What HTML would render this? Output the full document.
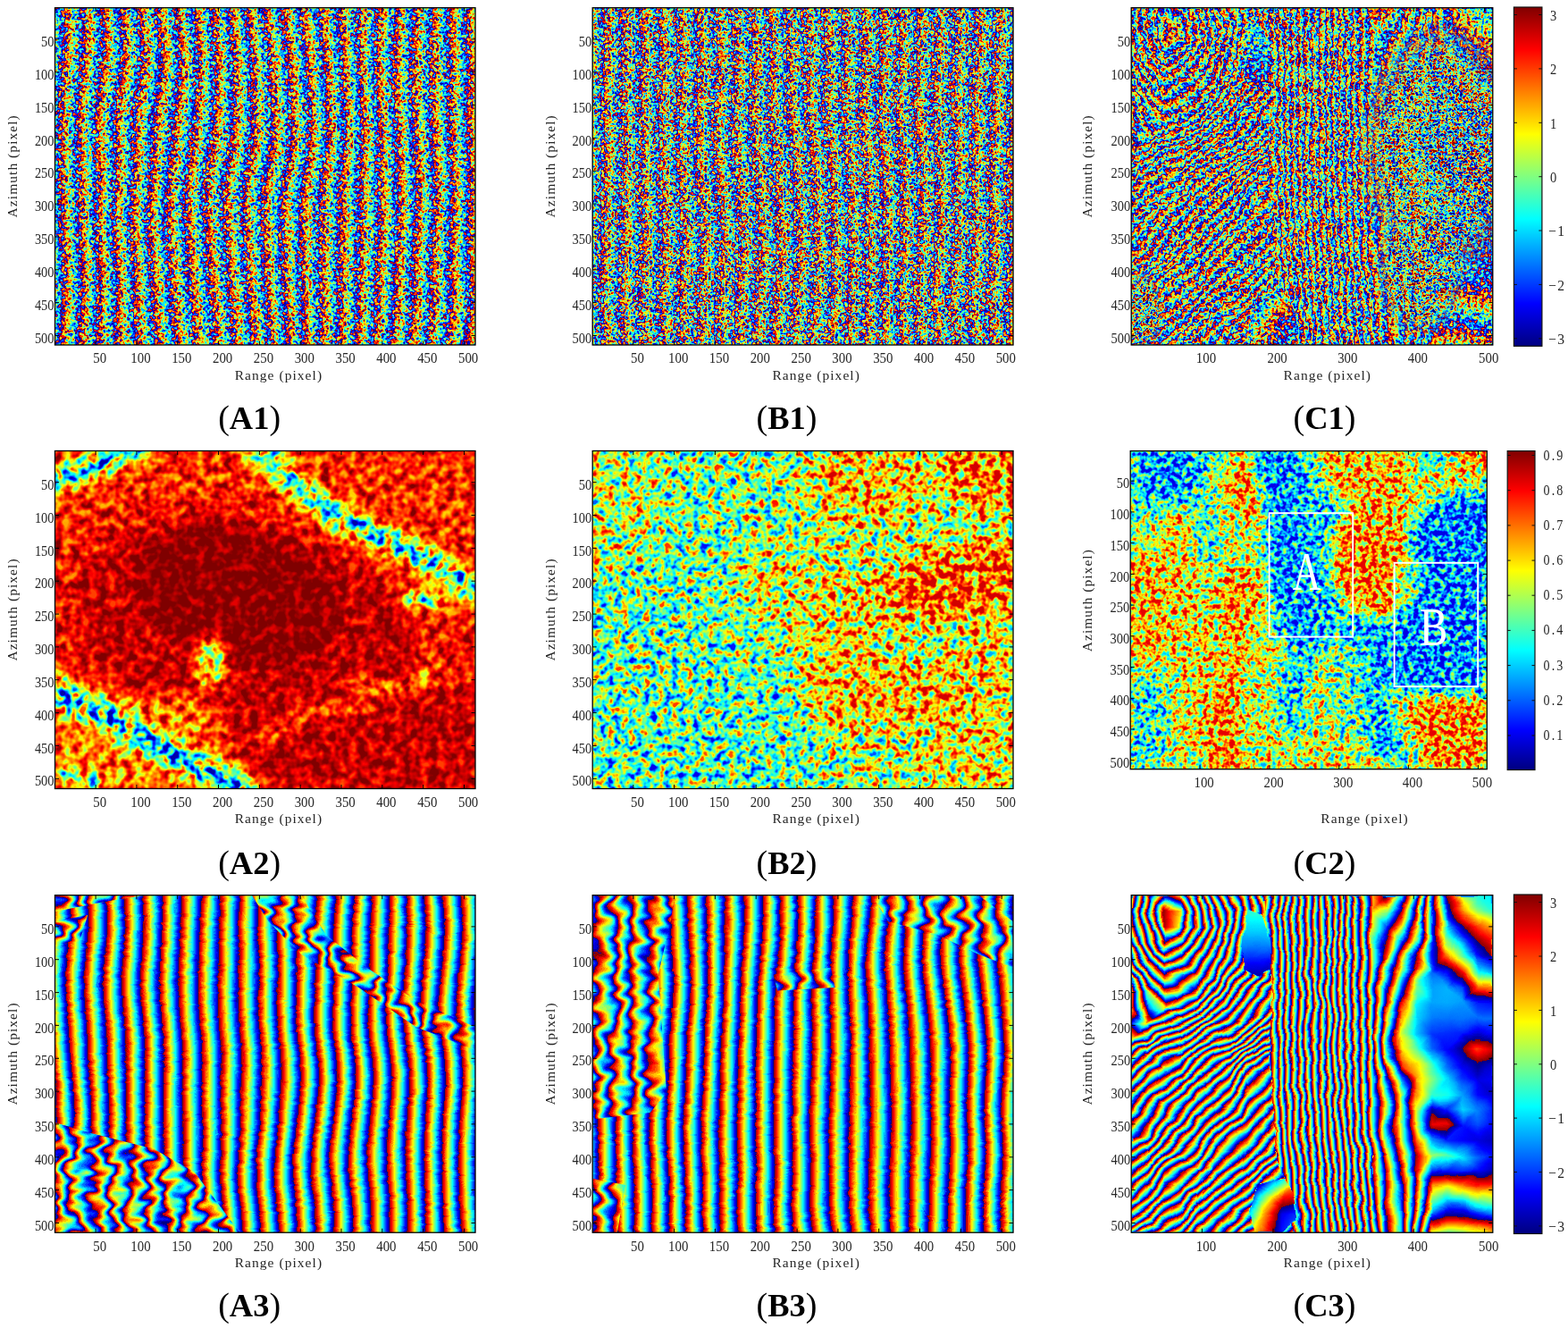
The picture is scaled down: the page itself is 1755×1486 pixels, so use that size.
<!DOCTYPE html>
<html lang="en"><head><meta charset="utf-8"><title>Interferograms, coherence maps and filtered phase</title>
<style>
html,body{margin:0;padding:0;background:#fff;}
body{width:1755px;height:1486px;overflow:hidden;}
svg{display:block;}
text{font-family:"Liberation Serif","Noto Serif CJK SC",serif;}
.pl{font-size:36.5px;}
.pb{font-weight:bold;}
.pp{font-weight:normal;font-size:38px;}
</style></head>
<body>
<svg width="1755" height="1486" viewBox="0 0 1755 1486">
<defs>
<linearGradient id="sw" gradientUnits="userSpaceOnUse" spreadMethod="repeat"><stop offset="0" stop-color="#fff"/><stop offset="1" stop-color="#000"/></linearGradient>
<clipPath id="kcr"><path d="M267.3,0.7L404.8,0.7L404.8,378.2L267.3,378.2Z"/></clipPath>
<linearGradient id="k0" href="#sw" x1="241.82" y1="-1.79" x2="200.32" y2="-5.60"/>
<linearGradient id="k1" href="#sw" x1="286.37" y1="2.55" x2="294.96" y2="34.36"/>
<linearGradient id="k2" href="#sw" x1="286.96" y1="1.30" x2="305.76" y2="11.64"/>
<linearGradient id="k3" href="#sw" x1="286.85" y1="1.55" x2="303.73" y2="16.11"/>
<linearGradient id="k4" href="#sw" x1="307.99" y1="2.53" x2="322.09" y2="7.57"/>
<linearGradient id="k5" href="#sw" x1="324.25" y1="2.16" x2="339.16" y2="7.10"/>
<linearGradient id="k6" href="#sw" x1="322.35" y1="0.88" x2="330.83" y2="1.51"/>
<linearGradient id="k7" href="#sw" x1="322.54" y1="1.21" x2="331.67" y2="2.94"/>
<linearGradient id="k8" href="#sw" x1="340.70" y1="1.13" x2="353.49" y2="2.56"/>
<linearGradient id="k9" href="#sw" x1="369.12" y1="-0.24" x2="384.57" y2="-1.19"/>
<linearGradient id="k10" href="#sw" x1="385.01" y1="-12.53" x2="416.52" y2="-25.89"/>
<linearGradient id="k11" href="#sw" x1="402.88" y1="-9.32" x2="452.43" y2="-19.43"/>
<linearGradient id="k12" href="#sw" x1="392.92" y1="-30.16" x2="434.42" y2="-88.07"/>
<linearGradient id="k13" href="#sw" x1="411.79" y1="-11.96" x2="472.65" y2="-44.10"/>
<linearGradient id="k14" href="#sw" x1="469.96" y1="-107.14" x2="678.53" y2="-380.92"/>
<linearGradient id="k15" href="#sw" x1="416.76" y1="-30.58" x2="490.24" y2="-109.99"/>
<linearGradient id="k16" href="#sw" x1="278.99" y1="45.78" x2="293.65" y2="86.25"/>
<linearGradient id="k17" href="#sw" x1="294.13" y1="20.61" x2="330.73" y2="24.60"/>
<linearGradient id="k18" href="#sw" x1="297.44" y1="25.30" x2="318.27" y2="38.70"/>
<linearGradient id="k19" href="#sw" x1="325.53" y1="31.79" x2="348.71" y2="46.02"/>
<linearGradient id="k20" href="#sw" x1="318.40" y1="21.03" x2="334.28" y2="24.28"/>
<linearGradient id="k21" href="#sw" x1="319.06" y1="23.69" x2="335.61" y2="29.65"/>
<linearGradient id="k22" href="#sw" x1="328.72" y1="18.89" x2="338.04" y2="19.98"/>
<linearGradient id="k23" href="#sw" x1="338.50" y1="17.84" x2="349.31" y2="17.74"/>
<linearGradient id="k24" href="#sw" x1="339.12" y1="17.38" x2="353.96" y2="14.24"/>
<linearGradient id="k25" href="#sw" x1="339.81" y1="17.81" x2="359.19" y2="17.49"/>
<linearGradient id="k26" href="#sw" x1="355.82" y1="16.46" x2="390.38" y2="-7.82"/>
<linearGradient id="k27" href="#sw" x1="391.49" y1="-5.53" x2="419.85" y2="-37.64"/>
<linearGradient id="k28" href="#sw" x1="390.90" y1="-9.26" x2="418.45" y2="-46.49"/>
<linearGradient id="k29" href="#sw" x1="390.75" y1="-8.99" x2="418.12" y2="-45.84"/>
<linearGradient id="k30" href="#sw" x1="397.22" y1="-8.14" x2="415.65" y2="-59.10"/>
<linearGradient id="k31" href="#sw" x1="416.02" y1="-2.44" x2="443.83" y2="-52.72"/>
<linearGradient id="k32" href="#sw" x1="291.90" y1="38.92" x2="327.90" y2="45.03"/>
<linearGradient id="k33" href="#sw" x1="290.56" y1="36.64" x2="316.54" y2="45.62"/>
<linearGradient id="k34" href="#sw" x1="289.28" y1="37.85" x2="308.16" y2="53.54"/>
<linearGradient id="k35" href="#sw" x1="289.58" y1="35.98" x2="310.10" y2="41.33"/>
<linearGradient id="k36" href="#sw" x1="312.66" y1="39.79" x2="327.77" y2="47.15"/>
<linearGradient id="k37" href="#sw" x1="332.68" y1="40.60" x2="350.02" y2="48.15"/>
<linearGradient id="k38" href="#sw" x1="327.84" y1="35.09" x2="338.65" y2="35.19"/>
<linearGradient id="k39" href="#sw" x1="329.30" y1="37.79" x2="342.08" y2="41.53"/>
<linearGradient id="k40" href="#sw" x1="340.09" y1="35.07" x2="359.47" y2="35.39"/>
<linearGradient id="k41" href="#sw" x1="360.76" y1="32.50" x2="384.57" y2="23.86"/>
<linearGradient id="k42" href="#sw" x1="365.78" y1="25.94" x2="406.81" y2="-5.23"/>
<linearGradient id="k43" href="#sw" x1="364.32" y1="26.80" x2="400.35" y2="-1.41"/>
<linearGradient id="k44" href="#sw" x1="372.04" y1="33.92" x2="414.41" y2="-4.39"/>
<linearGradient id="k45" href="#sw" x1="423.73" y1="6.44" x2="468.18" y2="-28.93"/>
<linearGradient id="k46" href="#sw" x1="418.96" y1="-9.91" x2="457.50" y2="-65.50"/>
<linearGradient id="k47" href="#sw" x1="421.68" y1="-16.38" x2="463.60" y2="-79.99"/>
<linearGradient id="k48" href="#sw" x1="283.49" y1="57.16" x2="309.54" y2="66.04"/>
<linearGradient id="k49" href="#sw" x1="281.03" y1="52.20" x2="302.69" y2="52.23"/>
<linearGradient id="k50" href="#sw" x1="305.95" y1="57.34" x2="326.51" y2="62.62"/>
<linearGradient id="k51" href="#sw" x1="305.79" y1="53.40" x2="320.34" y2="59.49"/>
<linearGradient id="k52" href="#sw" x1="306.23" y1="53.80" x2="322.96" y2="61.87"/>
<linearGradient id="k53" href="#sw" x1="306.22" y1="53.91" x2="322.87" y2="62.51"/>
<linearGradient id="k54" href="#sw" x1="324.59" y1="53.72" x2="337.14" y2="57.79"/>
<linearGradient id="k55" href="#sw" x1="339.99" y1="52.19" x2="360.57" y2="52.25"/>
<linearGradient id="k56" href="#sw" x1="340.37" y1="50.73" x2="363.42" y2="41.25"/>
<linearGradient id="k57" href="#sw" x1="343.94" y1="52.23" x2="390.32" y2="52.54"/>
<linearGradient id="k58" href="#sw" x1="370.83" y1="37.10" x2="403.37" y2="8.26"/>
<linearGradient id="k59" href="#sw" x1="378.66" y1="46.04" x2="412.70" y2="19.39"/>
<linearGradient id="k60" href="#sw" x1="383.08" y1="44.79" x2="436.36" y2="12.71"/>
<linearGradient id="k61" href="#sw" x1="378.48" y1="46.66" x2="411.73" y2="22.71"/>
<linearGradient id="k62" href="#sw" x1="447.29" y1="-16.12" x2="506.99" y2="-84.68"/>
<linearGradient id="k63" href="#sw" x1="466.39" y1="2.59" x2="536.90" y2="-54.18"/>
<linearGradient id="k64" href="#sw" x1="281.00" y1="69.09" x2="302.65" y2="68.65"/>
<linearGradient id="k65" href="#sw" x1="296.13" y1="72.54" x2="309.37" y2="76.68"/>
<linearGradient id="k66" href="#sw" x1="297.91" y1="73.15" x2="313.45" y2="78.08"/>
<linearGradient id="k67" href="#sw" x1="298.01" y1="74.04" x2="313.68" y2="80.11"/>
<linearGradient id="k68" href="#sw" x1="317.16" y1="74.93" x2="335.46" y2="82.10"/>
<linearGradient id="k69" href="#sw" x1="338.79" y1="76.27" x2="358.18" y2="83.37"/>
<linearGradient id="k70" href="#sw" x1="339.80" y1="67.64" x2="360.22" y2="65.91"/>
<linearGradient id="k71" href="#sw" x1="345.78" y1="84.96" x2="372.34" y2="100.95"/>
<linearGradient id="k72" href="#sw" x1="343.58" y1="68.05" x2="388.32" y2="59.49"/>
<linearGradient id="k73" href="#sw" x1="367.39" y1="32.34" x2="384.67" y2="-14.83"/>
<linearGradient id="k74" href="#sw" x1="370.37" y1="48.39" x2="391.46" y2="21.69"/>
<linearGradient id="k75" href="#sw" x1="373.88" y1="42.18" x2="399.45" y2="7.54"/>
<linearGradient id="k76" href="#sw" x1="381.00" y1="57.48" x2="402.43" y2="32.52"/>
<linearGradient id="k77" href="#sw" x1="391.66" y1="67.28" x2="419.45" y2="52.40"/>
<linearGradient id="k78" href="#sw" x1="391.16" y1="62.81" x2="415.32" y2="15.64"/>
<linearGradient id="k79" href="#sw" x1="391.28" y1="61.65" x2="416.34" y2="6.17"/>
<linearGradient id="k80" href="#sw" x1="276.83" y1="88.30" x2="290.65" y2="91.44"/>
<linearGradient id="k81" href="#sw" x1="276.90" y1="88.49" x2="290.82" y2="91.97"/>
<linearGradient id="k82" href="#sw" x1="292.65" y1="88.41" x2="309.34" y2="93.11"/>
<linearGradient id="k83" href="#sw" x1="310.58" y1="88.68" x2="327.25" y2="93.39"/>
<linearGradient id="k84" href="#sw" x1="312.42" y1="88.95" x2="333.05" y2="94.26"/>
<linearGradient id="k85" href="#sw" x1="312.64" y1="90.20" x2="333.75" y2="98.20"/>
<linearGradient id="k86" href="#sw" x1="341.05" y1="95.47" x2="371.75" y2="108.46"/>
<linearGradient id="k87" href="#sw" x1="353.55" y1="81.56" x2="429.04" y2="59.24"/>
<linearGradient id="k88" href="#sw" x1="345.44" y1="72.21" x2="384.29" y2="7.69"/>
<linearGradient id="k89" href="#sw" x1="320.98" y1="29.44" x2="249.36" y2="-228.33"/>
<linearGradient id="k90" href="#sw" x1="358.36" y1="82.76" x2="401.51" y2="47.19"/>
<linearGradient id="k91" href="#sw" x1="385.02" y1="44.83" x2="401.32" y2="-3.03"/>
<linearGradient id="k92" href="#sw" x1="390.15" y1="71.40" x2="412.35" y2="54.05"/>
<linearGradient id="k93" href="#sw" x1="393.18" y1="69.62" x2="418.86" y2="50.24"/>
<linearGradient id="k94" href="#sw" x1="392.92" y1="69.98" x2="405.84" y2="28.22"/>
<linearGradient id="k95" href="#sw" x1="405.44" y1="76.11" x2="407.74" y2="39.07"/>
<linearGradient id="k96" href="#sw" x1="273.07" y1="103.22" x2="287.70" y2="101.69"/>
<linearGradient id="k97" href="#sw" x1="287.60" y1="103.76" x2="300.14" y2="104.50"/>
<linearGradient id="k98" href="#sw" x1="288.15" y1="104.33" x2="304.70" y2="109.22"/>
<linearGradient id="k99" href="#sw" x1="287.90" y1="103.80" x2="302.67" y2="104.83"/>
<linearGradient id="k100" href="#sw" x1="306.90" y1="105.26" x2="327.77" y2="113.53"/>
<linearGradient id="k101" href="#sw" x1="334.92" y1="106.71" x2="365.68" y2="112.95"/>
<linearGradient id="k102" href="#sw" x1="360.08" y1="103.11" x2="442.15" y2="102.01"/>
<linearGradient id="k103" href="#sw" x1="358.27" y1="146.95" x2="436.65" y2="235.29"/>
<linearGradient id="k104" href="#sw" x1="61.30" y1="58.46" x2="-911.80" y2="-101.16"/>
<linearGradient id="k105" href="#sw" x1="78.89" y1="522.27" x2="-837.07" y2="1916.93"/>
<linearGradient id="k106" href="#sw" x1="382.04" y1="80.59" x2="476.02" y2="3.76"/>
<linearGradient id="k107" href="#sw" x1="648.07" y1="346.86" x2="1628.35" y2="1157.13"/>
<linearGradient id="k108" href="#sw" x1="378.22" y1="102.10" x2="416.83" y2="93.98"/>
<linearGradient id="k109" href="#sw" x1="397.70" y1="72.75" x2="410.54" y2="32.64"/>
<linearGradient id="k110" href="#sw" x1="390.26" y1="70.12" x2="393.43" y2="26.59"/>
<linearGradient id="k111" href="#sw" x1="389.95" y1="69.72" x2="392.72" y2="25.67"/>
<linearGradient id="k112" href="#sw" x1="273.73" y1="121.96" x2="285.66" y2="124.76"/>
<linearGradient id="k113" href="#sw" x1="273.00" y1="120.79" x2="283.11" y2="120.74"/>
<linearGradient id="k114" href="#sw" x1="286.65" y1="121.03" x2="300.43" y2="124.85"/>
<linearGradient id="k115" href="#sw" x1="317.57" y1="123.58" x2="333.70" y2="126.62"/>
<linearGradient id="k116" href="#sw" x1="331.81" y1="123.52" x2="363.55" y2="126.48"/>
<linearGradient id="k117" href="#sw" x1="335.01" y1="136.70" x2="370.27" y2="154.13"/>
<linearGradient id="k118" href="#sw" x1="373.33" y1="148.56" x2="513.54" y2="221.30"/>
<linearGradient id="k119" href="#sw" x1="384.16" y1="142.55" x2="549.61" y2="218.56"/>
<linearGradient id="k120" href="#sw" x1="326.97" y1="212.92" x2="292.45" y2="534.99"/>
<linearGradient id="k121" href="#sw" x1="360.69" y1="240.81" x2="444.09" y2="660.40"/>
<linearGradient id="k122" href="#sw" x1="371.88" y1="212.23" x2="433.78" y2="525.78"/>
<linearGradient id="k123" href="#sw" x1="372.24" y1="233.26" x2="377.29" y2="633.07"/>
<linearGradient id="k124" href="#sw" x1="399.46" y1="103.71" x2="501.30" y2="42.88"/>
<linearGradient id="k125" href="#sw" x1="386.08" y1="231.17" x2="440.33" y2="623.54"/>
<linearGradient id="k126" href="#sw" x1="398.69" y1="87.78" x2="467.42" y2="-120.90"/>
<linearGradient id="k127" href="#sw" x1="404.19" y1="98.06" x2="399.63" y2="-71.61"/>
<linearGradient id="k128" href="#sw" x1="272.95" y1="138.73" x2="282.73" y2="140.54"/>
<linearGradient id="k129" href="#sw" x1="293.66" y1="139.01" x2="304.25" y2="140.41"/>
<linearGradient id="k130" href="#sw" x1="297.97" y1="139.50" x2="314.41" y2="141.58"/>
<linearGradient id="k131" href="#sw" x1="298.60" y1="140.82" x2="315.89" y2="144.69"/>
<linearGradient id="k132" href="#sw" x1="331.26" y1="147.39" x2="370.78" y2="160.49"/>
<linearGradient id="k133" href="#sw" x1="340.35" y1="139.17" x2="402.20" y2="142.78"/>
<linearGradient id="k134" href="#sw" x1="359.01" y1="170.64" x2="477.15" y2="269.20"/>
<linearGradient id="k135" href="#sw" x1="359.53" y1="142.50" x2="479.24" y2="156.15"/>
<linearGradient id="k136" href="#sw" x1="343.25" y1="196.51" x2="369.22" y2="433.85"/>
<linearGradient id="k137" href="#sw" x1="360.88" y1="193.30" x2="390.41" y2="424.91"/>
<linearGradient id="k138" href="#sw" x1="354.14" y1="186.59" x2="355.45" y2="390.10"/>
<linearGradient id="k139" href="#sw" x1="362.89" y1="192.70" x2="400.81" y2="421.80"/>
<linearGradient id="k140" href="#sw" x1="374.22" y1="186.24" x2="388.47" y2="388.76"/>
<linearGradient id="k141" href="#sw" x1="398.40" y1="164.45" x2="443.96" y2="278.36"/>
<linearGradient id="k142" href="#sw" x1="386.95" y1="173.61" x2="383.23" y2="326.90"/>
<linearGradient id="k143" href="#sw" x1="382.99" y1="167.91" x2="362.28" y2="296.71"/>
<linearGradient id="k144" href="#sw" x1="269.96" y1="155.25" x2="280.62" y2="156.38"/>
<linearGradient id="k145" href="#sw" x1="269.77" y1="155.05" x2="278.45" y2="154.20"/>
<linearGradient id="k146" href="#sw" x1="295.10" y1="156.79" x2="312.69" y2="159.96"/>
<linearGradient id="k147" href="#sw" x1="316.92" y1="153.98" x2="340.79" y2="152.03"/>
<linearGradient id="k148" href="#sw" x1="332.47" y1="140.79" x2="382.75" y2="116.45"/>
<linearGradient id="k149" href="#sw" x1="349.35" y1="141.56" x2="428.27" y2="118.52"/>
<linearGradient id="k150" href="#sw" x1="340.02" y1="136.04" x2="404.01" y2="75.50"/>
<linearGradient id="k151" href="#sw" x1="349.28" y1="152.88" x2="420.30" y2="140.04"/>
<linearGradient id="k152" href="#sw" x1="354.17" y1="227.97" x2="453.09" y2="643.71"/>
<linearGradient id="k153" href="#sw" x1="363.91" y1="142.61" x2="518.40" y2="71.14"/>
<linearGradient id="k154" href="#sw" x1="374.39" y1="221.70" x2="498.27" y2="622.71"/>
<linearGradient id="k155" href="#sw" x1="380.08" y1="166.51" x2="440.22" y2="240.40"/>
<linearGradient id="k156" href="#sw" x1="372.41" y1="163.99" x2="382.74" y2="221.49"/>
<linearGradient id="k157" href="#sw" x1="379.66" y1="161.22" x2="437.04" y2="200.75"/>
<linearGradient id="k158" href="#sw" x1="387.37" y1="161.19" x2="383.10" y2="220.24"/>
<linearGradient id="k159" href="#sw" x1="399.57" y1="162.98" x2="357.11" y2="226.64"/>
<linearGradient id="k160" href="#sw" x1="271.43" y1="172.20" x2="280.19" y2="171.87"/>
<linearGradient id="k161" href="#sw" x1="289.28" y1="171.72" x2="298.90" y2="170.10"/>
<linearGradient id="k162" href="#sw" x1="293.94" y1="170.38" x2="316.69" y2="165.00"/>
<linearGradient id="k163" href="#sw" x1="292.35" y1="170.04" x2="310.63" y2="163.68"/>
<linearGradient id="k164" href="#sw" x1="335.26" y1="144.96" x2="385.29" y2="102.74"/>
<linearGradient id="k165" href="#sw" x1="340.12" y1="150.84" x2="385.23" y2="103.07"/>
<linearGradient id="k166" href="#sw" x1="339.75" y1="156.18" x2="384.07" y2="120.32"/>
<linearGradient id="k167" href="#sw" x1="339.70" y1="156.21" x2="383.91" y2="120.42"/>
<linearGradient id="k168" href="#sw" x1="344.56" y1="156.31" x2="380.06" y2="82.84"/>
<linearGradient id="k169" href="#sw" x1="363.10" y1="167.59" x2="436.10" y2="130.59"/>
<linearGradient id="k170" href="#sw" x1="366.79" y1="163.33" x2="468.87" y2="92.72"/>
<linearGradient id="k171" href="#sw" x1="364.77" y1="164.32" x2="450.95" y2="101.48"/>
<linearGradient id="k172" href="#sw" x1="371.88" y1="171.88" x2="445.43" y2="143.36"/>
<linearGradient id="k173" href="#sw" x1="422.01" y1="113.46" x2="464.04" y2="41.15"/>
<linearGradient id="k174" href="#sw" x1="334.06" y1="116.24" x2="268.00" y2="47.34"/>
<linearGradient id="k175" href="#sw" x1="359.23" y1="105.88" x2="324.10" y2="24.25"/>
<linearGradient id="k176" href="#sw" x1="272.22" y1="188.52" x2="281.40" y2="185.97"/>
<linearGradient id="k177" href="#sw" x1="273.17" y1="188.90" x2="284.97" y2="187.41"/>
<linearGradient id="k178" href="#sw" x1="295.80" y1="183.72" x2="311.18" y2="174.86"/>
<linearGradient id="k179" href="#sw" x1="315.64" y1="183.60" x2="331.30" y2="176.43"/>
<linearGradient id="k180" href="#sw" x1="367.47" y1="159.89" x2="446.59" y2="123.68"/>
<linearGradient id="k181" href="#sw" x1="319.36" y1="176.17" x2="339.57" y2="159.90"/>
<linearGradient id="k182" href="#sw" x1="361.51" y1="174.87" x2="426.71" y2="152.05"/>
<linearGradient id="k183" href="#sw" x1="363.39" y1="176.70" x2="428.64" y2="145.37"/>
<linearGradient id="k184" href="#sw" x1="364.78" y1="173.25" x2="433.46" y2="133.44"/>
<linearGradient id="k185" href="#sw" x1="366.02" y1="172.92" x2="437.73" y2="132.30"/>
<linearGradient id="k186" href="#sw" x1="371.09" y1="175.06" x2="448.94" y2="110.13"/>
<linearGradient id="k187" href="#sw" x1="378.82" y1="185.33" x2="464.91" y2="141.00"/>
<linearGradient id="k188" href="#sw" x1="378.16" y1="181.72" x2="457.09" y2="98.62"/>
<linearGradient id="k189" href="#sw" x1="380.63" y1="178.90" x2="486.10" y2="65.42"/>
<linearGradient id="k190" href="#sw" x1="314.11" y1="84.63" x2="239.74" y2="-21.15"/>
<linearGradient id="k191" href="#sw" x1="397.74" y1="169.41" x2="291.58" y2="-132.08"/>
<linearGradient id="k192" href="#sw" x1="275.42" y1="206.76" x2="287.40" y2="207.04"/>
<linearGradient id="k193" href="#sw" x1="287.78" y1="205.87" x2="302.64" y2="200.14"/>
<linearGradient id="k194" href="#sw" x1="288.05" y1="205.87" x2="305.02" y2="200.08"/>
<linearGradient id="k195" href="#sw" x1="287.81" y1="205.85" x2="302.87" y2="199.92"/>
<linearGradient id="k196" href="#sw" x1="308.53" y1="203.21" x2="333.02" y2="188.53"/>
<linearGradient id="k197" href="#sw" x1="335.49" y1="205.86" x2="357.19" y2="204.82"/>
<linearGradient id="k198" href="#sw" x1="369.87" y1="226.47" x2="439.23" y2="254.01"/>
<linearGradient id="k199" href="#sw" x1="356.05" y1="202.55" x2="406.25" y2="196.93"/>
<linearGradient id="k200" href="#sw" x1="376.42" y1="225.15" x2="454.10" y2="261.53"/>
<linearGradient id="k201" href="#sw" x1="394.93" y1="136.06" x2="519.42" y2="-77.65"/>
<linearGradient id="k202" href="#sw" x1="378.21" y1="189.81" x2="452.06" y2="138.93"/>
<linearGradient id="k203" href="#sw" x1="393.84" y1="184.50" x2="515.02" y2="117.51"/>
<linearGradient id="k204" href="#sw" x1="383.71" y1="188.04" x2="457.77" y2="81.42"/>
<linearGradient id="k205" href="#sw" x1="398.45" y1="204.53" x2="505.39" y2="183.65"/>
<linearGradient id="k206" href="#sw" x1="376.21" y1="237.84" x2="259.60" y2="551.89"/>
<linearGradient id="k207" href="#sw" x1="410.25" y1="195.53" x2="635.87" y2="84.16"/>
<linearGradient id="k208" href="#sw" x1="277.62" y1="223.86" x2="294.69" y2="224.03"/>
<linearGradient id="k209" href="#sw" x1="277.52" y1="223.75" x2="294.38" y2="223.72"/>
<linearGradient id="k210" href="#sw" x1="294.86" y1="223.86" x2="312.26" y2="224.04"/>
<linearGradient id="k211" href="#sw" x1="312.36" y1="223.77" x2="329.95" y2="223.76"/>
<linearGradient id="k212" href="#sw" x1="313.94" y1="226.48" x2="334.46" y2="231.51"/>
<linearGradient id="k213" href="#sw" x1="312.27" y1="223.77" x2="329.70" y2="223.76"/>
<linearGradient id="k214" href="#sw" x1="348.90" y1="240.40" x2="387.17" y2="262.33"/>
<linearGradient id="k215" href="#sw" x1="345.58" y1="230.15" x2="366.15" y2="245.19"/>
<linearGradient id="k216" href="#sw" x1="341.62" y1="254.97" x2="352.87" y2="328.46"/>
<linearGradient id="k217" href="#sw" x1="331.22" y1="240.19" x2="318.00" y2="278.86"/>
<linearGradient id="k218" href="#sw" x1="365.21" y1="247.70" x2="394.37" y2="309.04"/>
<linearGradient id="k219" href="#sw" x1="345.48" y1="216.12" x2="255.82" y2="189.07"/>
<linearGradient id="k220" href="#sw" x1="389.40" y1="208.35" x2="455.14" y2="153.79"/>
<linearGradient id="k221" href="#sw" x1="413.31" y1="195.10" x2="563.62" y2="93.71"/>
<linearGradient id="k222" href="#sw" x1="394.55" y1="209.64" x2="446.50" y2="100.64"/>
<linearGradient id="k223" href="#sw" x1="412.29" y1="220.03" x2="520.62" y2="165.91"/>
<linearGradient id="k224" href="#sw" x1="277.53" y1="240.63" x2="294.38" y2="240.06"/>
<linearGradient id="k225" href="#sw" x1="293.07" y1="241.76" x2="307.27" y2="243.41"/>
<linearGradient id="k226" href="#sw" x1="294.78" y1="241.04" x2="312.36" y2="241.25"/>
<linearGradient id="k227" href="#sw" x1="295.85" y1="242.55" x2="315.55" y2="245.75"/>
<linearGradient id="k228" href="#sw" x1="312.28" y1="241.04" x2="329.70" y2="241.26"/>
<linearGradient id="k229" href="#sw" x1="329.71" y1="241.05" x2="347.13" y2="241.26"/>
<linearGradient id="k230" href="#sw" x1="336.57" y1="245.28" x2="366.14" y2="252.98"/>
<linearGradient id="k231" href="#sw" x1="334.24" y1="241.18" x2="359.67" y2="241.63"/>
<linearGradient id="k232" href="#sw" x1="335.18" y1="242.65" x2="274.62" y2="305.74"/>
<linearGradient id="k233" href="#sw" x1="353.90" y1="250.92" x2="354.30" y2="312.67"/>
<linearGradient id="k234" href="#sw" x1="346.69" y1="248.81" x2="302.63" y2="297.48"/>
<linearGradient id="k235" href="#sw" x1="348.84" y1="246.25" x2="318.03" y2="279.13"/>
<linearGradient id="k236" href="#sw" x1="381.16" y1="266.46" x2="411.97" y2="342.55"/>
<linearGradient id="k237" href="#sw" x1="350.70" y1="279.68" x2="206.82" y2="429.92"/>
<linearGradient id="k238" href="#sw" x1="422.46" y1="243.94" x2="556.82" y2="255.60"/>
<linearGradient id="k239" href="#sw" x1="423.68" y1="268.43" x2="562.76" y2="375.06"/>
<linearGradient id="k240" href="#sw" x1="276.69" y1="257.25" x2="290.92" y2="255.73"/>
<linearGradient id="k241" href="#sw" x1="275.41" y1="256.63" x2="287.31" y2="253.97"/>
<linearGradient id="k242" href="#sw" x1="293.16" y1="256.99" x2="312.93" y2="254.02"/>
<linearGradient id="k243" href="#sw" x1="312.52" y1="257.67" x2="330.81" y2="256.89"/>
<linearGradient id="k244" href="#sw" x1="311.68" y1="256.24" x2="328.38" y2="252.74"/>
<linearGradient id="k245" href="#sw" x1="313.93" y1="257.54" x2="334.90" y2="256.51"/>
<linearGradient id="k246" href="#sw" x1="332.73" y1="254.15" x2="356.00" y2="247.03"/>
<linearGradient id="k247" href="#sw" x1="355.71" y1="242.72" x2="377.01" y2="225.37"/>
<linearGradient id="k248" href="#sw" x1="337.22" y1="202.13" x2="337.64" y2="138.96"/>
<linearGradient id="k249" href="#sw" x1="348.00" y1="223.12" x2="360.60" y2="183.64"/>
<linearGradient id="k250" href="#sw" x1="325.93" y1="228.99" x2="294.37" y2="196.07"/>
<linearGradient id="k251" href="#sw" x1="433.36" y1="291.52" x2="874.23" y2="527.22"/>
<linearGradient id="k252" href="#sw" x1="361.19" y1="275.92" x2="293.33" y2="401.64"/>
<linearGradient id="k253" href="#sw" x1="429.91" y1="286.76" x2="846.41" y2="488.90"/>
<linearGradient id="k254" href="#sw" x1="403.18" y1="278.99" x2="480.66" y2="384.38"/>
<linearGradient id="k255" href="#sw" x1="418.10" y1="280.83" x2="527.61" y2="468.19"/>
<linearGradient id="k256" href="#sw" x1="279.37" y1="273.79" x2="291.63" y2="272.10"/>
<linearGradient id="k257" href="#sw" x1="292.01" y1="274.30" x2="304.38" y2="272.40"/>
<linearGradient id="k258" href="#sw" x1="294.37" y1="273.01" x2="311.50" y2="268.51"/>
<linearGradient id="k259" href="#sw" x1="294.86" y1="273.16" x2="312.98" y2="268.96"/>
<linearGradient id="k260" href="#sw" x1="313.81" y1="271.94" x2="333.07" y2="266.13"/>
<linearGradient id="k261" href="#sw" x1="334.36" y1="271.35" x2="353.46" y2="266.23"/>
<linearGradient id="k262" href="#sw" x1="340.86" y1="264.10" x2="368.52" y2="249.44"/>
<linearGradient id="k263" href="#sw" x1="342.97" y1="263.75" x2="373.40" y2="248.61"/>
<linearGradient id="k264" href="#sw" x1="344.24" y1="260.14" x2="370.66" y2="206.27"/>
<linearGradient id="k265" href="#sw" x1="356.13" y1="266.96" x2="370.94" y2="213.70"/>
<linearGradient id="k266" href="#sw" x1="355.35" y1="263.78" x2="365.09" y2="190.11"/>
<linearGradient id="k267" href="#sw" x1="356.54" y1="267.23" x2="373.95" y2="215.75"/>
<linearGradient id="k268" href="#sw" x1="372.16" y1="266.02" x2="382.85" y2="192.62"/>
<linearGradient id="k269" href="#sw" x1="393.60" y1="268.97" x2="456.05" y2="201.24"/>
<linearGradient id="k270" href="#sw" x1="394.77" y1="260.11" x2="469.92" y2="96.81"/>
<linearGradient id="k271" href="#sw" x1="393.15" y1="267.17" x2="450.83" y2="180.01"/>
<linearGradient id="k272" href="#sw" x1="269.43" y1="292.31" x2="281.72" y2="290.12"/>
<linearGradient id="k273" href="#sw" x1="269.61" y1="292.44" x2="285.76" y2="293.20"/>
<linearGradient id="k274" href="#sw" x1="298.42" y1="289.03" x2="316.23" y2="284.25"/>
<linearGradient id="k275" href="#sw" x1="316.52" y1="290.56" x2="333.28" y2="288.30"/>
<linearGradient id="k276" href="#sw" x1="319.39" y1="293.96" x2="339.68" y2="295.88"/>
<linearGradient id="k277" href="#sw" x1="315.89" y1="290.73" x2="331.89" y2="288.67"/>
<linearGradient id="k278" href="#sw" x1="356.11" y1="298.75" x2="392.94" y2="305.19"/>
<linearGradient id="k279" href="#sw" x1="346.58" y1="297.30" x2="364.73" y2="306.41"/>
<linearGradient id="k280" href="#sw" x1="343.75" y1="319.20" x2="356.62" y2="369.09"/>
<linearGradient id="k281" href="#sw" x1="338.48" y1="316.59" x2="341.54" y2="361.62"/>
<linearGradient id="k282" href="#sw" x1="360.74" y1="314.43" x2="375.93" y2="362.88"/>
<linearGradient id="k283" href="#sw" x1="365.10" y1="323.68" x2="348.97" y2="411.88"/>
<linearGradient id="k284" href="#sw" x1="400.46" y1="315.85" x2="484.04" y2="381.99"/>
<linearGradient id="k285" href="#sw" x1="376.94" y1="323.52" x2="394.20" y2="411.28"/>
<linearGradient id="k286" href="#sw" x1="407.43" y1="314.04" x2="492.91" y2="408.28"/>
<linearGradient id="k287" href="#sw" x1="417.49" y1="306.49" x2="508.19" y2="407.20"/>
<linearGradient id="k288" href="#sw" x1="284.09" y1="305.86" x2="299.37" y2="302.14"/>
<linearGradient id="k289" href="#sw" x1="298.38" y1="309.33" x2="311.62" y2="309.08"/>
<linearGradient id="k290" href="#sw" x1="301.72" y1="307.40" x2="318.47" y2="305.11"/>
<linearGradient id="k291" href="#sw" x1="304.06" y1="309.06" x2="323.30" y2="308.53"/>
<linearGradient id="k292" href="#sw" x1="318.06" y1="307.59" x2="334.05" y2="305.50"/>
<linearGradient id="k293" href="#sw" x1="331.67" y1="310.57" x2="344.71" y2="311.68"/>
<linearGradient id="k294" href="#sw" x1="334.60" y1="318.83" x2="350.88" y2="329.07"/>
<linearGradient id="k295" href="#sw" x1="333.56" y1="310.92" x2="348.69" y2="312.41"/>
<linearGradient id="k296" href="#sw" x1="337.15" y1="315.25" x2="339.10" y2="351.27"/>
<linearGradient id="k297" href="#sw" x1="354.43" y1="313.82" x2="359.00" y2="345.99"/>
<linearGradient id="k298" href="#sw" x1="353.45" y1="314.57" x2="350.56" y2="352.42"/>
<linearGradient id="k299" href="#sw" x1="352.98" y1="313.73" x2="346.51" y2="345.22"/>
<linearGradient id="k300" href="#sw" x1="371.34" y1="315.85" x2="374.44" y2="353.67"/>
<linearGradient id="k301" href="#sw" x1="385.67" y1="316.00" x2="369.20" y2="365.60"/>
<linearGradient id="k302" href="#sw" x1="391.02" y1="318.17" x2="415.77" y2="384.50"/>
<linearGradient id="k303" href="#sw" x1="387.80" y1="316.71" x2="387.68" y2="371.78"/>
<linearGradient id="k304" href="#sw" x1="272.23" y1="326.76" x2="285.47" y2="326.91"/>
<linearGradient id="k305" href="#sw" x1="271.93" y1="326.49" x2="283.97" y2="325.60"/>
<linearGradient id="k306" href="#sw" x1="304.54" y1="327.02" x2="323.79" y2="327.33"/>
<linearGradient id="k307" href="#sw" x1="304.83" y1="326.36" x2="327.30" y2="322.17"/>
<linearGradient id="k308" href="#sw" x1="304.01" y1="326.70" x2="317.14" y2="326.38"/>
<linearGradient id="k309" href="#sw" x1="303.91" y1="326.62" x2="315.94" y2="325.45"/>
<linearGradient id="k310" href="#sw" x1="331.99" y1="326.39" x2="347.25" y2="325.97"/>
<linearGradient id="k311" href="#sw" x1="345.21" y1="328.02" x2="357.46" y2="329.91"/>
<linearGradient id="k312" href="#sw" x1="345.29" y1="362.26" x2="357.66" y2="414.31"/>
<linearGradient id="k313" href="#sw" x1="364.11" y1="359.47" x2="404.04" y2="407.43"/>
<linearGradient id="k314" href="#sw" x1="343.53" y1="356.69" x2="326.62" y2="405.86"/>
<linearGradient id="k315" href="#sw" x1="368.52" y1="358.04" x2="365.32" y2="401.81"/>
<linearGradient id="k316" href="#sw" x1="362.34" y1="357.29" x2="350.50" y2="400.00"/>
<linearGradient id="k317" href="#sw" x1="361.94" y1="355.47" x2="349.52" y2="395.63"/>
<linearGradient id="k318" href="#sw" x1="387.75" y1="364.35" x2="387.67" y2="410.34"/>
<linearGradient id="k319" href="#sw" x1="394.59" y1="370.60" x2="382.11" y2="424.20"/>
<linearGradient id="k320" href="#sw" x1="273.14" y1="343.26" x2="284.99" y2="341.52"/>
<linearGradient id="k321" href="#sw" x1="296.44" y1="343.34" x2="307.50" y2="342.77"/>
<linearGradient id="k322" href="#sw" x1="307.96" y1="342.18" x2="331.07" y2="340.41"/>
<linearGradient id="k323" href="#sw" x1="307.20" y1="341.66" x2="329.51" y2="339.34"/>
<linearGradient id="k324" href="#sw" x1="305.59" y1="343.77" x2="317.71" y2="343.29"/>
<linearGradient id="k325" href="#sw" x1="328.44" y1="344.73" x2="338.84" y2="345.76"/>
<linearGradient id="k326" href="#sw" x1="329.62" y1="346.29" x2="341.44" y2="349.20"/>
<linearGradient id="k327" href="#sw" x1="328.92" y1="344.83" x2="339.91" y2="345.98"/>
<linearGradient id="k328" href="#sw" x1="346.69" y1="362.75" x2="367.57" y2="402.75"/>
<linearGradient id="k329" href="#sw" x1="360.16" y1="356.60" x2="381.47" y2="399.35"/>
<linearGradient id="k330" href="#sw" x1="352.64" y1="358.40" x2="348.65" y2="407.20"/>
<linearGradient id="k331" href="#sw" x1="353.80" y1="359.75" x2="353.71" y2="413.12"/>
<linearGradient id="k332" href="#sw" x1="365.89" y1="358.18" x2="350.73" y2="402.08"/>
<linearGradient id="k333" href="#sw" x1="383.13" y1="362.98" x2="372.63" y2="405.90"/>
<linearGradient id="k334" href="#sw" x1="383.16" y1="365.81" x2="372.70" y2="415.09"/>
<linearGradient id="k335" href="#sw" x1="382.16" y1="362.40" x2="369.46" y2="404.02"/>
<linearGradient id="k336" href="#sw" x1="275.14" y1="360.59" x2="286.17" y2="359.79"/>
<linearGradient id="k337" href="#sw" x1="273.85" y1="359.91" x2="282.60" y2="357.91"/>
<linearGradient id="k338" href="#sw" x1="286.64" y1="360.93" x2="308.72" y2="357.67"/>
<linearGradient id="k339" href="#sw" x1="308.51" y1="360.92" x2="328.55" y2="360.49"/>
<linearGradient id="k340" href="#sw" x1="305.73" y1="361.56" x2="315.90" y2="363.40"/>
<linearGradient id="k341" href="#sw" x1="305.34" y1="361.02" x2="314.14" y2="360.93"/>
<linearGradient id="k342" href="#sw" x1="326.97" y1="362.40" x2="337.68" y2="364.45"/>
<linearGradient id="k343" href="#sw" x1="338.02" y1="361.40" x2="346.82" y2="364.04"/>
<linearGradient id="k344" href="#sw" x1="338.12" y1="365.13" x2="347.61" y2="395.57"/>
<linearGradient id="k345" href="#sw" x1="337.87" y1="365.08" x2="345.54" y2="395.09"/>
<linearGradient id="k346" href="#sw" x1="353.79" y1="393.63" x2="353.76" y2="427.03"/>
<linearGradient id="k347" href="#sw" x1="367.37" y1="396.42" x2="363.84" y2="432.65"/>
<linearGradient id="k348" href="#sw" x1="364.22" y1="395.01" x2="357.47" y2="429.79"/>
<linearGradient id="k349" href="#sw" x1="364.48" y1="395.59" x2="357.99" y2="430.98"/>
<linearGradient id="k350" href="#sw" x1="387.25" y1="363.35" x2="378.99" y2="397.45"/>
<linearGradient id="k351" href="#sw" x1="403.74" y1="367.07" x2="397.93" y2="400.22"/>
<clipPath id="kcm"><path d="M146.4,0.7L269.7,0.7L269.7,378.2L182.0,378.2L175.6,332.5L160.6,295.6L156.7,221.9L152.7,185.0L156.7,103.9L148.8,44.9Z"/></clipPath>
<linearGradient id="k352" href="#sw" x1="149.37" y1="1.18" x2="157.19" y2="2.17"/>
<linearGradient id="k353" href="#sw" x1="165.38" y1="0.88" x2="173.61" y2="1.66"/>
<linearGradient id="k354" href="#sw" x1="165.13" y1="0.75" x2="172.29" y2="0.96"/>
<linearGradient id="k355" href="#sw" x1="165.23" y1="0.86" x2="172.80" y2="1.51"/>
<linearGradient id="k356" href="#sw" x1="187.03" y1="0.88" x2="194.74" y2="1.13"/>
<linearGradient id="k357" href="#sw" x1="202.52" y1="0.77" x2="210.34" y2="0.94"/>
<linearGradient id="k358" href="#sw" x1="202.41" y1="0.48" x2="209.98" y2="-0.02"/>
<linearGradient id="k359" href="#sw" x1="202.80" y1="0.78" x2="211.27" y2="0.98"/>
<linearGradient id="k360" href="#sw" x1="217.60" y1="0.66" x2="224.82" y2="0.20"/>
<linearGradient id="k361" href="#sw" x1="239.40" y1="0.35" x2="246.71" y2="-0.20"/>
<linearGradient id="k362" href="#sw" x1="239.16" y1="0.35" x2="246.08" y2="-0.19"/>
<linearGradient id="k363" href="#sw" x1="239.20" y1="0.38" x2="246.19" y2="-0.12"/>
<linearGradient id="k364" href="#sw" x1="253.48" y1="0.58" x2="265.69" y2="-1.15"/>
<linearGradient id="k365" href="#sw" x1="277.63" y1="0.36" x2="288.88" y2="-0.17"/>
<linearGradient id="k366" href="#sw" x1="146.82" y1="21.57" x2="155.06" y2="20.91"/>
<linearGradient id="k367" href="#sw" x1="146.90" y1="21.63" x2="155.69" y2="21.33"/>
<linearGradient id="k368" href="#sw" x1="171.01" y1="21.11" x2="178.60" y2="20.55"/>
<linearGradient id="k369" href="#sw" x1="185.94" y1="21.64" x2="193.01" y2="21.60"/>
<linearGradient id="k370" href="#sw" x1="186.43" y1="21.75" x2="194.25" y2="21.87"/>
<linearGradient id="k371" href="#sw" x1="186.31" y1="21.64" x2="193.93" y2="21.59"/>
<linearGradient id="k372" href="#sw" x1="202.32" y1="21.72" x2="210.79" y2="21.86"/>
<linearGradient id="k373" href="#sw" x1="219.40" y1="21.59" x2="228.36" y2="21.29"/>
<linearGradient id="k374" href="#sw" x1="218.95" y1="21.84" x2="226.25" y2="22.44"/>
<linearGradient id="k375" href="#sw" x1="218.73" y1="21.63" x2="225.24" y2="21.47"/>
<linearGradient id="k376" href="#sw" x1="240.70" y1="22.14" x2="247.69" y2="22.69"/>
<linearGradient id="k377" href="#sw" x1="255.01" y1="21.68" x2="262.72" y2="21.71"/>
<linearGradient id="k378" href="#sw" x1="256.02" y1="22.20" x2="267.03" y2="23.90"/>
<linearGradient id="k379" href="#sw" x1="255.58" y1="21.69" x2="265.17" y2="21.73"/>
<linearGradient id="k380" href="#sw" x1="147.61" y1="42.55" x2="156.39" y2="42.15"/>
<linearGradient id="k381" href="#sw" x1="165.15" y1="42.62" x2="173.62" y2="42.52"/>
<linearGradient id="k382" href="#sw" x1="164.86" y1="42.59" x2="171.92" y2="42.34"/>
<linearGradient id="k383" href="#sw" x1="164.91" y1="42.63" x2="172.20" y2="42.55"/>
<linearGradient id="k384" href="#sw" x1="186.44" y1="42.44" x2="194.05" y2="42.14"/>
<linearGradient id="k385" href="#sw" x1="201.61" y1="42.62" x2="208.99" y2="42.54"/>
<linearGradient id="k386" href="#sw" x1="202.13" y1="42.94" x2="211.02" y2="43.80"/>
<linearGradient id="k387" href="#sw" x1="201.80" y1="42.61" x2="209.74" y2="42.52"/>
<linearGradient id="k388" href="#sw" x1="219.23" y1="42.81" x2="225.71" y2="43.26"/>
<linearGradient id="k389" href="#sw" x1="239.29" y1="42.51" x2="246.64" y2="42.29"/>
<linearGradient id="k390" href="#sw" x1="239.51" y1="42.55" x2="247.22" y2="42.40"/>
<linearGradient id="k391" href="#sw" x1="239.44" y1="42.50" x2="247.04" y2="42.27"/>
<linearGradient id="k392" href="#sw" x1="255.49" y1="42.57" x2="265.07" y2="42.34"/>
<linearGradient id="k393" href="#sw" x1="274.46" y1="42.71" x2="283.59" y2="42.86"/>
<linearGradient id="k394" href="#sw" x1="148.46" y1="63.71" x2="156.92" y2="63.97"/>
<linearGradient id="k395" href="#sw" x1="148.35" y1="63.61" x2="156.49" y2="63.58"/>
<linearGradient id="k396" href="#sw" x1="165.13" y1="63.66" x2="172.42" y2="63.86"/>
<linearGradient id="k397" href="#sw" x1="186.93" y1="63.83" x2="194.12" y2="64.10"/>
<linearGradient id="k398" href="#sw" x1="187.08" y1="63.70" x2="194.46" y2="63.80"/>
<linearGradient id="k399" href="#sw" x1="187.25" y1="63.85" x2="194.84" y2="64.16"/>
<linearGradient id="k400" href="#sw" x1="202.05" y1="63.66" x2="209.99" y2="63.78"/>
<linearGradient id="k401" href="#sw" x1="217.97" y1="63.60" x2="226.22" y2="63.44"/>
<linearGradient id="k402" href="#sw" x1="217.86" y1="63.62" x2="225.21" y2="63.66"/>
<linearGradient id="k403" href="#sw" x1="217.84" y1="63.60" x2="225.01" y2="63.49"/>
<linearGradient id="k404" href="#sw" x1="240.10" y1="63.64" x2="247.70" y2="63.68"/>
<linearGradient id="k405" href="#sw" x1="255.24" y1="63.68" x2="262.68" y2="63.85"/>
<linearGradient id="k406" href="#sw" x1="255.84" y1="63.54" x2="264.97" y2="63.34"/>
<linearGradient id="k407" href="#sw" x1="256.05" y1="63.72" x2="265.76" y2="64.02"/>
<linearGradient id="k408" href="#sw" x1="148.43" y1="84.57" x2="156.57" y2="84.51"/>
<linearGradient id="k409" href="#sw" x1="164.76" y1="84.53" x2="173.22" y2="84.17"/>
<linearGradient id="k410" href="#sw" x1="164.56" y1="84.57" x2="171.75" y2="84.42"/>
<linearGradient id="k411" href="#sw" x1="164.54" y1="84.55" x2="171.59" y2="84.30"/>
<linearGradient id="k412" href="#sw" x1="186.42" y1="84.48" x2="194.02" y2="84.31"/>
<linearGradient id="k413" href="#sw" x1="201.64" y1="84.52" x2="209.30" y2="84.30"/>
<linearGradient id="k414" href="#sw" x1="201.83" y1="84.81" x2="210.03" y2="85.48"/>
<linearGradient id="k415" href="#sw" x1="201.52" y1="84.52" x2="208.81" y2="84.33"/>
<linearGradient id="k416" href="#sw" x1="218.17" y1="84.68" x2="225.31" y2="85.18"/>
<linearGradient id="k417" href="#sw" x1="239.93" y1="84.76" x2="247.44" y2="85.01"/>
<linearGradient id="k418" href="#sw" x1="239.84" y1="85.01" x2="247.23" y2="85.62"/>
<linearGradient id="k419" href="#sw" x1="239.59" y1="84.74" x2="246.60" y2="84.95"/>
<linearGradient id="k420" href="#sw" x1="255.37" y1="84.89" x2="264.98" y2="85.93"/>
<linearGradient id="k421" href="#sw" x1="274.74" y1="85.09" x2="284.21" y2="86.20"/>
<linearGradient id="k422" href="#sw" x1="148.70" y1="105.71" x2="157.16" y2="106.11"/>
<linearGradient id="k423" href="#sw" x1="148.65" y1="105.66" x2="156.97" y2="105.92"/>
<linearGradient id="k424" href="#sw" x1="165.29" y1="105.63" x2="172.34" y2="105.91"/>
<linearGradient id="k425" href="#sw" x1="186.87" y1="105.44" x2="194.46" y2="105.29"/>
<linearGradient id="k426" href="#sw" x1="186.90" y1="105.21" x2="194.53" y2="104.74"/>
<linearGradient id="k427" href="#sw" x1="187.20" y1="105.43" x2="195.25" y2="105.25"/>
<linearGradient id="k428" href="#sw" x1="202.09" y1="105.39" x2="209.36" y2="104.96"/>
<linearGradient id="k429" href="#sw" x1="224.36" y1="104.66" x2="232.05" y2="103.72"/>
<linearGradient id="k430" href="#sw" x1="224.19" y1="105.32" x2="231.70" y2="105.06"/>
<linearGradient id="k431" href="#sw" x1="223.48" y1="104.86" x2="230.25" y2="104.14"/>
<linearGradient id="k432" href="#sw" x1="238.94" y1="105.43" x2="245.96" y2="105.21"/>
<linearGradient id="k433" href="#sw" x1="253.01" y1="105.53" x2="260.44" y2="104.86"/>
<linearGradient id="k434" href="#sw" x1="253.12" y1="105.53" x2="262.69" y2="104.95"/>
<linearGradient id="k435" href="#sw" x1="253.09" y1="105.51" x2="262.01" y2="104.55"/>
<linearGradient id="k436" href="#sw" x1="147.99" y1="126.46" x2="156.31" y2="126.20"/>
<linearGradient id="k437" href="#sw" x1="164.59" y1="126.54" x2="172.57" y2="126.60"/>
<linearGradient id="k438" href="#sw" x1="164.53" y1="126.61" x2="172.09" y2="127.11"/>
<linearGradient id="k439" href="#sw" x1="164.47" y1="126.54" x2="171.55" y2="126.58"/>
<linearGradient id="k440" href="#sw" x1="187.64" y1="126.99" x2="195.64" y2="127.55"/>
<linearGradient id="k441" href="#sw" x1="203.52" y1="126.99" x2="211.15" y2="127.78"/>
<linearGradient id="k442" href="#sw" x1="203.62" y1="126.44" x2="211.42" y2="126.28"/>
<linearGradient id="k443" href="#sw" x1="204.32" y1="127.17" x2="213.34" y2="128.28"/>
<linearGradient id="k444" href="#sw" x1="218.95" y1="126.50" x2="225.79" y2="126.37"/>
<linearGradient id="k445" href="#sw" x1="239.48" y1="126.46" x2="246.30" y2="126.35"/>
<linearGradient id="k446" href="#sw" x1="239.92" y1="126.29" x2="247.38" y2="125.93"/>
<linearGradient id="k447" href="#sw" x1="240.12" y1="126.44" x2="247.88" y2="126.30"/>
<linearGradient id="k448" href="#sw" x1="255.35" y1="126.37" x2="264.35" y2="125.85"/>
<linearGradient id="k449" href="#sw" x1="273.05" y1="126.67" x2="280.96" y2="127.08"/>
<linearGradient id="k450" href="#sw" x1="148.51" y1="147.45" x2="156.48" y2="147.31"/>
<linearGradient id="k451" href="#sw" x1="148.50" y1="147.45" x2="156.47" y2="147.30"/>
<linearGradient id="k452" href="#sw" x1="164.34" y1="147.49" x2="171.42" y2="147.38"/>
<linearGradient id="k453" href="#sw" x1="185.64" y1="147.39" x2="192.80" y2="147.21"/>
<linearGradient id="k454" href="#sw" x1="185.97" y1="147.60" x2="193.68" y2="147.75"/>
<linearGradient id="k455" href="#sw" x1="185.72" y1="147.39" x2="193.02" y2="147.20"/>
<linearGradient id="k456" href="#sw" x1="201.82" y1="147.57" x2="210.97" y2="147.78"/>
<linearGradient id="k457" href="#sw" x1="219.76" y1="147.82" x2="227.83" y2="148.72"/>
<linearGradient id="k458" href="#sw" x1="219.31" y1="147.65" x2="226.12" y2="148.06"/>
<linearGradient id="k459" href="#sw" x1="219.40" y1="147.74" x2="226.43" y2="148.42"/>
<linearGradient id="k460" href="#sw" x1="240.47" y1="147.89" x2="248.20" y2="148.42"/>
<linearGradient id="k461" href="#sw" x1="255.97" y1="147.77" x2="263.59" y2="148.37"/>
<linearGradient id="k462" href="#sw" x1="256.10" y1="147.57" x2="264.03" y2="147.73"/>
<linearGradient id="k463" href="#sw" x1="256.35" y1="147.83" x2="264.83" y2="148.57"/>
<linearGradient id="k464" href="#sw" x1="148.89" y1="168.66" x2="156.83" y2="169.11"/>
<linearGradient id="k465" href="#sw" x1="165.06" y1="168.35" x2="174.33" y2="167.62"/>
<linearGradient id="k466" href="#sw" x1="164.69" y1="168.44" x2="171.85" y2="168.26"/>
<linearGradient id="k467" href="#sw" x1="164.64" y1="168.41" x2="171.50" y2="168.01"/>
<linearGradient id="k468" href="#sw" x1="186.28" y1="168.34" x2="193.57" y2="168.15"/>
<linearGradient id="k469" href="#sw" x1="200.99" y1="168.31" x2="208.74" y2="167.63"/>
<linearGradient id="k470" href="#sw" x1="201.09" y1="168.39" x2="209.26" y2="168.04"/>
<linearGradient id="k471" href="#sw" x1="200.98" y1="168.32" x2="208.65" y2="167.65"/>
<linearGradient id="k472" href="#sw" x1="217.39" y1="168.46" x2="224.48" y2="168.20"/>
<linearGradient id="k473" href="#sw" x1="238.63" y1="168.39" x2="245.62" y2="168.23"/>
<linearGradient id="k474" href="#sw" x1="238.99" y1="168.18" x2="246.62" y2="167.65"/>
<linearGradient id="k475" href="#sw" x1="239.24" y1="168.36" x2="247.33" y2="168.14"/>
<linearGradient id="k476" href="#sw" x1="254.53" y1="168.33" x2="263.03" y2="167.66"/>
<linearGradient id="k477" href="#sw" x1="271.57" y1="168.45" x2="279.59" y2="168.28"/>
<linearGradient id="k478" href="#sw" x1="148.07" y1="189.62" x2="157.34" y2="190.28"/>
<linearGradient id="k479" href="#sw" x1="147.75" y1="189.34" x2="155.84" y2="188.95"/>
<linearGradient id="k480" href="#sw" x1="165.86" y1="189.58" x2="172.73" y2="189.94"/>
<linearGradient id="k481" href="#sw" x1="186.66" y1="189.62" x2="193.72" y2="189.85"/>
<linearGradient id="k482" href="#sw" x1="187.23" y1="189.35" x2="195.04" y2="189.22"/>
<linearGradient id="k483" href="#sw" x1="187.61" y1="189.69" x2="195.92" y2="190.00"/>
<linearGradient id="k484" href="#sw" x1="202.81" y1="189.39" x2="210.54" y2="189.26"/>
<linearGradient id="k485" href="#sw" x1="218.25" y1="189.46" x2="225.77" y2="189.50"/>
<linearGradient id="k486" href="#sw" x1="218.15" y1="189.37" x2="225.11" y2="188.93"/>
<linearGradient id="k487" href="#sw" x1="218.26" y1="189.46" x2="225.87" y2="189.50"/>
<linearGradient id="k488" href="#sw" x1="239.78" y1="189.08" x2="247.83" y2="188.48"/>
<linearGradient id="k489" href="#sw" x1="255.85" y1="189.34" x2="263.59" y2="189.07"/>
<linearGradient id="k490" href="#sw" x1="255.94" y1="189.17" x2="263.91" y2="188.48"/>
<linearGradient id="k491" href="#sw" x1="256.17" y1="189.31" x2="264.68" y2="188.99"/>
<linearGradient id="k492" href="#sw" x1="148.77" y1="210.18" x2="156.83" y2="209.56"/>
<linearGradient id="k493" href="#sw" x1="165.02" y1="210.28" x2="173.16" y2="209.56"/>
<linearGradient id="k494" href="#sw" x1="164.79" y1="210.30" x2="171.80" y2="209.66"/>
<linearGradient id="k495" href="#sw" x1="164.82" y1="210.32" x2="171.97" y2="209.76"/>
<linearGradient id="k496" href="#sw" x1="186.77" y1="209.83" x2="195.00" y2="208.95"/>
<linearGradient id="k497" href="#sw" x1="203.20" y1="210.22" x2="210.99" y2="209.84"/>
<linearGradient id="k498" href="#sw" x1="203.05" y1="210.16" x2="210.54" y2="209.67"/>
<linearGradient id="k499" href="#sw" x1="203.14" y1="210.23" x2="210.83" y2="209.86"/>
<linearGradient id="k500" href="#sw" x1="218.13" y1="210.34" x2="225.71" y2="209.84"/>
<linearGradient id="k501" href="#sw" x1="240.50" y1="210.44" x2="247.52" y2="210.47"/>
<linearGradient id="k502" href="#sw" x1="241.08" y1="210.24" x2="248.82" y2="210.01"/>
<linearGradient id="k503" href="#sw" x1="241.35" y1="210.45" x2="249.42" y2="210.49"/>
<linearGradient id="k504" href="#sw" x1="256.97" y1="210.28" x2="265.49" y2="210.01"/>
<linearGradient id="k505" href="#sw" x1="273.89" y1="210.42" x2="282.10" y2="210.43"/>
<linearGradient id="k506" href="#sw" x1="150.44" y1="231.09" x2="158.62" y2="230.56"/>
<linearGradient id="k507" href="#sw" x1="150.42" y1="231.07" x2="158.57" y2="230.53"/>
<linearGradient id="k508" href="#sw" x1="166.45" y1="231.23" x2="173.62" y2="230.83"/>
<linearGradient id="k509" href="#sw" x1="187.75" y1="231.28" x2="194.63" y2="231.16"/>
<linearGradient id="k510" href="#sw" x1="188.59" y1="230.94" x2="196.37" y2="230.46"/>
<linearGradient id="k511" href="#sw" x1="188.99" y1="231.23" x2="197.21" y2="231.06"/>
<linearGradient id="k512" href="#sw" x1="204.15" y1="231.09" x2="211.82" y2="230.62"/>
<linearGradient id="k513" href="#sw" x1="219.52" y1="231.27" x2="227.08" y2="230.92"/>
<linearGradient id="k514" href="#sw" x1="219.34" y1="231.36" x2="226.36" y2="231.25"/>
<linearGradient id="k515" href="#sw" x1="219.26" y1="231.30" x2="226.04" y2="231.01"/>
<linearGradient id="k516" href="#sw" x1="241.25" y1="231.28" x2="249.32" y2="231.14"/>
<linearGradient id="k517" href="#sw" x1="257.42" y1="231.28" x2="265.54" y2="231.09"/>
<linearGradient id="k518" href="#sw" x1="257.47" y1="231.55" x2="265.66" y2="231.82"/>
<linearGradient id="k519" href="#sw" x1="257.17" y1="231.29" x2="264.86" y2="231.12"/>
<linearGradient id="k520" href="#sw" x1="151.84" y1="252.42" x2="160.02" y2="252.48"/>
<linearGradient id="k521" href="#sw" x1="168.30" y1="252.32" x2="176.64" y2="252.25"/>
<linearGradient id="k522" href="#sw" x1="167.45" y1="252.35" x2="174.34" y2="252.31"/>
<linearGradient id="k523" href="#sw" x1="167.44" y1="252.34" x2="174.32" y2="252.29"/>
<linearGradient id="k524" href="#sw" x1="189.44" y1="252.31" x2="197.66" y2="252.26"/>
<linearGradient id="k525" href="#sw" x1="205.59" y1="252.55" x2="213.47" y2="252.78"/>
<linearGradient id="k526" href="#sw" x1="205.34" y1="252.21" x2="212.92" y2="252.01"/>
<linearGradient id="k527" href="#sw" x1="205.76" y1="252.56" x2="213.84" y2="252.80"/>
<linearGradient id="k528" href="#sw" x1="220.14" y1="252.29" x2="226.94" y2="252.14"/>
<linearGradient id="k529" href="#sw" x1="241.43" y1="251.06" x2="249.27" y2="249.53"/>
<linearGradient id="k530" href="#sw" x1="241.65" y1="252.04" x2="249.76" y2="251.65"/>
<linearGradient id="k531" href="#sw" x1="240.49" y1="251.42" x2="247.22" y2="250.29"/>
<linearGradient id="k532" href="#sw" x1="257.63" y1="252.14" x2="265.30" y2="251.79"/>
<linearGradient id="k533" href="#sw" x1="273.23" y1="252.00" x2="281.52" y2="250.90"/>
<linearGradient id="k534" href="#sw" x1="151.63" y1="272.36" x2="159.77" y2="271.04"/>
<linearGradient id="k535" href="#sw" x1="151.92" y1="272.49" x2="160.45" y2="271.34"/>
<linearGradient id="k536" href="#sw" x1="167.52" y1="272.79" x2="174.28" y2="271.89"/>
<linearGradient id="k537" href="#sw" x1="181.34" y1="273.33" x2="188.17" y2="272.32"/>
<linearGradient id="k538" href="#sw" x1="181.35" y1="273.32" x2="188.92" y2="271.79"/>
<linearGradient id="k539" href="#sw" x1="181.35" y1="273.33" x2="189.33" y2="271.93"/>
<linearGradient id="k540" href="#sw" x1="204.90" y1="272.14" x2="212.66" y2="270.53"/>
<linearGradient id="k541" href="#sw" x1="220.97" y1="272.77" x2="228.41" y2="271.71"/>
<linearGradient id="k542" href="#sw" x1="221.34" y1="273.10" x2="229.46" y2="272.65"/>
<linearGradient id="k543" href="#sw" x1="220.83" y1="272.81" x2="228.00" y2="271.82"/>
<linearGradient id="k544" href="#sw" x1="237.21" y1="273.22" x2="244.12" y2="272.90"/>
<linearGradient id="k545" href="#sw" x1="258.50" y1="272.41" x2="266.08" y2="271.22"/>
<linearGradient id="k546" href="#sw" x1="259.12" y1="272.81" x2="267.51" y2="272.13"/>
<linearGradient id="k547" href="#sw" x1="258.40" y1="272.45" x2="265.86" y2="271.29"/>
<linearGradient id="k548" href="#sw" x1="146.15" y1="294.19" x2="154.42" y2="292.34"/>
<linearGradient id="k549" href="#sw" x1="163.52" y1="294.31" x2="170.62" y2="294.11"/>
<linearGradient id="k550" href="#sw" x1="163.52" y1="294.31" x2="170.46" y2="293.80"/>
<linearGradient id="k551" href="#sw" x1="163.52" y1="294.31" x2="170.89" y2="294.09"/>
<linearGradient id="k552" href="#sw" x1="184.99" y1="293.99" x2="193.15" y2="293.29"/>
<linearGradient id="k553" href="#sw" x1="201.27" y1="294.29" x2="208.83" y2="294.20"/>
<linearGradient id="k554" href="#sw" x1="201.27" y1="294.22" x2="208.85" y2="293.88"/>
<linearGradient id="k555" href="#sw" x1="201.36" y1="294.28" x2="209.25" y2="294.19"/>
<linearGradient id="k556" href="#sw" x1="223.77" y1="294.02" x2="231.06" y2="293.71"/>
<linearGradient id="k557" href="#sw" x1="238.44" y1="294.11" x2="245.83" y2="293.69"/>
<linearGradient id="k558" href="#sw" x1="238.62" y1="294.12" x2="246.37" y2="293.73"/>
<linearGradient id="k559" href="#sw" x1="238.57" y1="294.09" x2="246.24" y2="293.64"/>
<linearGradient id="k560" href="#sw" x1="254.14" y1="294.24" x2="261.76" y2="293.86"/>
<linearGradient id="k561" href="#sw" x1="276.72" y1="294.28" x2="283.98" y2="294.25"/>
<linearGradient id="k562" href="#sw" x1="149.89" y1="315.05" x2="156.97" y2="314.65"/>
<linearGradient id="k563" href="#sw" x1="150.14" y1="315.23" x2="157.63" y2="315.14"/>
<linearGradient id="k564" href="#sw" x1="164.13" y1="315.24" x2="171.48" y2="314.82"/>
<linearGradient id="k565" href="#sw" x1="186.04" y1="315.19" x2="193.10" y2="315.05"/>
<linearGradient id="k566" href="#sw" x1="186.36" y1="314.97" x2="193.90" y2="314.49"/>
<linearGradient id="k567" href="#sw" x1="186.64" y1="315.16" x2="194.59" y2="314.99"/>
<linearGradient id="k568" href="#sw" x1="201.61" y1="315.12" x2="209.47" y2="314.61"/>
<linearGradient id="k569" href="#sw" x1="217.40" y1="315.26" x2="225.16" y2="314.85"/>
<linearGradient id="k570" href="#sw" x1="217.37" y1="315.26" x2="224.77" y2="314.82"/>
<linearGradient id="k571" href="#sw" x1="217.38" y1="315.26" x2="224.86" y2="314.88"/>
<linearGradient id="k572" href="#sw" x1="239.79" y1="314.97" x2="247.45" y2="314.50"/>
<linearGradient id="k573" href="#sw" x1="255.23" y1="315.07" x2="263.03" y2="314.45"/>
<linearGradient id="k574" href="#sw" x1="255.01" y1="314.98" x2="262.15" y2="314.08"/>
<linearGradient id="k575" href="#sw" x1="255.19" y1="315.08" x2="262.87" y2="314.47"/>
<linearGradient id="k576" href="#sw" x1="150.35" y1="335.83" x2="157.78" y2="335.17"/>
<linearGradient id="k577" href="#sw" x1="165.55" y1="335.78" x2="173.71" y2="333.95"/>
<linearGradient id="k578" href="#sw" x1="165.24" y1="336.07" x2="172.24" y2="335.35"/>
<linearGradient id="k579" href="#sw" x1="165.06" y1="335.98" x2="171.32" y2="334.92"/>
<linearGradient id="k580" href="#sw" x1="187.03" y1="335.59" x2="194.88" y2="334.68"/>
<linearGradient id="k581" href="#sw" x1="203.36" y1="335.02" x2="212.01" y2="332.52"/>
<linearGradient id="k582" href="#sw" x1="202.86" y1="335.74" x2="210.51" y2="334.70"/>
<linearGradient id="k583" href="#sw" x1="202.37" y1="335.56" x2="209.00" y2="334.14"/>
<linearGradient id="k584" href="#sw" x1="218.43" y1="336.06" x2="225.80" y2="335.10"/>
<linearGradient id="k585" href="#sw" x1="240.68" y1="335.68" x2="247.85" y2="334.97"/>
<linearGradient id="k586" href="#sw" x1="241.22" y1="335.94" x2="249.05" y2="335.56"/>
<linearGradient id="k587" href="#sw" x1="240.77" y1="335.66" x2="248.05" y2="334.93"/>
<linearGradient id="k588" href="#sw" x1="256.85" y1="336.05" x2="264.56" y2="335.68"/>
<linearGradient id="k589" href="#sw" x1="272.34" y1="336.14" x2="280.15" y2="335.65"/>
<linearGradient id="k590" href="#sw" x1="153.15" y1="357.93" x2="161.65" y2="358.73"/>
<linearGradient id="k591" href="#sw" x1="152.28" y1="357.07" x2="159.78" y2="356.90"/>
<linearGradient id="k592" href="#sw" x1="168.62" y1="357.59" x2="175.03" y2="358.04"/>
<linearGradient id="k593" href="#sw" x1="181.59" y1="357.19" x2="189.43" y2="356.33"/>
<linearGradient id="k594" href="#sw" x1="181.65" y1="357.24" x2="191.02" y2="357.53"/>
<linearGradient id="k595" href="#sw" x1="181.59" y1="357.19" x2="189.38" y2="356.34"/>
<linearGradient id="k596" href="#sw" x1="200.08" y1="357.25" x2="207.01" y2="357.41"/>
<linearGradient id="k597" href="#sw" x1="221.42" y1="356.79" x2="229.30" y2="356.01"/>
<linearGradient id="k598" href="#sw" x1="221.00" y1="356.75" x2="228.15" y2="355.91"/>
<linearGradient id="k599" href="#sw" x1="221.17" y1="356.84" x2="228.60" y2="356.15"/>
<linearGradient id="k600" href="#sw" x1="235.55" y1="357.14" x2="242.80" y2="356.27"/>
<linearGradient id="k601" href="#sw" x1="257.39" y1="356.84" x2="264.40" y2="356.27"/>
<linearGradient id="k602" href="#sw" x1="257.85" y1="356.47" x2="265.53" y2="355.35"/>
<linearGradient id="k603" href="#sw" x1="258.28" y1="356.68" x2="266.59" y2="355.88"/>
<clipPath id="kcl"><path d="M0.2,0.7L148.0,0.7L150.3,44.9L158.2,103.9L154.3,185.0L158.2,221.9L162.2,295.6L177.2,332.5L183.5,378.2L0.2,378.2Z"/></clipPath>
<linearGradient id="k604" href="#sw" x1="-3.83" y1="-0.13" x2="-11.64" y2="-1.72"/>
<linearGradient id="k605" href="#sw" x1="12.15" y1="-0.39" x2="3.87" y2="-1.77"/>
<linearGradient id="k606" href="#sw" x1="11.43" y1="-5.01" x2="2.25" y2="-12.24"/>
<linearGradient id="k607" href="#sw" x1="11.05" y1="-0.80" x2="1.39" y2="-2.70"/>
<linearGradient id="k608" href="#sw" x1="37.41" y1="0.15" x2="44.05" y2="-16.02"/>
<linearGradient id="k609" href="#sw" x1="58.93" y1="-9.43" x2="64.09" y2="-25.45"/>
<linearGradient id="k610" href="#sw" x1="61.08" y1="-1.75" x2="69.63" y2="-5.63"/>
<linearGradient id="k611" href="#sw" x1="60.24" y1="-1.66" x2="67.45" y2="-5.40"/>
<linearGradient id="k612" href="#sw" x1="79.78" y1="-1.13" x2="86.49" y2="-3.32"/>
<linearGradient id="k613" href="#sw" x1="94.98" y1="-0.22" x2="101.72" y2="-2.88"/>
<linearGradient id="k614" href="#sw" x1="95.53" y1="-0.90" x2="103.87" y2="-5.54"/>
<linearGradient id="k615" href="#sw" x1="95.54" y1="-0.90" x2="103.91" y2="-5.55"/>
<linearGradient id="k616" href="#sw" x1="117.04" y1="-3.21" x2="126.08" y2="-9.21"/>
<linearGradient id="k617" href="#sw" x1="131.70" y1="0.39" x2="140.58" y2="-0.97"/>
<linearGradient id="k618" href="#sw" x1="131.56" y1="0.18" x2="139.84" y2="-2.04"/>
<linearGradient id="k619" href="#sw" x1="131.90" y1="0.32" x2="141.67" y2="-1.33"/>
<linearGradient id="k620" href="#sw" x1="149.86" y1="-0.01" x2="161.49" y2="-4.81"/>
<linearGradient id="k621" href="#sw" x1="175.78" y1="-2.57" x2="187.39" y2="-6.71"/>
<linearGradient id="k622" href="#sw" x1="174.63" y1="-1.05" x2="184.76" y2="-3.26"/>
<linearGradient id="k623" href="#sw" x1="173.93" y1="-1.28" x2="183.18" y2="-3.79"/>
<linearGradient id="k624" href="#sw" x1="-7.44" y1="20.82" x2="-15.33" y2="23.03"/>
<linearGradient id="k625" href="#sw" x1="-8.33" y1="20.54" x2="-17.13" y2="22.46"/>
<linearGradient id="k626" href="#sw" x1="17.40" y1="19.10" x2="8.36" y2="22.10"/>
<linearGradient id="k627" href="#sw" x1="29.62" y1="18.77" x2="21.94" y2="18.86"/>
<linearGradient id="k628" href="#sw" x1="90.71" y1="24.45" x2="145.04" y2="30.31"/>
<linearGradient id="k629" href="#sw" x1="89.80" y1="23.05" x2="143.20" y2="27.50"/>
<linearGradient id="k630" href="#sw" x1="61.61" y1="18.78" x2="70.76" y2="18.95"/>
<linearGradient id="k631" href="#sw" x1="80.40" y1="18.22" x2="90.33" y2="17.49"/>
<linearGradient id="k632" href="#sw" x1="78.97" y1="18.01" x2="86.62" y2="16.94"/>
<linearGradient id="k633" href="#sw" x1="79.47" y1="18.35" x2="87.91" y2="17.82"/>
<linearGradient id="k634" href="#sw" x1="95.36" y1="18.15" x2="105.91" y2="16.08"/>
<linearGradient id="k635" href="#sw" x1="115.90" y1="19.09" x2="124.26" y2="19.81"/>
<linearGradient id="k636" href="#sw" x1="116.19" y1="19.47" x2="125.06" y2="20.86"/>
<linearGradient id="k637" href="#sw" x1="115.97" y1="19.10" x2="124.47" y2="19.84"/>
<linearGradient id="k638" href="#sw" x1="134.85" y1="19.58" x2="144.60" y2="21.27"/>
<linearGradient id="k639" href="#sw" x1="156.75" y1="18.42" x2="169.18" y2="18.04"/>
<linearGradient id="k640" href="#sw" x1="156.74" y1="20.67" x2="169.16" y2="23.54"/>
<linearGradient id="k641" href="#sw" x1="155.35" y1="18.49" x2="165.77" y2="18.23"/>
<linearGradient id="k642" href="#sw" x1="169.32" y1="19.15" x2="178.96" y2="20.84"/>
<linearGradient id="k643" href="#sw" x1="188.35" y1="19.66" x2="196.07" y2="22.01"/>
<linearGradient id="k644" href="#sw" x1="-4.53" y1="37.82" x2="-13.21" y2="39.97"/>
<linearGradient id="k645" href="#sw" x1="13.98" y1="37.65" x2="5.40" y2="39.47"/>
<linearGradient id="k646" href="#sw" x1="15.06" y1="38.11" x2="8.45" y2="40.77"/>
<linearGradient id="k647" href="#sw" x1="13.59" y1="37.83" x2="4.31" y2="39.98"/>
<linearGradient id="k648" href="#sw" x1="42.95" y1="52.88" x2="48.97" y2="69.84"/>
<linearGradient id="k649" href="#sw" x1="58.93" y1="42.32" x2="64.25" y2="51.57"/>
<linearGradient id="k650" href="#sw" x1="60.06" y1="39.41" x2="67.21" y2="43.91"/>
<linearGradient id="k651" href="#sw" x1="59.45" y1="40.37" x2="65.59" y2="46.44"/>
<linearGradient id="k652" href="#sw" x1="79.18" y1="39.33" x2="85.77" y2="42.85"/>
<linearGradient id="k653" href="#sw" x1="97.86" y1="38.81" x2="106.86" y2="42.53"/>
<linearGradient id="k654" href="#sw" x1="97.21" y1="37.87" x2="105.07" y2="39.97"/>
<linearGradient id="k655" href="#sw" x1="97.28" y1="38.28" x2="105.27" y2="41.10"/>
<linearGradient id="k656" href="#sw" x1="114.21" y1="37.48" x2="122.18" y2="39.64"/>
<linearGradient id="k657" href="#sw" x1="131.73" y1="37.02" x2="141.09" y2="38.66"/>
<linearGradient id="k658" href="#sw" x1="132.08" y1="37.56" x2="143.02" y2="41.61"/>
<linearGradient id="k659" href="#sw" x1="131.98" y1="37.12" x2="142.48" y2="39.19"/>
<linearGradient id="k660" href="#sw" x1="155.14" y1="38.82" x2="164.64" y2="41.77"/>
<linearGradient id="k661" href="#sw" x1="174.36" y1="39.67" x2="182.40" y2="42.81"/>
<linearGradient id="k662" href="#sw" x1="173.84" y1="39.20" x2="181.35" y2="41.85"/>
<linearGradient id="k663" href="#sw" x1="173.85" y1="39.22" x2="181.35" y2="41.90"/>
<linearGradient id="k664" href="#sw" x1="-0.22" y1="54.86" x2="-7.08" y2="58.66"/>
<linearGradient id="k665" href="#sw" x1="-0.23" y1="54.86" x2="-7.25" y2="58.69"/>
<linearGradient id="k666" href="#sw" x1="17.80" y1="55.17" x2="10.64" y2="59.49"/>
<linearGradient id="k667" href="#sw" x1="37.09" y1="54.73" x2="31.17" y2="60.94"/>
<linearGradient id="k668" href="#sw" x1="37.27" y1="54.77" x2="42.49" y2="63.97"/>
<linearGradient id="k669" href="#sw" x1="37.26" y1="54.78" x2="42.17" y2="64.03"/>
<linearGradient id="k670" href="#sw" x1="56.60" y1="55.55" x2="62.68" y2="61.61"/>
<linearGradient id="k671" href="#sw" x1="79.17" y1="59.57" x2="87.16" y2="67.46"/>
<linearGradient id="k672" href="#sw" x1="79.82" y1="56.95" x2="88.84" y2="60.66"/>
<linearGradient id="k673" href="#sw" x1="79.12" y1="58.95" x2="87.03" y2="65.83"/>
<linearGradient id="k674" href="#sw" x1="99.64" y1="57.08" x2="107.64" y2="59.88"/>
<linearGradient id="k675" href="#sw" x1="118.43" y1="56.78" x2="127.36" y2="59.41"/>
<linearGradient id="k676" href="#sw" x1="118.68" y1="56.19" x2="127.93" y2="58.10"/>
<linearGradient id="k677" href="#sw" x1="118.93" y1="57.12" x2="128.48" y2="60.17"/>
<linearGradient id="k678" href="#sw" x1="138.92" y1="56.80" x2="149.26" y2="59.22"/>
<linearGradient id="k679" href="#sw" x1="150.25" y1="55.11" x2="160.72" y2="57.48"/>
<linearGradient id="k680" href="#sw" x1="149.89" y1="55.07" x2="158.62" y2="57.23"/>
<linearGradient id="k681" href="#sw" x1="149.85" y1="54.94" x2="158.34" y2="56.47"/>
<linearGradient id="k682" href="#sw" x1="168.28" y1="55.00" x2="176.32" y2="56.82"/>
<linearGradient id="k683" href="#sw" x1="185.27" y1="54.66" x2="193.68" y2="56.34"/>
<linearGradient id="k684" href="#sw" x1="-5.50" y1="76.92" x2="-11.30" y2="81.30"/>
<linearGradient id="k685" href="#sw" x1="18.61" y1="72.66" x2="12.59" y2="76.58"/>
<linearGradient id="k686" href="#sw" x1="18.61" y1="72.69" x2="12.55" y2="78.91"/>
<linearGradient id="k687" href="#sw" x1="18.60" y1="72.70" x2="12.02" y2="79.46"/>
<linearGradient id="k688" href="#sw" x1="39.72" y1="77.29" x2="44.79" y2="86.65"/>
<linearGradient id="k689" href="#sw" x1="59.31" y1="80.19" x2="64.70" y2="91.44"/>
<linearGradient id="k690" href="#sw" x1="62.53" y1="77.69" x2="72.71" y2="85.24"/>
<linearGradient id="k691" href="#sw" x1="59.56" y1="79.84" x2="65.34" y2="90.57"/>
<linearGradient id="k692" href="#sw" x1="79.05" y1="75.80" x2="88.79" y2="82.17"/>
<linearGradient id="k693" href="#sw" x1="94.23" y1="73.66" x2="103.41" y2="79.81"/>
<linearGradient id="k694" href="#sw" x1="93.83" y1="73.37" x2="100.66" y2="77.80"/>
<linearGradient id="k695" href="#sw" x1="93.88" y1="73.12" x2="101.01" y2="76.14"/>
<linearGradient id="k696" href="#sw" x1="113.04" y1="73.93" x2="120.08" y2="78.89"/>
<linearGradient id="k697" href="#sw" x1="133.58" y1="75.29" x2="141.27" y2="80.53"/>
<linearGradient id="k698" href="#sw" x1="133.76" y1="75.10" x2="141.80" y2="79.98"/>
<linearGradient id="k699" href="#sw" x1="133.63" y1="75.42" x2="141.42" y2="80.92"/>
<linearGradient id="k700" href="#sw" x1="154.05" y1="75.46" x2="161.16" y2="78.90"/>
<linearGradient id="k701" href="#sw" x1="172.56" y1="75.14" x2="180.77" y2="78.63"/>
<linearGradient id="k702" href="#sw" x1="172.83" y1="73.49" x2="181.39" y2="74.71"/>
<linearGradient id="k703" href="#sw" x1="173.23" y1="75.92" x2="182.35" y2="80.50"/>
<linearGradient id="k704" href="#sw" x1="-3.05" y1="92.36" x2="-9.65" y2="95.96"/>
<linearGradient id="k705" href="#sw" x1="-3.58" y1="92.44" x2="-11.25" y2="96.22"/>
<linearGradient id="k706" href="#sw" x1="13.65" y1="94.92" x2="5.89" y2="101.62"/>
<linearGradient id="k707" href="#sw" x1="37.07" y1="90.69" x2="29.76" y2="97.90"/>
<linearGradient id="k708" href="#sw" x1="37.34" y1="90.79" x2="47.37" y2="104.54"/>
<linearGradient id="k709" href="#sw" x1="37.23" y1="90.80" x2="40.16" y2="104.80"/>
<linearGradient id="k710" href="#sw" x1="59.54" y1="95.31" x2="69.87" y2="107.92"/>
<linearGradient id="k711" href="#sw" x1="81.54" y1="99.74" x2="92.77" y2="113.70"/>
<linearGradient id="k712" href="#sw" x1="78.30" y1="94.94" x2="84.59" y2="101.58"/>
<linearGradient id="k713" href="#sw" x1="79.32" y1="92.62" x2="87.18" y2="95.73"/>
<linearGradient id="k714" href="#sw" x1="94.20" y1="91.61" x2="100.02" y2="95.49"/>
<linearGradient id="k715" href="#sw" x1="111.54" y1="90.84" x2="117.37" y2="94.73"/>
<linearGradient id="k716" href="#sw" x1="111.56" y1="90.95" x2="117.72" y2="96.56"/>
<linearGradient id="k717" href="#sw" x1="111.57" y1="90.95" x2="117.83" y2="96.42"/>
<linearGradient id="k718" href="#sw" x1="132.26" y1="93.06" x2="138.44" y2="98.88"/>
<linearGradient id="k719" href="#sw" x1="153.19" y1="95.37" x2="159.21" y2="101.06"/>
<linearGradient id="k720" href="#sw" x1="154.62" y1="93.87" x2="162.34" y2="97.78"/>
<linearGradient id="k721" href="#sw" x1="153.16" y1="96.28" x2="159.14" y2="103.05"/>
<linearGradient id="k722" href="#sw" x1="174.49" y1="95.28" x2="182.91" y2="100.30"/>
<linearGradient id="k723" href="#sw" x1="188.90" y1="92.37" x2="200.91" y2="98.05"/>
<linearGradient id="k724" href="#sw" x1="-5.17" y1="108.46" x2="-14.71" y2="108.29"/>
<linearGradient id="k725" href="#sw" x1="13.16" y1="109.49" x2="2.17" y2="111.35"/>
<linearGradient id="k726" href="#sw" x1="14.67" y1="112.16" x2="6.68" y2="119.33"/>
<linearGradient id="k727" href="#sw" x1="3.44" y1="118.30" x2="-26.85" y2="137.65"/>
<linearGradient id="k728" href="#sw" x1="39.94" y1="120.56" x2="43.45" y2="135.82"/>
<linearGradient id="k729" href="#sw" x1="57.90" y1="113.99" x2="62.18" y2="124.40"/>
<linearGradient id="k730" href="#sw" x1="57.34" y1="113.25" x2="60.53" y2="122.25"/>
<linearGradient id="k731" href="#sw" x1="58.52" y1="113.14" x2="63.97" y2="121.92"/>
<linearGradient id="k732" href="#sw" x1="78.57" y1="112.51" x2="83.61" y2="117.02"/>
<linearGradient id="k733" href="#sw" x1="97.10" y1="112.52" x2="102.40" y2="117.24"/>
<linearGradient id="k734" href="#sw" x1="98.28" y1="111.42" x2="104.97" y2="114.83"/>
<linearGradient id="k735" href="#sw" x1="97.12" y1="113.41" x2="102.43" y2="119.19"/>
<linearGradient id="k736" href="#sw" x1="116.08" y1="111.85" x2="123.72" y2="116.95"/>
<linearGradient id="k737" href="#sw" x1="138.03" y1="113.87" x2="146.67" y2="119.34"/>
<linearGradient id="k738" href="#sw" x1="138.46" y1="113.02" x2="147.53" y2="117.61"/>
<linearGradient id="k739" href="#sw" x1="138.14" y1="114.12" x2="146.90" y2="119.85"/>
<linearGradient id="k740" href="#sw" x1="151.62" y1="110.67" x2="161.60" y2="116.72"/>
<linearGradient id="k741" href="#sw" x1="177.76" y1="114.90" x2="188.96" y2="121.27"/>
<linearGradient id="k742" href="#sw" x1="175.63" y1="115.67" x2="184.69" y2="122.81"/>
<linearGradient id="k743" href="#sw" x1="176.50" y1="113.13" x2="186.43" y2="117.73"/>
<linearGradient id="k744" href="#sw" x1="-5.91" y1="128.53" x2="-16.12" y2="131.87"/>
<linearGradient id="k745" href="#sw" x1="-10.13" y1="117.37" x2="-27.41" y2="102.05"/>
<linearGradient id="k746" href="#sw" x1="14.74" y1="131.42" x2="-2.15" y2="152.28"/>
<linearGradient id="k747" href="#sw" x1="39.73" y1="132.49" x2="43.55" y2="141.42"/>
<linearGradient id="k748" href="#sw" x1="38.85" y1="132.04" x2="41.36" y2="140.28"/>
<linearGradient id="k749" href="#sw" x1="40.08" y1="132.07" x2="44.41" y2="140.35"/>
<linearGradient id="k750" href="#sw" x1="55.83" y1="126.86" x2="59.24" y2="134.30"/>
<linearGradient id="k751" href="#sw" x1="74.49" y1="127.13" x2="77.67" y2="133.05"/>
<linearGradient id="k752" href="#sw" x1="74.63" y1="127.01" x2="79.27" y2="131.76"/>
<linearGradient id="k753" href="#sw" x1="74.51" y1="127.08" x2="77.96" y2="132.54"/>
<linearGradient id="k754" href="#sw" x1="93.35" y1="127.40" x2="97.88" y2="133.06"/>
<linearGradient id="k755" href="#sw" x1="115.11" y1="132.26" x2="122.21" y2="142.52"/>
<linearGradient id="k756" href="#sw" x1="115.88" y1="129.63" x2="124.36" y2="135.17"/>
<linearGradient id="k757" href="#sw" x1="115.37" y1="130.45" x2="122.94" y2="137.47"/>
<linearGradient id="k758" href="#sw" x1="129.90" y1="126.71" x2="138.49" y2="132.51"/>
<linearGradient id="k759" href="#sw" x1="151.65" y1="129.16" x2="158.02" y2="133.93"/>
<linearGradient id="k760" href="#sw" x1="151.47" y1="130.55" x2="157.51" y2="137.84"/>
<linearGradient id="k761" href="#sw" x1="151.79" y1="130.29" x2="158.44" y2="137.12"/>
<linearGradient id="k762" href="#sw" x1="168.50" y1="128.37" x2="174.65" y2="134.40"/>
<linearGradient id="k763" href="#sw" x1="189.48" y1="130.83" x2="195.15" y2="136.40"/>
<linearGradient id="k764" href="#sw" x1="-1.56" y1="146.28" x2="-16.91" y2="161.71"/>
<linearGradient id="k765" href="#sw" x1="20.74" y1="151.44" x2="23.61" y2="161.15"/>
<linearGradient id="k766" href="#sw" x1="20.01" y1="149.15" x2="21.87" y2="155.66"/>
<linearGradient id="k767" href="#sw" x1="22.44" y1="148.61" x2="27.70" y2="154.36"/>
<linearGradient id="k768" href="#sw" x1="39.29" y1="150.56" x2="41.48" y2="156.83"/>
<linearGradient id="k769" href="#sw" x1="55.77" y1="144.85" x2="57.85" y2="151.84"/>
<linearGradient id="k770" href="#sw" x1="55.82" y1="144.79" x2="58.86" y2="150.62"/>
<linearGradient id="k771" href="#sw" x1="55.83" y1="144.79" x2="59.08" y2="150.57"/>
<linearGradient id="k772" href="#sw" x1="76.63" y1="148.53" x2="79.93" y2="153.92"/>
<linearGradient id="k773" href="#sw" x1="93.46" y1="145.97" x2="97.15" y2="152.71"/>
<linearGradient id="k774" href="#sw" x1="93.42" y1="146.25" x2="96.93" y2="154.30"/>
<linearGradient id="k775" href="#sw" x1="93.21" y1="146.24" x2="95.73" y2="154.20"/>
<linearGradient id="k776" href="#sw" x1="112.81" y1="146.95" x2="117.27" y2="153.50"/>
<linearGradient id="k777" href="#sw" x1="129.87" y1="144.82" x2="133.70" y2="150.10"/>
<linearGradient id="k778" href="#sw" x1="129.88" y1="144.80" x2="133.90" y2="149.68"/>
<linearGradient id="k779" href="#sw" x1="129.87" y1="144.80" x2="133.80" y2="149.74"/>
<linearGradient id="k780" href="#sw" x1="148.85" y1="145.71" x2="152.47" y2="151.73"/>
<linearGradient id="k781" href="#sw" x1="170.00" y1="150.82" x2="174.01" y2="158.31"/>
<linearGradient id="k782" href="#sw" x1="169.68" y1="148.91" x2="173.31" y2="154.13"/>
<linearGradient id="k783" href="#sw" x1="170.67" y1="148.18" x2="175.46" y2="152.53"/>
<linearGradient id="k784" href="#sw" x1="1.00" y1="166.28" x2="2.50" y2="173.46"/>
<linearGradient id="k785" href="#sw" x1="3.35" y1="165.94" x2="9.30" y2="172.46"/>
<linearGradient id="k786" href="#sw" x1="18.73" y1="162.54" x2="22.15" y2="167.81"/>
<linearGradient id="k787" href="#sw" x1="38.70" y1="164.96" x2="42.42" y2="171.02"/>
<linearGradient id="k788" href="#sw" x1="38.52" y1="165.97" x2="41.79" y2="174.52"/>
<linearGradient id="k789" href="#sw" x1="37.78" y1="165.78" x2="39.25" y2="173.86"/>
<linearGradient id="k790" href="#sw" x1="58.86" y1="166.90" x2="63.51" y2="173.33"/>
<linearGradient id="k791" href="#sw" x1="75.48" y1="164.22" x2="79.56" y2="169.62"/>
<linearGradient id="k792" href="#sw" x1="75.20" y1="164.55" x2="78.43" y2="170.97"/>
<linearGradient id="k793" href="#sw" x1="75.36" y1="164.52" x2="79.05" y2="170.85"/>
<linearGradient id="k794" href="#sw" x1="93.01" y1="163.71" x2="95.17" y2="171.13"/>
<linearGradient id="k795" href="#sw" x1="112.25" y1="165.98" x2="114.48" y2="173.01"/>
<linearGradient id="k796" href="#sw" x1="112.54" y1="164.88" x2="115.35" y2="169.71"/>
<linearGradient id="k797" href="#sw" x1="113.06" y1="164.63" x2="116.90" y2="168.95"/>
<linearGradient id="k798" href="#sw" x1="132.08" y1="166.30" x2="135.01" y2="170.89"/>
<linearGradient id="k799" href="#sw" x1="148.15" y1="162.51" x2="151.24" y2="167.55"/>
<linearGradient id="k800" href="#sw" x1="148.14" y1="162.52" x2="150.56" y2="168.65"/>
<linearGradient id="k801" href="#sw" x1="148.14" y1="162.52" x2="150.38" y2="168.63"/>
<linearGradient id="k802" href="#sw" x1="170.01" y1="166.66" x2="173.47" y2="170.94"/>
<linearGradient id="k803" href="#sw" x1="188.38" y1="166.59" x2="192.16" y2="171.36"/>
<linearGradient id="k804" href="#sw" x1="0.35" y1="180.62" x2="6.36" y2="187.15"/>
<linearGradient id="k805" href="#sw" x1="22.29" y1="184.36" x2="28.16" y2="190.72"/>
<linearGradient id="k806" href="#sw" x1="24.12" y1="184.43" x2="32.99" y2="190.91"/>
<linearGradient id="k807" href="#sw" x1="21.61" y1="186.19" x2="26.37" y2="195.54"/>
<linearGradient id="k808" href="#sw" x1="38.82" y1="184.51" x2="45.29" y2="200.49"/>
<linearGradient id="k809" href="#sw" x1="60.92" y1="190.87" x2="67.09" y2="203.10"/>
<linearGradient id="k810" href="#sw" x1="60.88" y1="185.22" x2="67.00" y2="190.81"/>
<linearGradient id="k811" href="#sw" x1="61.53" y1="184.10" x2="68.41" y2="188.38"/>
<linearGradient id="k812" href="#sw" x1="75.40" y1="181.92" x2="81.46" y2="189.08"/>
<linearGradient id="k813" href="#sw" x1="98.17" y1="186.95" x2="104.10" y2="193.93"/>
<linearGradient id="k814" href="#sw" x1="95.86" y1="188.37" x2="99.30" y2="196.88"/>
<linearGradient id="k815" href="#sw" x1="97.90" y1="187.97" x2="103.55" y2="196.04"/>
<linearGradient id="k816" href="#sw" x1="112.00" y1="181.21" x2="116.91" y2="185.53"/>
<linearGradient id="k817" href="#sw" x1="129.85" y1="180.65" x2="134.19" y2="184.54"/>
<linearGradient id="k818" href="#sw" x1="129.92" y1="180.74" x2="135.54" y2="186.40"/>
<linearGradient id="k819" href="#sw" x1="129.82" y1="180.79" x2="133.53" y2="187.47"/>
<linearGradient id="k820" href="#sw" x1="150.18" y1="183.91" x2="155.12" y2="192.23"/>
<linearGradient id="k821" href="#sw" x1="168.86" y1="184.34" x2="173.95" y2="193.17"/>
<linearGradient id="k822" href="#sw" x1="169.48" y1="182.49" x2="176.00" y2="187.11"/>
<linearGradient id="k823" href="#sw" x1="169.20" y1="182.90" x2="175.07" y2="188.45"/>
<linearGradient id="k824" href="#sw" x1="4.26" y1="201.79" x2="11.86" y2="208.06"/>
<linearGradient id="k825" href="#sw" x1="4.15" y1="201.94" x2="11.53" y2="208.50"/>
<linearGradient id="k826" href="#sw" x1="19.31" y1="199.36" x2="26.47" y2="210.05"/>
<linearGradient id="k827" href="#sw" x1="39.13" y1="201.26" x2="45.90" y2="211.09"/>
<linearGradient id="k828" href="#sw" x1="38.04" y1="201.04" x2="41.04" y2="210.11"/>
<linearGradient id="k829" href="#sw" x1="39.25" y1="200.72" x2="46.47" y2="208.69"/>
<linearGradient id="k830" href="#sw" x1="59.09" y1="201.67" x2="64.11" y2="206.44"/>
<linearGradient id="k831" href="#sw" x1="78.49" y1="202.48" x2="84.32" y2="207.94"/>
<linearGradient id="k832" href="#sw" x1="79.03" y1="203.67" x2="85.60" y2="210.72"/>
<linearGradient id="k833" href="#sw" x1="78.27" y1="204.16" x2="83.80" y2="211.88"/>
<linearGradient id="k834" href="#sw" x1="95.42" y1="202.04" x2="101.77" y2="210.33"/>
<linearGradient id="k835" href="#sw" x1="113.51" y1="201.55" x2="120.10" y2="210.24"/>
<linearGradient id="k836" href="#sw" x1="113.50" y1="199.45" x2="120.09" y2="202.30"/>
<linearGradient id="k837" href="#sw" x1="113.40" y1="199.92" x2="119.69" y2="204.08"/>
<linearGradient id="k838" href="#sw" x1="138.52" y1="206.16" x2="147.49" y2="213.96"/>
<linearGradient id="k839" href="#sw" x1="157.11" y1="205.98" x2="168.11" y2="215.21"/>
<linearGradient id="k840" href="#sw" x1="155.53" y1="206.72" x2="164.59" y2="216.87"/>
<linearGradient id="k841" href="#sw" x1="156.92" y1="205.14" x2="167.69" y2="213.35"/>
<linearGradient id="k842" href="#sw" x1="174.01" y1="202.94" x2="182.12" y2="207.89"/>
<linearGradient id="k843" href="#sw" x1="187.39" y1="199.74" x2="196.53" y2="204.97"/>
<linearGradient id="k844" href="#sw" x1="2.86" y1="218.50" x2="11.03" y2="224.92"/>
<linearGradient id="k845" href="#sw" x1="25.67" y1="222.00" x2="33.21" y2="228.03"/>
<linearGradient id="k846" href="#sw" x1="23.09" y1="224.56" x2="27.85" y2="233.36"/>
<linearGradient id="k847" href="#sw" x1="25.82" y1="223.00" x2="33.52" y2="230.11"/>
<linearGradient id="k848" href="#sw" x1="37.43" y1="216.77" x2="42.80" y2="224.33"/>
<linearGradient id="k849" href="#sw" x1="60.67" y1="223.57" x2="66.26" y2="231.59"/>
<linearGradient id="k850" href="#sw" x1="62.25" y1="221.00" x2="69.61" y2="226.13"/>
<linearGradient id="k851" href="#sw" x1="60.93" y1="222.56" x2="66.82" y2="229.44"/>
<linearGradient id="k852" href="#sw" x1="75.76" y1="218.07" x2="83.60" y2="226.21"/>
<linearGradient id="k853" href="#sw" x1="93.21" y1="216.99" x2="101.25" y2="225.34"/>
<linearGradient id="k854" href="#sw" x1="93.12" y1="217.01" x2="99.91" y2="225.76"/>
<linearGradient id="k855" href="#sw" x1="93.21" y1="216.95" x2="101.25" y2="224.71"/>
<linearGradient id="k856" href="#sw" x1="111.43" y1="216.60" x2="117.81" y2="220.71"/>
<linearGradient id="k857" href="#sw" x1="137.26" y1="220.92" x2="144.90" y2="225.43"/>
<linearGradient id="k858" href="#sw" x1="139.24" y1="225.77" x2="148.86" y2="235.14"/>
<linearGradient id="k859" href="#sw" x1="138.21" y1="226.63" x2="146.80" y2="236.87"/>
<linearGradient id="k860" href="#sw" x1="148.24" y1="216.51" x2="157.80" y2="224.96"/>
<linearGradient id="k861" href="#sw" x1="174.45" y1="223.45" x2="182.90" y2="231.05"/>
<linearGradient id="k862" href="#sw" x1="173.83" y1="221.80" x2="181.62" y2="227.61"/>
<linearGradient id="k863" href="#sw" x1="173.98" y1="221.50" x2="181.93" y2="226.99"/>
<linearGradient id="k864" href="#sw" x1="2.81" y1="235.61" x2="12.98" y2="240.34"/>
<linearGradient id="k865" href="#sw" x1="2.26" y1="236.64" x2="10.26" y2="245.38"/>
<linearGradient id="k866" href="#sw" x1="27.13" y1="238.93" x2="38.20" y2="244.88"/>
<linearGradient id="k867" href="#sw" x1="42.24" y1="237.15" x2="53.09" y2="243.06"/>
<linearGradient id="k868" href="#sw" x1="41.12" y1="238.38" x2="49.56" y2="246.92"/>
<linearGradient id="k869" href="#sw" x1="41.96" y1="236.75" x2="52.22" y2="241.81"/>
<linearGradient id="k870" href="#sw" x1="58.86" y1="237.02" x2="67.15" y2="243.86"/>
<linearGradient id="k871" href="#sw" x1="74.58" y1="234.74" x2="81.74" y2="240.82"/>
<linearGradient id="k872" href="#sw" x1="74.53" y1="234.86" x2="80.91" y2="242.98"/>
<linearGradient id="k873" href="#sw" x1="74.58" y1="234.82" x2="81.84" y2="242.30"/>
<linearGradient id="k874" href="#sw" x1="98.82" y1="241.68" x2="105.30" y2="249.34"/>
<linearGradient id="k875" href="#sw" x1="115.67" y1="239.67" x2="121.60" y2="246.59"/>
<linearGradient id="k876" href="#sw" x1="117.28" y1="237.64" x2="125.32" y2="241.90"/>
<linearGradient id="k877" href="#sw" x1="115.60" y1="240.01" x2="121.44" y2="247.38"/>
<linearGradient id="k878" href="#sw" x1="139.03" y1="244.42" x2="148.73" y2="254.80"/>
<linearGradient id="k879" href="#sw" x1="148.84" y1="235.15" x2="157.94" y2="244.85"/>
<linearGradient id="k880" href="#sw" x1="148.67" y1="234.98" x2="155.62" y2="242.59"/>
<linearGradient id="k881" href="#sw" x1="148.79" y1="234.83" x2="157.22" y2="240.49"/>
<linearGradient id="k882" href="#sw" x1="172.59" y1="239.42" x2="179.47" y2="245.20"/>
<linearGradient id="k883" href="#sw" x1="187.12" y1="236.08" x2="193.92" y2="241.81"/>
<linearGradient id="k884" href="#sw" x1="1.60" y1="253.57" x2="11.70" y2="262.24"/>
<linearGradient id="k885" href="#sw" x1="19.97" y1="253.38" x2="34.99" y2="265.28"/>
<linearGradient id="k886" href="#sw" x1="19.44" y1="252.94" x2="28.28" y2="259.74"/>
<linearGradient id="k887" href="#sw" x1="19.51" y1="252.65" x2="29.12" y2="256.01"/>
<linearGradient id="k888" href="#sw" x1="43.79" y1="256.97" x2="52.38" y2="262.95"/>
<linearGradient id="k889" href="#sw" x1="58.07" y1="254.12" x2="65.56" y2="259.58"/>
<linearGradient id="k890" href="#sw" x1="58.38" y1="254.20" x2="66.82" y2="259.91"/>
<linearGradient id="k891" href="#sw" x1="58.17" y1="254.54" x2="65.96" y2="261.35"/>
<linearGradient id="k892" href="#sw" x1="81.48" y1="258.38" x2="90.40" y2="265.72"/>
<linearGradient id="k893" href="#sw" x1="96.00" y1="255.34" x2="101.74" y2="260.43"/>
<linearGradient id="k894" href="#sw" x1="96.09" y1="256.40" x2="101.99" y2="263.32"/>
<linearGradient id="k895" href="#sw" x1="95.94" y1="256.50" x2="101.57" y2="263.59"/>
<linearGradient id="k896" href="#sw" x1="112.68" y1="254.31" x2="118.49" y2="261.67"/>
<linearGradient id="k897" href="#sw" x1="130.03" y1="252.95" x2="139.07" y2="266.41"/>
<linearGradient id="k898" href="#sw" x1="130.00" y1="252.78" x2="138.32" y2="262.40"/>
<linearGradient id="k899" href="#sw" x1="130.06" y1="252.72" x2="139.71" y2="261.04"/>
<linearGradient id="k900" href="#sw" x1="148.87" y1="252.90" x2="156.87" y2="258.72"/>
<linearGradient id="k901" href="#sw" x1="171.24" y1="255.73" x2="179.20" y2="261.53"/>
<linearGradient id="k902" href="#sw" x1="171.87" y1="255.18" x2="180.92" y2="260.02"/>
<linearGradient id="k903" href="#sw" x1="171.39" y1="256.30" x2="179.59" y2="263.07"/>
<linearGradient id="k904" href="#sw" x1="1.45" y1="272.86" x2="6.27" y2="282.59"/>
<linearGradient id="k905" href="#sw" x1="1.55" y1="272.84" x2="6.78" y2="282.51"/>
<linearGradient id="k906" href="#sw" x1="21.72" y1="273.03" x2="27.74" y2="278.39"/>
<linearGradient id="k907" href="#sw" x1="41.56" y1="274.28" x2="47.12" y2="279.28"/>
<linearGradient id="k908" href="#sw" x1="42.42" y1="274.81" x2="49.06" y2="280.48"/>
<linearGradient id="k909" href="#sw" x1="41.49" y1="275.67" x2="46.96" y2="282.42"/>
<linearGradient id="k910" href="#sw" x1="56.87" y1="271.56" x2="63.60" y2="278.43"/>
<linearGradient id="k911" href="#sw" x1="80.66" y1="276.96" x2="88.46" y2="284.91"/>
<linearGradient id="k912" href="#sw" x1="80.23" y1="274.20" x2="87.53" y2="278.85"/>
<linearGradient id="k913" href="#sw" x1="80.17" y1="274.36" x2="87.39" y2="279.19"/>
<linearGradient id="k914" href="#sw" x1="92.88" y1="270.54" x2="100.89" y2="277.79"/>
<linearGradient id="k915" href="#sw" x1="121.27" y1="278.79" x2="134.61" y2="289.94"/>
<linearGradient id="k916" href="#sw" x1="118.78" y1="280.84" x2="128.85" y2="294.68"/>
<linearGradient id="k917" href="#sw" x1="121.25" y1="278.73" x2="134.58" y2="289.78"/>
<linearGradient id="k918" href="#sw" x1="130.91" y1="271.35" x2="141.22" y2="279.54"/>
<linearGradient id="k919" href="#sw" x1="148.31" y1="270.49" x2="155.83" y2="276.87"/>
<linearGradient id="k920" href="#sw" x1="148.32" y1="270.48" x2="156.32" y2="276.26"/>
<linearGradient id="k921" href="#sw" x1="148.31" y1="270.49" x2="155.85" y2="277.00"/>
<linearGradient id="k922" href="#sw" x1="170.80" y1="273.76" x2="179.07" y2="280.52"/>
<linearGradient id="k923" href="#sw" x1="187.00" y1="271.76" x2="198.43" y2="280.38"/>
<linearGradient id="k924" href="#sw" x1="5.88" y1="297.00" x2="12.80" y2="307.58"/>
<linearGradient id="k925" href="#sw" x1="18.79" y1="288.45" x2="23.85" y2="295.19"/>
<linearGradient id="k926" href="#sw" x1="18.78" y1="288.42" x2="23.42" y2="293.43"/>
<linearGradient id="k927" href="#sw" x1="18.79" y1="288.41" x2="23.99" y2="292.82"/>
<linearGradient id="k928" href="#sw" x1="37.96" y1="289.47" x2="42.27" y2="295.88"/>
<linearGradient id="k929" href="#sw" x1="60.10" y1="295.86" x2="65.35" y2="304.81"/>
<linearGradient id="k930" href="#sw" x1="62.76" y1="295.01" x2="71.17" y2="302.96"/>
<linearGradient id="k931" href="#sw" x1="59.62" y1="296.56" x2="64.30" y2="306.36"/>
<linearGradient id="k932" href="#sw" x1="79.30" y1="291.51" x2="86.85" y2="296.19"/>
<linearGradient id="k933" href="#sw" x1="100.56" y1="292.88" x2="109.22" y2="297.89"/>
<linearGradient id="k934" href="#sw" x1="99.93" y1="298.18" x2="107.91" y2="309.00"/>
<linearGradient id="k935" href="#sw" x1="101.75" y1="296.78" x2="111.72" y2="306.06"/>
<linearGradient id="k936" href="#sw" x1="111.91" y1="289.35" x2="119.91" y2="300.12"/>
<linearGradient id="k937" href="#sw" x1="131.37" y1="290.50" x2="137.70" y2="298.48"/>
<linearGradient id="k938" href="#sw" x1="131.12" y1="290.07" x2="136.54" y2="296.45"/>
<linearGradient id="k939" href="#sw" x1="131.39" y1="289.80" x2="137.80" y2="295.21"/>
<linearGradient id="k940" href="#sw" x1="152.69" y1="293.79" x2="158.09" y2="300.26"/>
<linearGradient id="k941" href="#sw" x1="169.07" y1="291.27" x2="174.63" y2="297.97"/>
<linearGradient id="k942" href="#sw" x1="169.51" y1="292.12" x2="176.09" y2="300.76"/>
<linearGradient id="k943" href="#sw" x1="168.53" y1="292.41" x2="172.86" y2="301.71"/>
<linearGradient id="k944" href="#sw" x1="4.29" y1="310.71" x2="10.77" y2="317.72"/>
<linearGradient id="k945" href="#sw" x1="4.28" y1="310.72" x2="10.76" y2="317.73"/>
<linearGradient id="k946" href="#sw" x1="20.60" y1="307.61" x2="26.68" y2="311.79"/>
<linearGradient id="k947" href="#sw" x1="39.00" y1="307.46" x2="46.30" y2="312.11"/>
<linearGradient id="k948" href="#sw" x1="39.57" y1="308.85" x2="49.17" y2="319.09"/>
<linearGradient id="k949" href="#sw" x1="38.98" y1="309.18" x2="46.21" y2="320.75"/>
<linearGradient id="k950" href="#sw" x1="58.91" y1="310.52" x2="68.19" y2="322.66"/>
<linearGradient id="k951" href="#sw" x1="78.04" y1="310.94" x2="84.36" y2="318.52"/>
<linearGradient id="k952" href="#sw" x1="77.71" y1="309.84" x2="83.50" y2="315.61"/>
<linearGradient id="k953" href="#sw" x1="78.03" y1="309.47" x2="84.33" y2="314.63"/>
<linearGradient id="k954" href="#sw" x1="92.72" y1="306.40" x2="97.91" y2="314.75"/>
<linearGradient id="k955" href="#sw" x1="111.25" y1="306.46" x2="116.56" y2="315.14"/>
<linearGradient id="k956" href="#sw" x1="111.25" y1="306.44" x2="116.53" y2="314.10"/>
<linearGradient id="k957" href="#sw" x1="111.26" y1="306.44" x2="117.05" y2="313.84"/>
<linearGradient id="k958" href="#sw" x1="134.67" y1="311.18" x2="140.31" y2="316.67"/>
<linearGradient id="k959" href="#sw" x1="149.25" y1="307.39" x2="154.66" y2="312.66"/>
<linearGradient id="k960" href="#sw" x1="149.59" y1="307.70" x2="156.62" y2="314.52"/>
<linearGradient id="k961" href="#sw" x1="149.09" y1="307.99" x2="153.74" y2="316.17"/>
<linearGradient id="k962" href="#sw" x1="171.82" y1="315.27" x2="177.93" y2="325.82"/>
<linearGradient id="k963" href="#sw" x1="185.59" y1="307.03" x2="190.87" y2="315.14"/>
<linearGradient id="k964" href="#sw" x1="1.90" y1="326.01" x2="8.78" y2="333.04"/>
<linearGradient id="k965" href="#sw" x1="25.85" y1="331.59" x2="33.53" y2="339.44"/>
<linearGradient id="k966" href="#sw" x1="25.56" y1="328.58" x2="32.93" y2="333.21"/>
<linearGradient id="k967" href="#sw" x1="25.41" y1="328.94" x2="32.61" y2="333.96"/>
<linearGradient id="k968" href="#sw" x1="38.16" y1="325.80" x2="45.56" y2="337.46"/>
<linearGradient id="k969" href="#sw" x1="58.57" y1="328.68" x2="65.59" y2="339.35"/>
<linearGradient id="k970" href="#sw" x1="57.60" y1="327.20" x2="62.24" y2="334.27"/>
<linearGradient id="k971" href="#sw" x1="58.60" y1="326.24" x2="65.68" y2="331.00"/>
<linearGradient id="k972" href="#sw" x1="75.25" y1="325.40" x2="80.31" y2="330.66"/>
<linearGradient id="k973" href="#sw" x1="95.22" y1="326.94" x2="100.79" y2="332.75"/>
<linearGradient id="k974" href="#sw" x1="94.99" y1="328.20" x2="100.06" y2="336.76"/>
<linearGradient id="k975" href="#sw" x1="94.80" y1="328.25" x2="99.45" y2="336.90"/>
<linearGradient id="k976" href="#sw" x1="114.00" y1="328.03" x2="119.57" y2="335.37"/>
<linearGradient id="k977" href="#sw" x1="131.43" y1="326.68" x2="137.41" y2="334.74"/>
<linearGradient id="k978" href="#sw" x1="132.22" y1="325.48" x2="140.87" y2="329.54"/>
<linearGradient id="k979" href="#sw" x1="131.43" y1="326.66" x2="137.44" y2="334.63"/>
<linearGradient id="k980" href="#sw" x1="154.19" y1="329.40" x2="165.28" y2="338.79"/>
<linearGradient id="k981" href="#sw" x1="172.91" y1="329.61" x2="183.85" y2="338.89"/>
<linearGradient id="k982" href="#sw" x1="170.20" y1="329.14" x2="176.42" y2="337.60"/>
<linearGradient id="k983" href="#sw" x1="171.83" y1="326.97" x2="180.88" y2="331.66"/>
<linearGradient id="k984" href="#sw" x1="4.78" y1="349.08" x2="9.64" y2="356.34"/>
<linearGradient id="k985" href="#sw" x1="5.51" y1="348.69" x2="11.15" y2="355.55"/>
<linearGradient id="k986" href="#sw" x1="22.70" y1="346.32" x2="27.96" y2="351.67"/>
<linearGradient id="k987" href="#sw" x1="37.39" y1="342.46" x2="43.80" y2="348.95"/>
<linearGradient id="k988" href="#sw" x1="37.34" y1="342.56" x2="42.26" y2="352.05"/>
<linearGradient id="k989" href="#sw" x1="37.37" y1="342.55" x2="43.08" y2="351.86"/>
<linearGradient id="k990" href="#sw" x1="57.08" y1="343.45" x2="63.03" y2="348.53"/>
<linearGradient id="k991" href="#sw" x1="76.57" y1="344.33" x2="82.07" y2="349.08"/>
<linearGradient id="k992" href="#sw" x1="77.41" y1="344.70" x2="84.82" y2="350.30"/>
<linearGradient id="k993" href="#sw" x1="76.43" y1="345.57" x2="81.60" y2="353.14"/>
<linearGradient id="k994" href="#sw" x1="98.91" y1="350.67" x2="106.28" y2="360.60"/>
<linearGradient id="k995" href="#sw" x1="117.39" y1="350.35" x2="123.92" y2="358.81"/>
<linearGradient id="k996" href="#sw" x1="116.68" y1="349.91" x2="122.46" y2="357.91"/>
<linearGradient id="k997" href="#sw" x1="117.58" y1="349.34" x2="124.29" y2="356.75"/>
<linearGradient id="k998" href="#sw" x1="134.63" y1="349.06" x2="140.44" y2="356.98"/>
<linearGradient id="k999" href="#sw" x1="153.51" y1="350.34" x2="160.72" y2="361.17"/>
<linearGradient id="k1000" href="#sw" x1="153.20" y1="348.99" x2="159.99" y2="358.03"/>
<linearGradient id="k1001" href="#sw" x1="153.95" y1="348.49" x2="161.75" y2="356.84"/>
<linearGradient id="k1002" href="#sw" x1="171.91" y1="346.54" x2="178.83" y2="352.16"/>
<linearGradient id="k1003" href="#sw" x1="186.40" y1="343.25" x2="194.81" y2="349.76"/>
<linearGradient id="k1004" href="#sw" x1="1.84" y1="362.67" x2="6.18" y2="369.13"/>
<linearGradient id="k1005" href="#sw" x1="18.91" y1="360.55" x2="23.04" y2="366.54"/>
<linearGradient id="k1006" href="#sw" x1="19.01" y1="360.57" x2="24.90" y2="367.04"/>
<linearGradient id="k1007" href="#sw" x1="18.87" y1="360.63" x2="22.10" y2="368.06"/>
<linearGradient id="k1008" href="#sw" x1="40.38" y1="365.87" x2="45.46" y2="374.83"/>
<linearGradient id="k1009" href="#sw" x1="59.31" y1="366.37" x2="64.18" y2="374.63"/>
<linearGradient id="k1010" href="#sw" x1="60.73" y1="363.48" x2="67.51" y2="367.85"/>
<linearGradient id="k1011" href="#sw" x1="59.80" y1="364.74" x2="65.35" y2="370.81"/>
<linearGradient id="k1012" href="#sw" x1="80.25" y1="366.85" x2="87.67" y2="374.95"/>
<linearGradient id="k1013" href="#sw" x1="99.99" y1="368.44" x2="110.74" y2="380.50"/>
<linearGradient id="k1014" href="#sw" x1="98.17" y1="366.17" x2="106.27" y2="374.90"/>
<linearGradient id="k1015" href="#sw" x1="99.36" y1="364.51" x2="109.19" y2="370.81"/>
<linearGradient id="k1016" href="#sw" x1="116.20" y1="364.86" x2="124.29" y2="372.28"/>
<linearGradient id="k1017" href="#sw" x1="131.97" y1="362.42" x2="138.05" y2="368.16"/>
<linearGradient id="k1018" href="#sw" x1="131.66" y1="363.98" x2="136.94" y2="373.79"/>
<linearGradient id="k1019" href="#sw" x1="131.47" y1="364.01" x2="136.24" y2="373.89"/>
<linearGradient id="k1020" href="#sw" x1="151.76" y1="365.03" x2="157.84" y2="373.08"/>
<linearGradient id="k1021" href="#sw" x1="169.09" y1="363.32" x2="174.08" y2="369.60"/>
<linearGradient id="k1022" href="#sw" x1="169.28" y1="363.47" x2="174.67" y2="370.07"/>
<linearGradient id="k1023" href="#sw" x1="168.99" y1="363.63" x2="173.80" y2="370.54"/>
<clipPath id="kcp"><path d="M131.4,16.9L146.4,22.8L155.1,52.3L156.7,83.3L142.4,90.7L126.6,83.3L125.1,59.7L128.2,37.6Z"/></clipPath>
<linearGradient id="k1024" href="#sw" x1="66.43" y1="94.38" x2="-73.74" y2="293.84"/>
<linearGradient id="k1025" href="#sw" x1="141.21" y1="114.30" x2="143.80" y2="339.70"/>
<linearGradient id="k1026" href="#sw" x1="115.86" y1="94.69" x2="60.66" y2="275.36"/>
<linearGradient id="k1027" href="#sw" x1="136.74" y1="114.20" x2="129.15" y2="339.37"/>
<linearGradient id="k1028" href="#sw" x1="122.21" y1="95.86" x2="123.41" y2="249.38"/>
<linearGradient id="k1029" href="#sw" x1="122.42" y1="95.95" x2="124.45" y2="249.82"/>
<linearGradient id="k1030" href="#sw" x1="139.16" y1="95.70" x2="135.63" y2="249.14"/>
<linearGradient id="k1031" href="#sw" x1="168.19" y1="86.75" x2="206.24" y2="204.37"/>
<clipPath id="kcq"><path d="M142.4,325.1L170.1,317.7L183.5,339.9L186.7,365.7L170.1,378.2L138.5,378.2L133.0,354.6Z"/></clipPath>
<linearGradient id="k1032" href="#sw" x1="104.58" y1="293.63" x2="68.46" y2="261.20"/>
<linearGradient id="k1033" href="#sw" x1="149.70" y1="316.16" x2="126.28" y2="294.56"/>
<linearGradient id="k1034" href="#sw" x1="149.73" y1="316.12" x2="131.87" y2="286.93"/>
<linearGradient id="k1035" href="#sw" x1="149.70" y1="316.14" x2="126.34" y2="290.01"/>
<linearGradient id="k1036" href="#sw" x1="164.34" y1="307.12" x2="146.63" y2="277.64"/>
<linearGradient id="k1037" href="#sw" x1="178.84" y1="276.32" x2="160.79" y2="210.86"/>
<linearGradient id="k1038" href="#sw" x1="98.16" y1="318.32" x2="65.96" y2="299.39"/>
<linearGradient id="k1039" href="#sw" x1="98.16" y1="318.32" x2="65.96" y2="299.39"/>
<linearGradient id="k1040" href="#sw" x1="134.34" y1="325.87" x2="99.49" y2="301.02"/>
<linearGradient id="k1041" href="#sw" x1="141.09" y1="316.41" x2="106.23" y2="291.56"/>
<linearGradient id="k1042" href="#sw" x1="153.63" y1="280.77" x2="133.98" y2="212.71"/>
<linearGradient id="k1043" href="#sw" x1="153.63" y1="280.77" x2="133.98" y2="212.71"/>
<linearGradient id="k1044" href="#sw" x1="121.29" y1="352.63" x2="88.84" y2="333.84"/>
<linearGradient id="k1045" href="#sw" x1="108.59" y1="341.82" x2="51.66" y2="320.08"/>
<linearGradient id="k1046" href="#sw" x1="112.25" y1="353.21" x2="60.37" y2="347.21"/>
<linearGradient id="k1047" href="#sw" x1="108.44" y1="341.68" x2="51.30" y2="319.76"/>
<linearGradient id="k1048" href="#sw" x1="149.47" y1="346.11" x2="-44.62" y2="237.01"/>
<linearGradient id="k1049" href="#sw" x1="182.84" y1="351.50" x2="144.59" y2="318.48"/>
<g id="c3m" shape-rendering="crispEdges"><g clip-path="url(#kcr)">
<polygon points="268.9,0.7 285.9,0.7 268.9,17.9" fill="url(#k0)"/>
<polygon points="285.9,0.7 285.9,17.9 268.9,17.9" fill="url(#k1)"/>
<polygon points="285.9,0.7 302.9,0.7 302.9,17.9" fill="url(#k2)"/>
<polygon points="285.9,0.7 302.9,17.9 285.9,17.9" fill="url(#k3)"/>
<polygon points="302.9,0.7 319.8,0.7 302.9,17.9" fill="url(#k4)"/>
<polygon points="319.8,0.7 319.8,17.9 302.9,17.9" fill="url(#k5)"/>
<polygon points="319.8,0.7 336.8,0.7 336.8,17.9" fill="url(#k6)"/>
<polygon points="319.8,0.7 336.8,17.9 319.8,17.9" fill="url(#k7)"/>
<polygon points="336.8,0.7 353.8,0.7 336.8,17.9" fill="url(#k8)"/>
<polygon points="353.8,0.7 353.8,17.9 336.8,17.9" fill="url(#k9)"/>
<polygon points="353.8,0.7 370.8,0.7 370.8,17.9" fill="url(#k10)"/>
<polygon points="353.8,0.7 370.8,17.9 353.8,17.9" fill="url(#k11)"/>
<polygon points="370.8,0.7 387.8,0.7 370.8,17.9" fill="url(#k12)"/>
<polygon points="387.8,0.7 387.8,17.9 370.8,17.9" fill="url(#k13)"/>
<polygon points="387.8,0.7 404.8,0.7 404.8,17.9" fill="url(#k14)"/>
<polygon points="387.8,0.7 404.8,17.9 387.8,17.9" fill="url(#k15)"/>
<polygon points="268.9,17.9 285.9,17.9 285.9,35.0" fill="url(#k16)"/>
<polygon points="268.9,17.9 285.9,35.0 268.9,35.0" fill="url(#k17)"/>
<polygon points="285.9,17.9 302.9,17.9 285.9,35.0" fill="url(#k18)"/>
<polygon points="302.9,17.9 302.9,35.0 285.9,35.0" fill="url(#k19)"/>
<polygon points="302.9,17.9 319.8,17.9 319.8,35.0" fill="url(#k20)"/>
<polygon points="302.9,17.9 319.8,35.0 302.9,35.0" fill="url(#k21)"/>
<polygon points="319.8,17.9 336.8,17.9 319.8,35.0" fill="url(#k22)"/>
<polygon points="336.8,17.9 336.8,35.0 319.8,35.0" fill="url(#k23)"/>
<polygon points="336.8,17.9 353.8,17.9 353.8,35.0" fill="url(#k24)"/>
<polygon points="336.8,17.9 353.8,35.0 336.8,35.0" fill="url(#k25)"/>
<polygon points="353.8,17.9 370.8,17.9 353.8,35.0" fill="url(#k26)"/>
<polygon points="370.8,17.9 370.8,35.0 353.8,35.0" fill="url(#k27)"/>
<polygon points="370.8,17.9 387.8,17.9 387.8,35.0" fill="url(#k28)"/>
<polygon points="370.8,17.9 387.8,35.0 370.8,35.0" fill="url(#k29)"/>
<polygon points="387.8,17.9 404.8,17.9 387.8,35.0" fill="url(#k30)"/>
<polygon points="404.8,17.9 404.8,35.0 387.8,35.0" fill="url(#k31)"/>
<polygon points="268.9,35.0 285.9,35.0 268.9,52.2" fill="url(#k32)"/>
<polygon points="285.9,35.0 285.9,52.2 268.9,52.2" fill="url(#k33)"/>
<polygon points="285.9,35.0 302.9,35.0 302.9,52.2" fill="url(#k34)"/>
<polygon points="285.9,35.0 302.9,52.2 285.9,52.2" fill="url(#k35)"/>
<polygon points="302.9,35.0 319.8,35.0 302.9,52.2" fill="url(#k36)"/>
<polygon points="319.8,35.0 319.8,52.2 302.9,52.2" fill="url(#k37)"/>
<polygon points="319.8,35.0 336.8,35.0 336.8,52.2" fill="url(#k38)"/>
<polygon points="319.8,35.0 336.8,52.2 319.8,52.2" fill="url(#k39)"/>
<polygon points="336.8,35.0 353.8,35.0 336.8,52.2" fill="url(#k40)"/>
<polygon points="353.8,35.0 353.8,52.2 336.8,52.2" fill="url(#k41)"/>
<polygon points="353.8,35.0 370.8,35.0 370.8,52.2" fill="url(#k42)"/>
<polygon points="353.8,35.0 370.8,52.2 353.8,52.2" fill="url(#k43)"/>
<polygon points="370.8,35.0 387.8,35.0 370.8,52.2" fill="url(#k44)"/>
<polygon points="387.8,35.0 387.8,52.2 370.8,52.2" fill="url(#k45)"/>
<polygon points="387.8,35.0 404.8,35.0 404.8,52.2" fill="url(#k46)"/>
<polygon points="387.8,35.0 404.8,52.2 387.8,52.2" fill="url(#k47)"/>
<polygon points="268.9,52.2 285.9,52.2 285.9,69.3" fill="url(#k48)"/>
<polygon points="268.9,52.2 285.9,69.3 268.9,69.3" fill="url(#k49)"/>
<polygon points="285.9,52.2 302.9,52.2 285.9,69.3" fill="url(#k50)"/>
<polygon points="302.9,52.2 302.9,69.3 285.9,69.3" fill="url(#k51)"/>
<polygon points="302.9,52.2 319.8,52.2 319.8,69.3" fill="url(#k52)"/>
<polygon points="302.9,52.2 319.8,69.3 302.9,69.3" fill="url(#k53)"/>
<polygon points="319.8,52.2 336.8,52.2 319.8,69.3" fill="url(#k54)"/>
<polygon points="336.8,52.2 336.8,69.3 319.8,69.3" fill="url(#k55)"/>
<polygon points="336.8,52.2 353.8,52.2 353.8,69.3" fill="url(#k56)"/>
<polygon points="336.8,52.2 353.8,69.3 336.8,69.3" fill="url(#k57)"/>
<polygon points="353.8,52.2 370.8,52.2 353.8,69.3" fill="url(#k58)"/>
<polygon points="370.8,52.2 370.8,69.3 353.8,69.3" fill="url(#k59)"/>
<polygon points="370.8,52.2 387.8,52.2 387.8,69.3" fill="url(#k60)"/>
<polygon points="370.8,52.2 387.8,69.3 370.8,69.3" fill="url(#k61)"/>
<polygon points="387.8,52.2 404.8,52.2 387.8,69.3" fill="url(#k62)"/>
<polygon points="404.8,52.2 404.8,69.3 387.8,69.3" fill="url(#k63)"/>
<polygon points="268.9,69.3 285.9,69.3 268.9,86.5" fill="url(#k64)"/>
<polygon points="285.9,69.3 285.9,86.5 268.9,86.5" fill="url(#k65)"/>
<polygon points="285.9,69.3 302.9,69.3 302.9,86.5" fill="url(#k66)"/>
<polygon points="285.9,69.3 302.9,86.5 285.9,86.5" fill="url(#k67)"/>
<polygon points="302.9,69.3 319.8,69.3 302.9,86.5" fill="url(#k68)"/>
<polygon points="319.8,69.3 319.8,86.5 302.9,86.5" fill="url(#k69)"/>
<polygon points="319.8,69.3 336.8,69.3 336.8,86.5" fill="url(#k70)"/>
<polygon points="319.8,69.3 336.8,86.5 319.8,86.5" fill="url(#k71)"/>
<polygon points="336.8,69.3 353.8,69.3 336.8,86.5" fill="url(#k72)"/>
<polygon points="353.8,69.3 353.8,86.5 336.8,86.5" fill="url(#k73)"/>
<polygon points="353.8,69.3 370.8,69.3 370.8,86.5" fill="url(#k74)"/>
<polygon points="353.8,69.3 370.8,86.5 353.8,86.5" fill="url(#k75)"/>
<polygon points="370.8,69.3 387.8,69.3 370.8,86.5" fill="url(#k76)"/>
<polygon points="387.8,69.3 387.8,86.5 370.8,86.5" fill="url(#k77)"/>
<polygon points="387.8,69.3 404.8,69.3 404.8,86.5" fill="url(#k78)"/>
<polygon points="387.8,69.3 404.8,86.5 387.8,86.5" fill="url(#k79)"/>
<polygon points="268.9,86.5 285.9,86.5 285.9,103.7" fill="url(#k80)"/>
<polygon points="268.9,86.5 285.9,103.7 268.9,103.7" fill="url(#k81)"/>
<polygon points="285.9,86.5 302.9,86.5 285.9,103.7" fill="url(#k82)"/>
<polygon points="302.9,86.5 302.9,103.7 285.9,103.7" fill="url(#k83)"/>
<polygon points="302.9,86.5 319.8,86.5 319.8,103.7" fill="url(#k84)"/>
<polygon points="302.9,86.5 319.8,103.7 302.9,103.7" fill="url(#k85)"/>
<polygon points="319.8,86.5 336.8,86.5 319.8,103.7" fill="url(#k86)"/>
<polygon points="336.8,86.5 336.8,103.7 319.8,103.7" fill="url(#k87)"/>
<polygon points="336.8,86.5 353.8,86.5 353.8,103.7" fill="url(#k88)"/>
<polygon points="336.8,86.5 353.8,103.7 336.8,103.7" fill="url(#k89)"/>
<polygon points="353.8,86.5 370.8,86.5 353.8,103.7" fill="url(#k90)"/>
<polygon points="370.8,86.5 370.8,103.7 353.8,103.7" fill="url(#k91)"/>
<polygon points="370.8,86.5 387.8,86.5 387.8,103.7" fill="url(#k92)"/>
<polygon points="370.8,86.5 387.8,103.7 370.8,103.7" fill="url(#k93)"/>
<polygon points="387.8,86.5 404.8,86.5 387.8,103.7" fill="url(#k94)"/>
<polygon points="404.8,86.5 404.8,103.7 387.8,103.7" fill="url(#k95)"/>
<polygon points="268.9,103.7 285.9,103.7 268.9,120.8" fill="url(#k96)"/>
<polygon points="285.9,103.7 285.9,120.8 268.9,120.8" fill="url(#k97)"/>
<polygon points="285.9,103.7 302.9,103.7 302.9,120.8" fill="url(#k98)"/>
<polygon points="285.9,103.7 302.9,120.8 285.9,120.8" fill="url(#k99)"/>
<polygon points="302.9,103.7 319.8,103.7 302.9,120.8" fill="url(#k100)"/>
<polygon points="319.8,103.7 319.8,120.8 302.9,120.8" fill="url(#k101)"/>
<polygon points="319.8,103.7 336.8,103.7 336.8,120.8" fill="url(#k102)"/>
<polygon points="319.8,103.7 336.8,120.8 319.8,120.8" fill="url(#k103)"/>
<polygon points="336.8,103.7 353.8,103.7 336.8,120.8" fill="url(#k104)"/>
<polygon points="353.8,103.7 353.8,120.8 336.8,120.8" fill="url(#k105)"/>
<polygon points="353.8,103.7 370.8,103.7 370.8,120.8" fill="url(#k106)"/>
<polygon points="353.8,103.7 370.8,120.8 353.8,120.8" fill="url(#k107)"/>
<polygon points="370.8,103.7 387.8,103.7 370.8,120.8" fill="url(#k108)"/>
<polygon points="387.8,103.7 387.8,120.8 370.8,120.8" fill="url(#k109)"/>
<polygon points="387.8,103.7 404.8,103.7 404.8,120.8" fill="url(#k110)"/>
<polygon points="387.8,103.7 404.8,120.8 387.8,120.8" fill="url(#k111)"/>
<polygon points="268.9,120.8 285.9,120.8 285.9,138.0" fill="url(#k112)"/>
<polygon points="268.9,120.8 285.9,138.0 268.9,138.0" fill="url(#k113)"/>
<polygon points="285.9,120.8 302.9,120.8 285.9,138.0" fill="url(#k114)"/>
<polygon points="302.9,120.8 302.9,138.0 285.9,138.0" fill="url(#k115)"/>
<polygon points="302.9,120.8 319.8,120.8 319.8,138.0" fill="url(#k116)"/>
<polygon points="302.9,120.8 319.8,138.0 302.9,138.0" fill="url(#k117)"/>
<polygon points="319.8,120.8 336.8,120.8 319.8,138.0" fill="url(#k118)"/>
<polygon points="336.8,120.8 336.8,138.0 319.8,138.0" fill="url(#k119)"/>
<polygon points="336.8,120.8 353.8,120.8 353.8,138.0" fill="url(#k120)"/>
<polygon points="336.8,120.8 353.8,138.0 336.8,138.0" fill="url(#k121)"/>
<polygon points="353.8,120.8 370.8,120.8 353.8,138.0" fill="url(#k122)"/>
<polygon points="370.8,120.8 370.8,138.0 353.8,138.0" fill="url(#k123)"/>
<polygon points="370.8,120.8 387.8,120.8 387.8,138.0" fill="url(#k124)"/>
<polygon points="370.8,120.8 387.8,138.0 370.8,138.0" fill="url(#k125)"/>
<polygon points="387.8,120.8 404.8,120.8 387.8,138.0" fill="url(#k126)"/>
<polygon points="404.8,120.8 404.8,138.0 387.8,138.0" fill="url(#k127)"/>
<polygon points="268.9,138.0 285.9,138.0 268.9,155.1" fill="url(#k128)"/>
<polygon points="285.9,138.0 285.9,155.1 268.9,155.1" fill="url(#k129)"/>
<polygon points="285.9,138.0 302.9,138.0 302.9,155.1" fill="url(#k130)"/>
<polygon points="285.9,138.0 302.9,155.1 285.9,155.1" fill="url(#k131)"/>
<polygon points="302.9,138.0 319.8,138.0 302.9,155.1" fill="url(#k132)"/>
<polygon points="319.8,138.0 319.8,155.1 302.9,155.1" fill="url(#k133)"/>
<polygon points="319.8,138.0 336.8,138.0 336.8,155.1" fill="url(#k134)"/>
<polygon points="319.8,138.0 336.8,155.1 319.8,155.1" fill="url(#k135)"/>
<polygon points="336.8,138.0 353.8,138.0 336.8,155.1" fill="url(#k136)"/>
<polygon points="353.8,138.0 353.8,155.1 336.8,155.1" fill="url(#k137)"/>
<polygon points="353.8,138.0 370.8,138.0 370.8,155.1" fill="url(#k138)"/>
<polygon points="353.8,138.0 370.8,155.1 353.8,155.1" fill="url(#k139)"/>
<polygon points="370.8,138.0 387.8,138.0 370.8,155.1" fill="url(#k140)"/>
<polygon points="387.8,138.0 387.8,155.1 370.8,155.1" fill="url(#k141)"/>
<polygon points="387.8,138.0 404.8,138.0 404.8,155.1" fill="url(#k142)"/>
<polygon points="387.8,138.0 404.8,155.1 387.8,155.1" fill="url(#k143)"/>
<polygon points="268.9,155.1 285.9,155.1 285.9,172.3" fill="url(#k144)"/>
<polygon points="268.9,155.1 285.9,172.3 268.9,172.3" fill="url(#k145)"/>
<polygon points="285.9,155.1 302.9,155.1 285.9,172.3" fill="url(#k146)"/>
<polygon points="302.9,155.1 302.9,172.3 285.9,172.3" fill="url(#k147)"/>
<polygon points="302.9,155.1 319.8,155.1 319.8,172.3" fill="url(#k148)"/>
<polygon points="302.9,155.1 319.8,172.3 302.9,172.3" fill="url(#k149)"/>
<polygon points="319.8,155.1 336.8,155.1 319.8,172.3" fill="url(#k150)"/>
<polygon points="336.8,155.1 336.8,172.3 319.8,172.3" fill="url(#k151)"/>
<polygon points="336.8,155.1 353.8,155.1 353.8,172.3" fill="url(#k152)"/>
<polygon points="336.8,155.1 353.8,172.3 336.8,172.3" fill="url(#k153)"/>
<polygon points="353.8,155.1 370.8,155.1 353.8,172.3" fill="url(#k154)"/>
<polygon points="370.8,155.1 370.8,172.3 353.8,172.3" fill="url(#k155)"/>
<polygon points="370.8,155.1 387.8,155.1 387.8,172.3" fill="url(#k156)"/>
<polygon points="370.8,155.1 387.8,172.3 370.8,172.3" fill="url(#k157)"/>
<polygon points="387.8,155.1 404.8,155.1 387.8,172.3" fill="url(#k158)"/>
<polygon points="404.8,155.1 404.8,172.3 387.8,172.3" fill="url(#k159)"/>
<polygon points="268.9,172.3 285.9,172.3 268.9,189.5" fill="url(#k160)"/>
<polygon points="285.9,172.3 285.9,189.5 268.9,189.5" fill="url(#k161)"/>
<polygon points="285.9,172.3 302.9,172.3 302.9,189.5" fill="url(#k162)"/>
<polygon points="285.9,172.3 302.9,189.5 285.9,189.5" fill="url(#k163)"/>
<polygon points="302.9,172.3 319.8,172.3 302.9,189.5" fill="url(#k164)"/>
<polygon points="319.8,172.3 319.8,189.5 302.9,189.5" fill="url(#k165)"/>
<polygon points="319.8,172.3 336.8,172.3 336.8,189.5" fill="url(#k166)"/>
<polygon points="319.8,172.3 336.8,189.5 319.8,189.5" fill="url(#k167)"/>
<polygon points="336.8,172.3 353.8,172.3 336.8,189.5" fill="url(#k168)"/>
<polygon points="353.8,172.3 353.8,189.5 336.8,189.5" fill="url(#k169)"/>
<polygon points="353.8,172.3 370.8,172.3 370.8,189.5" fill="url(#k170)"/>
<polygon points="353.8,172.3 370.8,189.5 353.8,189.5" fill="url(#k171)"/>
<polygon points="370.8,172.3 387.8,172.3 370.8,189.5" fill="url(#k172)"/>
<polygon points="387.8,172.3 387.8,189.5 370.8,189.5" fill="url(#k173)"/>
<polygon points="387.8,172.3 404.8,172.3 404.8,189.5" fill="url(#k174)"/>
<polygon points="387.8,172.3 404.8,189.5 387.8,189.5" fill="url(#k175)"/>
<polygon points="268.9,189.5 285.9,189.5 285.9,206.6" fill="url(#k176)"/>
<polygon points="268.9,189.5 285.9,206.6 268.9,206.6" fill="url(#k177)"/>
<polygon points="285.9,189.5 302.9,189.5 285.9,206.6" fill="url(#k178)"/>
<polygon points="302.9,189.5 302.9,206.6 285.9,206.6" fill="url(#k179)"/>
<polygon points="302.9,189.5 319.8,189.5 319.8,206.6" fill="url(#k180)"/>
<polygon points="302.9,189.5 319.8,206.6 302.9,206.6" fill="url(#k181)"/>
<polygon points="319.8,189.5 336.8,189.5 319.8,206.6" fill="url(#k182)"/>
<polygon points="336.8,189.5 336.8,206.6 319.8,206.6" fill="url(#k183)"/>
<polygon points="336.8,189.5 353.8,189.5 353.8,206.6" fill="url(#k184)"/>
<polygon points="336.8,189.5 353.8,206.6 336.8,206.6" fill="url(#k185)"/>
<polygon points="353.8,189.5 370.8,189.5 353.8,206.6" fill="url(#k186)"/>
<polygon points="370.8,189.5 370.8,206.6 353.8,206.6" fill="url(#k187)"/>
<polygon points="370.8,189.5 387.8,189.5 387.8,206.6" fill="url(#k188)"/>
<polygon points="370.8,189.5 387.8,206.6 370.8,206.6" fill="url(#k189)"/>
<polygon points="387.8,189.5 404.8,189.5 387.8,206.6" fill="url(#k190)"/>
<polygon points="404.8,189.5 404.8,206.6 387.8,206.6" fill="url(#k191)"/>
<polygon points="268.9,206.6 285.9,206.6 268.9,223.8" fill="url(#k192)"/>
<polygon points="285.9,206.6 285.9,223.8 268.9,223.8" fill="url(#k193)"/>
<polygon points="285.9,206.6 302.9,206.6 302.9,223.8" fill="url(#k194)"/>
<polygon points="285.9,206.6 302.9,223.8 285.9,223.8" fill="url(#k195)"/>
<polygon points="302.9,206.6 319.8,206.6 302.9,223.8" fill="url(#k196)"/>
<polygon points="319.8,206.6 319.8,223.8 302.9,223.8" fill="url(#k197)"/>
<polygon points="319.8,206.6 336.8,206.6 336.8,223.8" fill="url(#k198)"/>
<polygon points="319.8,206.6 336.8,223.8 319.8,223.8" fill="url(#k199)"/>
<polygon points="336.8,206.6 353.8,206.6 336.8,223.8" fill="url(#k200)"/>
<polygon points="353.8,206.6 353.8,223.8 336.8,223.8" fill="url(#k201)"/>
<polygon points="353.8,206.6 370.8,206.6 370.8,223.8" fill="url(#k202)"/>
<polygon points="353.8,206.6 370.8,223.8 353.8,223.8" fill="url(#k203)"/>
<polygon points="370.8,206.6 387.8,206.6 370.8,223.8" fill="url(#k204)"/>
<polygon points="387.8,206.6 387.8,223.8 370.8,223.8" fill="url(#k205)"/>
<polygon points="387.8,206.6 404.8,206.6 404.8,223.8" fill="url(#k206)"/>
<polygon points="387.8,206.6 404.8,223.8 387.8,223.8" fill="url(#k207)"/>
<polygon points="268.9,223.8 285.9,223.8 285.9,240.9" fill="url(#k208)"/>
<polygon points="268.9,223.8 285.9,240.9 268.9,240.9" fill="url(#k209)"/>
<polygon points="285.9,223.8 302.9,223.8 285.9,240.9" fill="url(#k210)"/>
<polygon points="302.9,223.8 302.9,240.9 285.9,240.9" fill="url(#k211)"/>
<polygon points="302.9,223.8 319.8,223.8 319.8,240.9" fill="url(#k212)"/>
<polygon points="302.9,223.8 319.8,240.9 302.9,240.9" fill="url(#k213)"/>
<polygon points="319.8,223.8 336.8,223.8 319.8,240.9" fill="url(#k214)"/>
<polygon points="336.8,223.8 336.8,240.9 319.8,240.9" fill="url(#k215)"/>
<polygon points="336.8,223.8 353.8,223.8 353.8,240.9" fill="url(#k216)"/>
<polygon points="336.8,223.8 353.8,240.9 336.8,240.9" fill="url(#k217)"/>
<polygon points="353.8,223.8 370.8,223.8 353.8,240.9" fill="url(#k218)"/>
<polygon points="370.8,223.8 370.8,240.9 353.8,240.9" fill="url(#k219)"/>
<polygon points="370.8,223.8 387.8,223.8 387.8,240.9" fill="url(#k220)"/>
<polygon points="370.8,223.8 387.8,240.9 370.8,240.9" fill="url(#k221)"/>
<polygon points="387.8,223.8 404.8,223.8 387.8,240.9" fill="url(#k222)"/>
<polygon points="404.8,223.8 404.8,240.9 387.8,240.9" fill="url(#k223)"/>
<polygon points="268.9,240.9 285.9,240.9 268.9,258.1" fill="url(#k224)"/>
<polygon points="285.9,240.9 285.9,258.1 268.9,258.1" fill="url(#k225)"/>
<polygon points="285.9,240.9 302.9,240.9 302.9,258.1" fill="url(#k226)"/>
<polygon points="285.9,240.9 302.9,258.1 285.9,258.1" fill="url(#k227)"/>
<polygon points="302.9,240.9 319.8,240.9 302.9,258.1" fill="url(#k228)"/>
<polygon points="319.8,240.9 319.8,258.1 302.9,258.1" fill="url(#k229)"/>
<polygon points="319.8,240.9 336.8,240.9 336.8,258.1" fill="url(#k230)"/>
<polygon points="319.8,240.9 336.8,258.1 319.8,258.1" fill="url(#k231)"/>
<polygon points="336.8,240.9 353.8,240.9 336.8,258.1" fill="url(#k232)"/>
<polygon points="353.8,240.9 353.8,258.1 336.8,258.1" fill="url(#k233)"/>
<polygon points="353.8,240.9 370.8,240.9 370.8,258.1" fill="url(#k234)"/>
<polygon points="353.8,240.9 370.8,258.1 353.8,258.1" fill="url(#k235)"/>
<polygon points="370.8,240.9 387.8,240.9 370.8,258.1" fill="url(#k236)"/>
<polygon points="387.8,240.9 387.8,258.1 370.8,258.1" fill="url(#k237)"/>
<polygon points="387.8,240.9 404.8,240.9 404.8,258.1" fill="url(#k238)"/>
<polygon points="387.8,240.9 404.8,258.1 387.8,258.1" fill="url(#k239)"/>
<polygon points="268.9,258.1 285.9,258.1 285.9,275.2" fill="url(#k240)"/>
<polygon points="268.9,258.1 285.9,275.2 268.9,275.2" fill="url(#k241)"/>
<polygon points="285.9,258.1 302.9,258.1 285.9,275.2" fill="url(#k242)"/>
<polygon points="302.9,258.1 302.9,275.2 285.9,275.2" fill="url(#k243)"/>
<polygon points="302.9,258.1 319.8,258.1 319.8,275.2" fill="url(#k244)"/>
<polygon points="302.9,258.1 319.8,275.2 302.9,275.2" fill="url(#k245)"/>
<polygon points="319.8,258.1 336.8,258.1 319.8,275.2" fill="url(#k246)"/>
<polygon points="336.8,258.1 336.8,275.2 319.8,275.2" fill="url(#k247)"/>
<polygon points="336.8,258.1 353.8,258.1 353.8,275.2" fill="url(#k248)"/>
<polygon points="336.8,258.1 353.8,275.2 336.8,275.2" fill="url(#k249)"/>
<polygon points="353.8,258.1 370.8,258.1 353.8,275.2" fill="url(#k250)"/>
<polygon points="370.8,258.1 370.8,275.2 353.8,275.2" fill="url(#k251)"/>
<polygon points="370.8,258.1 387.8,258.1 387.8,275.2" fill="url(#k252)"/>
<polygon points="370.8,258.1 387.8,275.2 370.8,275.2" fill="url(#k253)"/>
<polygon points="387.8,258.1 404.8,258.1 387.8,275.2" fill="url(#k254)"/>
<polygon points="404.8,258.1 404.8,275.2 387.8,275.2" fill="url(#k255)"/>
<polygon points="268.9,275.2 285.9,275.2 268.9,292.4" fill="url(#k256)"/>
<polygon points="285.9,275.2 285.9,292.4 268.9,292.4" fill="url(#k257)"/>
<polygon points="285.9,275.2 302.9,275.2 302.9,292.4" fill="url(#k258)"/>
<polygon points="285.9,275.2 302.9,292.4 285.9,292.4" fill="url(#k259)"/>
<polygon points="302.9,275.2 319.8,275.2 302.9,292.4" fill="url(#k260)"/>
<polygon points="319.8,275.2 319.8,292.4 302.9,292.4" fill="url(#k261)"/>
<polygon points="319.8,275.2 336.8,275.2 336.8,292.4" fill="url(#k262)"/>
<polygon points="319.8,275.2 336.8,292.4 319.8,292.4" fill="url(#k263)"/>
<polygon points="336.8,275.2 353.8,275.2 336.8,292.4" fill="url(#k264)"/>
<polygon points="353.8,275.2 353.8,292.4 336.8,292.4" fill="url(#k265)"/>
<polygon points="353.8,275.2 370.8,275.2 370.8,292.4" fill="url(#k266)"/>
<polygon points="353.8,275.2 370.8,292.4 353.8,292.4" fill="url(#k267)"/>
<polygon points="370.8,275.2 387.8,275.2 370.8,292.4" fill="url(#k268)"/>
<polygon points="387.8,275.2 387.8,292.4 370.8,292.4" fill="url(#k269)"/>
<polygon points="387.8,275.2 404.8,275.2 404.8,292.4" fill="url(#k270)"/>
<polygon points="387.8,275.2 404.8,292.4 387.8,292.4" fill="url(#k271)"/>
<polygon points="268.9,292.4 285.9,292.4 285.9,309.6" fill="url(#k272)"/>
<polygon points="268.9,292.4 285.9,309.6 268.9,309.6" fill="url(#k273)"/>
<polygon points="285.9,292.4 302.9,292.4 285.9,309.6" fill="url(#k274)"/>
<polygon points="302.9,292.4 302.9,309.6 285.9,309.6" fill="url(#k275)"/>
<polygon points="302.9,292.4 319.8,292.4 319.8,309.6" fill="url(#k276)"/>
<polygon points="302.9,292.4 319.8,309.6 302.9,309.6" fill="url(#k277)"/>
<polygon points="319.8,292.4 336.8,292.4 319.8,309.6" fill="url(#k278)"/>
<polygon points="336.8,292.4 336.8,309.6 319.8,309.6" fill="url(#k279)"/>
<polygon points="336.8,292.4 353.8,292.4 353.8,309.6" fill="url(#k280)"/>
<polygon points="336.8,292.4 353.8,309.6 336.8,309.6" fill="url(#k281)"/>
<polygon points="353.8,292.4 370.8,292.4 353.8,309.6" fill="url(#k282)"/>
<polygon points="370.8,292.4 370.8,309.6 353.8,309.6" fill="url(#k283)"/>
<polygon points="370.8,292.4 387.8,292.4 387.8,309.6" fill="url(#k284)"/>
<polygon points="370.8,292.4 387.8,309.6 370.8,309.6" fill="url(#k285)"/>
<polygon points="387.8,292.4 404.8,292.4 387.8,309.6" fill="url(#k286)"/>
<polygon points="404.8,292.4 404.8,309.6 387.8,309.6" fill="url(#k287)"/>
<polygon points="268.9,309.6 285.9,309.6 268.9,326.7" fill="url(#k288)"/>
<polygon points="285.9,309.6 285.9,326.7 268.9,326.7" fill="url(#k289)"/>
<polygon points="285.9,309.6 302.9,309.6 302.9,326.7" fill="url(#k290)"/>
<polygon points="285.9,309.6 302.9,326.7 285.9,326.7" fill="url(#k291)"/>
<polygon points="302.9,309.6 319.8,309.6 302.9,326.7" fill="url(#k292)"/>
<polygon points="319.8,309.6 319.8,326.7 302.9,326.7" fill="url(#k293)"/>
<polygon points="319.8,309.6 336.8,309.6 336.8,326.7" fill="url(#k294)"/>
<polygon points="319.8,309.6 336.8,326.7 319.8,326.7" fill="url(#k295)"/>
<polygon points="336.8,309.6 353.8,309.6 336.8,326.7" fill="url(#k296)"/>
<polygon points="353.8,309.6 353.8,326.7 336.8,326.7" fill="url(#k297)"/>
<polygon points="353.8,309.6 370.8,309.6 370.8,326.7" fill="url(#k298)"/>
<polygon points="353.8,309.6 370.8,326.7 353.8,326.7" fill="url(#k299)"/>
<polygon points="370.8,309.6 387.8,309.6 370.8,326.7" fill="url(#k300)"/>
<polygon points="387.8,309.6 387.8,326.7 370.8,326.7" fill="url(#k301)"/>
<polygon points="387.8,309.6 404.8,309.6 404.8,326.7" fill="url(#k302)"/>
<polygon points="387.8,309.6 404.8,326.7 387.8,326.7" fill="url(#k303)"/>
<polygon points="268.9,326.7 285.9,326.7 285.9,343.9" fill="url(#k304)"/>
<polygon points="268.9,326.7 285.9,343.9 268.9,343.9" fill="url(#k305)"/>
<polygon points="285.9,326.7 302.9,326.7 285.9,343.9" fill="url(#k306)"/>
<polygon points="302.9,326.7 302.9,343.9 285.9,343.9" fill="url(#k307)"/>
<polygon points="302.9,326.7 319.8,326.7 319.8,343.9" fill="url(#k308)"/>
<polygon points="302.9,326.7 319.8,343.9 302.9,343.9" fill="url(#k309)"/>
<polygon points="319.8,326.7 336.8,326.7 319.8,343.9" fill="url(#k310)"/>
<polygon points="336.8,326.7 336.8,343.9 319.8,343.9" fill="url(#k311)"/>
<polygon points="336.8,326.7 353.8,326.7 353.8,343.9" fill="url(#k312)"/>
<polygon points="336.8,326.7 353.8,343.9 336.8,343.9" fill="url(#k313)"/>
<polygon points="353.8,326.7 370.8,326.7 353.8,343.9" fill="url(#k314)"/>
<polygon points="370.8,326.7 370.8,343.9 353.8,343.9" fill="url(#k315)"/>
<polygon points="370.8,326.7 387.8,326.7 387.8,343.9" fill="url(#k316)"/>
<polygon points="370.8,326.7 387.8,343.9 370.8,343.9" fill="url(#k317)"/>
<polygon points="387.8,326.7 404.8,326.7 387.8,343.9" fill="url(#k318)"/>
<polygon points="404.8,326.7 404.8,343.9 387.8,343.9" fill="url(#k319)"/>
<polygon points="268.9,343.9 285.9,343.9 268.9,361.0" fill="url(#k320)"/>
<polygon points="285.9,343.9 285.9,361.0 268.9,361.0" fill="url(#k321)"/>
<polygon points="285.9,343.9 302.9,343.9 302.9,361.0" fill="url(#k322)"/>
<polygon points="285.9,343.9 302.9,361.0 285.9,361.0" fill="url(#k323)"/>
<polygon points="302.9,343.9 319.8,343.9 302.9,361.0" fill="url(#k324)"/>
<polygon points="319.8,343.9 319.8,361.0 302.9,361.0" fill="url(#k325)"/>
<polygon points="319.8,343.9 336.8,343.9 336.8,361.0" fill="url(#k326)"/>
<polygon points="319.8,343.9 336.8,361.0 319.8,361.0" fill="url(#k327)"/>
<polygon points="336.8,343.9 353.8,343.9 336.8,361.0" fill="url(#k328)"/>
<polygon points="353.8,343.9 353.8,361.0 336.8,361.0" fill="url(#k329)"/>
<polygon points="353.8,343.9 370.8,343.9 370.8,361.0" fill="url(#k330)"/>
<polygon points="353.8,343.9 370.8,361.0 353.8,361.0" fill="url(#k331)"/>
<polygon points="370.8,343.9 387.8,343.9 370.8,361.0" fill="url(#k332)"/>
<polygon points="387.8,343.9 387.8,361.0 370.8,361.0" fill="url(#k333)"/>
<polygon points="387.8,343.9 404.8,343.9 404.8,361.0" fill="url(#k334)"/>
<polygon points="387.8,343.9 404.8,361.0 387.8,361.0" fill="url(#k335)"/>
<polygon points="268.9,361.0 285.9,361.0 285.9,378.2" fill="url(#k336)"/>
<polygon points="268.9,361.0 285.9,378.2 268.9,378.2" fill="url(#k337)"/>
<polygon points="285.9,361.0 302.9,361.0 285.9,378.2" fill="url(#k338)"/>
<polygon points="302.9,361.0 302.9,378.2 285.9,378.2" fill="url(#k339)"/>
<polygon points="302.9,361.0 319.8,361.0 319.8,378.2" fill="url(#k340)"/>
<polygon points="302.9,361.0 319.8,378.2 302.9,378.2" fill="url(#k341)"/>
<polygon points="319.8,361.0 336.8,361.0 319.8,378.2" fill="url(#k342)"/>
<polygon points="336.8,361.0 336.8,378.2 319.8,378.2" fill="url(#k343)"/>
<polygon points="336.8,361.0 353.8,361.0 353.8,378.2" fill="url(#k344)"/>
<polygon points="336.8,361.0 353.8,378.2 336.8,378.2" fill="url(#k345)"/>
<polygon points="353.8,361.0 370.8,361.0 353.8,378.2" fill="url(#k346)"/>
<polygon points="370.8,361.0 370.8,378.2 353.8,378.2" fill="url(#k347)"/>
<polygon points="370.8,361.0 387.8,361.0 387.8,378.2" fill="url(#k348)"/>
<polygon points="370.8,361.0 387.8,378.2 370.8,378.2" fill="url(#k349)"/>
<polygon points="387.8,361.0 404.8,361.0 387.8,378.2" fill="url(#k350)"/>
<polygon points="404.8,361.0 404.8,378.2 387.8,378.2" fill="url(#k351)"/>
</g>
<g clip-path="url(#kcm)">
<polygon points="145.6,0.7 163.4,0.7 145.6,21.7" fill="url(#k352)"/>
<polygon points="163.4,0.7 163.4,21.7 145.6,21.7" fill="url(#k353)"/>
<polygon points="163.4,0.7 181.3,0.7 181.3,21.7" fill="url(#k354)"/>
<polygon points="163.4,0.7 181.3,21.7 163.4,21.7" fill="url(#k355)"/>
<polygon points="181.3,0.7 199.1,0.7 181.3,21.7" fill="url(#k356)"/>
<polygon points="199.1,0.7 199.1,21.7 181.3,21.7" fill="url(#k357)"/>
<polygon points="199.1,0.7 216.9,0.7 216.9,21.7" fill="url(#k358)"/>
<polygon points="199.1,0.7 216.9,21.7 199.1,21.7" fill="url(#k359)"/>
<polygon points="216.9,0.7 234.8,0.7 216.9,21.7" fill="url(#k360)"/>
<polygon points="234.8,0.7 234.8,21.7 216.9,21.7" fill="url(#k361)"/>
<polygon points="234.8,0.7 252.6,0.7 252.6,21.7" fill="url(#k362)"/>
<polygon points="234.8,0.7 252.6,21.7 234.8,21.7" fill="url(#k363)"/>
<polygon points="252.6,0.7 270.5,0.7 252.6,21.7" fill="url(#k364)"/>
<polygon points="270.5,0.7 270.5,21.7 252.6,21.7" fill="url(#k365)"/>
<polygon points="145.6,21.7 163.4,21.7 163.4,42.6" fill="url(#k366)"/>
<polygon points="145.6,21.7 163.4,42.6 145.6,42.6" fill="url(#k367)"/>
<polygon points="163.4,21.7 181.3,21.7 163.4,42.6" fill="url(#k368)"/>
<polygon points="181.3,21.7 181.3,42.6 163.4,42.6" fill="url(#k369)"/>
<polygon points="181.3,21.7 199.1,21.7 199.1,42.6" fill="url(#k370)"/>
<polygon points="181.3,21.7 199.1,42.6 181.3,42.6" fill="url(#k371)"/>
<polygon points="199.1,21.7 216.9,21.7 199.1,42.6" fill="url(#k372)"/>
<polygon points="216.9,21.7 216.9,42.6 199.1,42.6" fill="url(#k373)"/>
<polygon points="216.9,21.7 234.8,21.7 234.8,42.6" fill="url(#k374)"/>
<polygon points="216.9,21.7 234.8,42.6 216.9,42.6" fill="url(#k375)"/>
<polygon points="234.8,21.7 252.6,21.7 234.8,42.6" fill="url(#k376)"/>
<polygon points="252.6,21.7 252.6,42.6 234.8,42.6" fill="url(#k377)"/>
<polygon points="252.6,21.7 270.5,21.7 270.5,42.6" fill="url(#k378)"/>
<polygon points="252.6,21.7 270.5,42.6 252.6,42.6" fill="url(#k379)"/>
<polygon points="145.6,42.6 163.4,42.6 145.6,63.6" fill="url(#k380)"/>
<polygon points="163.4,42.6 163.4,63.6 145.6,63.6" fill="url(#k381)"/>
<polygon points="163.4,42.6 181.3,42.6 181.3,63.6" fill="url(#k382)"/>
<polygon points="163.4,42.6 181.3,63.6 163.4,63.6" fill="url(#k383)"/>
<polygon points="181.3,42.6 199.1,42.6 181.3,63.6" fill="url(#k384)"/>
<polygon points="199.1,42.6 199.1,63.6 181.3,63.6" fill="url(#k385)"/>
<polygon points="199.1,42.6 216.9,42.6 216.9,63.6" fill="url(#k386)"/>
<polygon points="199.1,42.6 216.9,63.6 199.1,63.6" fill="url(#k387)"/>
<polygon points="216.9,42.6 234.8,42.6 216.9,63.6" fill="url(#k388)"/>
<polygon points="234.8,42.6 234.8,63.6 216.9,63.6" fill="url(#k389)"/>
<polygon points="234.8,42.6 252.6,42.6 252.6,63.6" fill="url(#k390)"/>
<polygon points="234.8,42.6 252.6,63.6 234.8,63.6" fill="url(#k391)"/>
<polygon points="252.6,42.6 270.5,42.6 252.6,63.6" fill="url(#k392)"/>
<polygon points="270.5,42.6 270.5,63.6 252.6,63.6" fill="url(#k393)"/>
<polygon points="145.6,63.6 163.4,63.6 163.4,84.6" fill="url(#k394)"/>
<polygon points="145.6,63.6 163.4,84.6 145.6,84.6" fill="url(#k395)"/>
<polygon points="163.4,63.6 181.3,63.6 163.4,84.6" fill="url(#k396)"/>
<polygon points="181.3,63.6 181.3,84.6 163.4,84.6" fill="url(#k397)"/>
<polygon points="181.3,63.6 199.1,63.6 199.1,84.6" fill="url(#k398)"/>
<polygon points="181.3,63.6 199.1,84.6 181.3,84.6" fill="url(#k399)"/>
<polygon points="199.1,63.6 216.9,63.6 199.1,84.6" fill="url(#k400)"/>
<polygon points="216.9,63.6 216.9,84.6 199.1,84.6" fill="url(#k401)"/>
<polygon points="216.9,63.6 234.8,63.6 234.8,84.6" fill="url(#k402)"/>
<polygon points="216.9,63.6 234.8,84.6 216.9,84.6" fill="url(#k403)"/>
<polygon points="234.8,63.6 252.6,63.6 234.8,84.6" fill="url(#k404)"/>
<polygon points="252.6,63.6 252.6,84.6 234.8,84.6" fill="url(#k405)"/>
<polygon points="252.6,63.6 270.5,63.6 270.5,84.6" fill="url(#k406)"/>
<polygon points="252.6,63.6 270.5,84.6 252.6,84.6" fill="url(#k407)"/>
<polygon points="145.6,84.6 163.4,84.6 145.6,105.6" fill="url(#k408)"/>
<polygon points="163.4,84.6 163.4,105.6 145.6,105.6" fill="url(#k409)"/>
<polygon points="163.4,84.6 181.3,84.6 181.3,105.6" fill="url(#k410)"/>
<polygon points="163.4,84.6 181.3,105.6 163.4,105.6" fill="url(#k411)"/>
<polygon points="181.3,84.6 199.1,84.6 181.3,105.6" fill="url(#k412)"/>
<polygon points="199.1,84.6 199.1,105.6 181.3,105.6" fill="url(#k413)"/>
<polygon points="199.1,84.6 216.9,84.6 216.9,105.6" fill="url(#k414)"/>
<polygon points="199.1,84.6 216.9,105.6 199.1,105.6" fill="url(#k415)"/>
<polygon points="216.9,84.6 234.8,84.6 216.9,105.6" fill="url(#k416)"/>
<polygon points="234.8,84.6 234.8,105.6 216.9,105.6" fill="url(#k417)"/>
<polygon points="234.8,84.6 252.6,84.6 252.6,105.6" fill="url(#k418)"/>
<polygon points="234.8,84.6 252.6,105.6 234.8,105.6" fill="url(#k419)"/>
<polygon points="252.6,84.6 270.5,84.6 252.6,105.6" fill="url(#k420)"/>
<polygon points="270.5,84.6 270.5,105.6 252.6,105.6" fill="url(#k421)"/>
<polygon points="145.6,105.6 163.4,105.6 163.4,126.5" fill="url(#k422)"/>
<polygon points="145.6,105.6 163.4,126.5 145.6,126.5" fill="url(#k423)"/>
<polygon points="163.4,105.6 181.3,105.6 163.4,126.5" fill="url(#k424)"/>
<polygon points="181.3,105.6 181.3,126.5 163.4,126.5" fill="url(#k425)"/>
<polygon points="181.3,105.6 199.1,105.6 199.1,126.5" fill="url(#k426)"/>
<polygon points="181.3,105.6 199.1,126.5 181.3,126.5" fill="url(#k427)"/>
<polygon points="199.1,105.6 216.9,105.6 199.1,126.5" fill="url(#k428)"/>
<polygon points="216.9,105.6 216.9,126.5 199.1,126.5" fill="url(#k429)"/>
<polygon points="216.9,105.6 234.8,105.6 234.8,126.5" fill="url(#k430)"/>
<polygon points="216.9,105.6 234.8,126.5 216.9,126.5" fill="url(#k431)"/>
<polygon points="234.8,105.6 252.6,105.6 234.8,126.5" fill="url(#k432)"/>
<polygon points="252.6,105.6 252.6,126.5 234.8,126.5" fill="url(#k433)"/>
<polygon points="252.6,105.6 270.5,105.6 270.5,126.5" fill="url(#k434)"/>
<polygon points="252.6,105.6 270.5,126.5 252.6,126.5" fill="url(#k435)"/>
<polygon points="145.6,126.5 163.4,126.5 145.6,147.5" fill="url(#k436)"/>
<polygon points="163.4,126.5 163.4,147.5 145.6,147.5" fill="url(#k437)"/>
<polygon points="163.4,126.5 181.3,126.5 181.3,147.5" fill="url(#k438)"/>
<polygon points="163.4,126.5 181.3,147.5 163.4,147.5" fill="url(#k439)"/>
<polygon points="181.3,126.5 199.1,126.5 181.3,147.5" fill="url(#k440)"/>
<polygon points="199.1,126.5 199.1,147.5 181.3,147.5" fill="url(#k441)"/>
<polygon points="199.1,126.5 216.9,126.5 216.9,147.5" fill="url(#k442)"/>
<polygon points="199.1,126.5 216.9,147.5 199.1,147.5" fill="url(#k443)"/>
<polygon points="216.9,126.5 234.8,126.5 216.9,147.5" fill="url(#k444)"/>
<polygon points="234.8,126.5 234.8,147.5 216.9,147.5" fill="url(#k445)"/>
<polygon points="234.8,126.5 252.6,126.5 252.6,147.5" fill="url(#k446)"/>
<polygon points="234.8,126.5 252.6,147.5 234.8,147.5" fill="url(#k447)"/>
<polygon points="252.6,126.5 270.5,126.5 252.6,147.5" fill="url(#k448)"/>
<polygon points="270.5,126.5 270.5,147.5 252.6,147.5" fill="url(#k449)"/>
<polygon points="145.6,147.5 163.4,147.5 163.4,168.5" fill="url(#k450)"/>
<polygon points="145.6,147.5 163.4,168.5 145.6,168.5" fill="url(#k451)"/>
<polygon points="163.4,147.5 181.3,147.5 163.4,168.5" fill="url(#k452)"/>
<polygon points="181.3,147.5 181.3,168.5 163.4,168.5" fill="url(#k453)"/>
<polygon points="181.3,147.5 199.1,147.5 199.1,168.5" fill="url(#k454)"/>
<polygon points="181.3,147.5 199.1,168.5 181.3,168.5" fill="url(#k455)"/>
<polygon points="199.1,147.5 216.9,147.5 199.1,168.5" fill="url(#k456)"/>
<polygon points="216.9,147.5 216.9,168.5 199.1,168.5" fill="url(#k457)"/>
<polygon points="216.9,147.5 234.8,147.5 234.8,168.5" fill="url(#k458)"/>
<polygon points="216.9,147.5 234.8,168.5 216.9,168.5" fill="url(#k459)"/>
<polygon points="234.8,147.5 252.6,147.5 234.8,168.5" fill="url(#k460)"/>
<polygon points="252.6,147.5 252.6,168.5 234.8,168.5" fill="url(#k461)"/>
<polygon points="252.6,147.5 270.5,147.5 270.5,168.5" fill="url(#k462)"/>
<polygon points="252.6,147.5 270.5,168.5 252.6,168.5" fill="url(#k463)"/>
<polygon points="145.6,168.5 163.4,168.5 145.6,189.5" fill="url(#k464)"/>
<polygon points="163.4,168.5 163.4,189.5 145.6,189.5" fill="url(#k465)"/>
<polygon points="163.4,168.5 181.3,168.5 181.3,189.5" fill="url(#k466)"/>
<polygon points="163.4,168.5 181.3,189.5 163.4,189.5" fill="url(#k467)"/>
<polygon points="181.3,168.5 199.1,168.5 181.3,189.5" fill="url(#k468)"/>
<polygon points="199.1,168.5 199.1,189.5 181.3,189.5" fill="url(#k469)"/>
<polygon points="199.1,168.5 216.9,168.5 216.9,189.5" fill="url(#k470)"/>
<polygon points="199.1,168.5 216.9,189.5 199.1,189.5" fill="url(#k471)"/>
<polygon points="216.9,168.5 234.8,168.5 216.9,189.5" fill="url(#k472)"/>
<polygon points="234.8,168.5 234.8,189.5 216.9,189.5" fill="url(#k473)"/>
<polygon points="234.8,168.5 252.6,168.5 252.6,189.5" fill="url(#k474)"/>
<polygon points="234.8,168.5 252.6,189.5 234.8,189.5" fill="url(#k475)"/>
<polygon points="252.6,168.5 270.5,168.5 252.6,189.5" fill="url(#k476)"/>
<polygon points="270.5,168.5 270.5,189.5 252.6,189.5" fill="url(#k477)"/>
<polygon points="145.6,189.5 163.4,189.5 163.4,210.4" fill="url(#k478)"/>
<polygon points="145.6,189.5 163.4,210.4 145.6,210.4" fill="url(#k479)"/>
<polygon points="163.4,189.5 181.3,189.5 163.4,210.4" fill="url(#k480)"/>
<polygon points="181.3,189.5 181.3,210.4 163.4,210.4" fill="url(#k481)"/>
<polygon points="181.3,189.5 199.1,189.5 199.1,210.4" fill="url(#k482)"/>
<polygon points="181.3,189.5 199.1,210.4 181.3,210.4" fill="url(#k483)"/>
<polygon points="199.1,189.5 216.9,189.5 199.1,210.4" fill="url(#k484)"/>
<polygon points="216.9,189.5 216.9,210.4 199.1,210.4" fill="url(#k485)"/>
<polygon points="216.9,189.5 234.8,189.5 234.8,210.4" fill="url(#k486)"/>
<polygon points="216.9,189.5 234.8,210.4 216.9,210.4" fill="url(#k487)"/>
<polygon points="234.8,189.5 252.6,189.5 234.8,210.4" fill="url(#k488)"/>
<polygon points="252.6,189.5 252.6,210.4 234.8,210.4" fill="url(#k489)"/>
<polygon points="252.6,189.5 270.5,189.5 270.5,210.4" fill="url(#k490)"/>
<polygon points="252.6,189.5 270.5,210.4 252.6,210.4" fill="url(#k491)"/>
<polygon points="145.6,210.4 163.4,210.4 145.6,231.4" fill="url(#k492)"/>
<polygon points="163.4,210.4 163.4,231.4 145.6,231.4" fill="url(#k493)"/>
<polygon points="163.4,210.4 181.3,210.4 181.3,231.4" fill="url(#k494)"/>
<polygon points="163.4,210.4 181.3,231.4 163.4,231.4" fill="url(#k495)"/>
<polygon points="181.3,210.4 199.1,210.4 181.3,231.4" fill="url(#k496)"/>
<polygon points="199.1,210.4 199.1,231.4 181.3,231.4" fill="url(#k497)"/>
<polygon points="199.1,210.4 216.9,210.4 216.9,231.4" fill="url(#k498)"/>
<polygon points="199.1,210.4 216.9,231.4 199.1,231.4" fill="url(#k499)"/>
<polygon points="216.9,210.4 234.8,210.4 216.9,231.4" fill="url(#k500)"/>
<polygon points="234.8,210.4 234.8,231.4 216.9,231.4" fill="url(#k501)"/>
<polygon points="234.8,210.4 252.6,210.4 252.6,231.4" fill="url(#k502)"/>
<polygon points="234.8,210.4 252.6,231.4 234.8,231.4" fill="url(#k503)"/>
<polygon points="252.6,210.4 270.5,210.4 252.6,231.4" fill="url(#k504)"/>
<polygon points="270.5,210.4 270.5,231.4 252.6,231.4" fill="url(#k505)"/>
<polygon points="145.6,231.4 163.4,231.4 163.4,252.4" fill="url(#k506)"/>
<polygon points="145.6,231.4 163.4,252.4 145.6,252.4" fill="url(#k507)"/>
<polygon points="163.4,231.4 181.3,231.4 163.4,252.4" fill="url(#k508)"/>
<polygon points="181.3,231.4 181.3,252.4 163.4,252.4" fill="url(#k509)"/>
<polygon points="181.3,231.4 199.1,231.4 199.1,252.4" fill="url(#k510)"/>
<polygon points="181.3,231.4 199.1,252.4 181.3,252.4" fill="url(#k511)"/>
<polygon points="199.1,231.4 216.9,231.4 199.1,252.4" fill="url(#k512)"/>
<polygon points="216.9,231.4 216.9,252.4 199.1,252.4" fill="url(#k513)"/>
<polygon points="216.9,231.4 234.8,231.4 234.8,252.4" fill="url(#k514)"/>
<polygon points="216.9,231.4 234.8,252.4 216.9,252.4" fill="url(#k515)"/>
<polygon points="234.8,231.4 252.6,231.4 234.8,252.4" fill="url(#k516)"/>
<polygon points="252.6,231.4 252.6,252.4 234.8,252.4" fill="url(#k517)"/>
<polygon points="252.6,231.4 270.5,231.4 270.5,252.4" fill="url(#k518)"/>
<polygon points="252.6,231.4 270.5,252.4 252.6,252.4" fill="url(#k519)"/>
<polygon points="145.6,252.4 163.4,252.4 145.6,273.3" fill="url(#k520)"/>
<polygon points="163.4,252.4 163.4,273.3 145.6,273.3" fill="url(#k521)"/>
<polygon points="163.4,252.4 181.3,252.4 181.3,273.3" fill="url(#k522)"/>
<polygon points="163.4,252.4 181.3,273.3 163.4,273.3" fill="url(#k523)"/>
<polygon points="181.3,252.4 199.1,252.4 181.3,273.3" fill="url(#k524)"/>
<polygon points="199.1,252.4 199.1,273.3 181.3,273.3" fill="url(#k525)"/>
<polygon points="199.1,252.4 216.9,252.4 216.9,273.3" fill="url(#k526)"/>
<polygon points="199.1,252.4 216.9,273.3 199.1,273.3" fill="url(#k527)"/>
<polygon points="216.9,252.4 234.8,252.4 216.9,273.3" fill="url(#k528)"/>
<polygon points="234.8,252.4 234.8,273.3 216.9,273.3" fill="url(#k529)"/>
<polygon points="234.8,252.4 252.6,252.4 252.6,273.3" fill="url(#k530)"/>
<polygon points="234.8,252.4 252.6,273.3 234.8,273.3" fill="url(#k531)"/>
<polygon points="252.6,252.4 270.5,252.4 252.6,273.3" fill="url(#k532)"/>
<polygon points="270.5,252.4 270.5,273.3 252.6,273.3" fill="url(#k533)"/>
<polygon points="145.6,273.3 163.4,273.3 163.4,294.3" fill="url(#k534)"/>
<polygon points="145.6,273.3 163.4,294.3 145.6,294.3" fill="url(#k535)"/>
<polygon points="163.4,273.3 181.3,273.3 163.4,294.3" fill="url(#k536)"/>
<polygon points="181.3,273.3 181.3,294.3 163.4,294.3" fill="url(#k537)"/>
<polygon points="181.3,273.3 199.1,273.3 199.1,294.3" fill="url(#k538)"/>
<polygon points="181.3,273.3 199.1,294.3 181.3,294.3" fill="url(#k539)"/>
<polygon points="199.1,273.3 216.9,273.3 199.1,294.3" fill="url(#k540)"/>
<polygon points="216.9,273.3 216.9,294.3 199.1,294.3" fill="url(#k541)"/>
<polygon points="216.9,273.3 234.8,273.3 234.8,294.3" fill="url(#k542)"/>
<polygon points="216.9,273.3 234.8,294.3 216.9,294.3" fill="url(#k543)"/>
<polygon points="234.8,273.3 252.6,273.3 234.8,294.3" fill="url(#k544)"/>
<polygon points="252.6,273.3 252.6,294.3 234.8,294.3" fill="url(#k545)"/>
<polygon points="252.6,273.3 270.5,273.3 270.5,294.3" fill="url(#k546)"/>
<polygon points="252.6,273.3 270.5,294.3 252.6,294.3" fill="url(#k547)"/>
<polygon points="145.6,294.3 163.4,294.3 145.6,315.3" fill="url(#k548)"/>
<polygon points="163.4,294.3 163.4,315.3 145.6,315.3" fill="url(#k549)"/>
<polygon points="163.4,294.3 181.3,294.3 181.3,315.3" fill="url(#k550)"/>
<polygon points="163.4,294.3 181.3,315.3 163.4,315.3" fill="url(#k551)"/>
<polygon points="181.3,294.3 199.1,294.3 181.3,315.3" fill="url(#k552)"/>
<polygon points="199.1,294.3 199.1,315.3 181.3,315.3" fill="url(#k553)"/>
<polygon points="199.1,294.3 216.9,294.3 216.9,315.3" fill="url(#k554)"/>
<polygon points="199.1,294.3 216.9,315.3 199.1,315.3" fill="url(#k555)"/>
<polygon points="216.9,294.3 234.8,294.3 216.9,315.3" fill="url(#k556)"/>
<polygon points="234.8,294.3 234.8,315.3 216.9,315.3" fill="url(#k557)"/>
<polygon points="234.8,294.3 252.6,294.3 252.6,315.3" fill="url(#k558)"/>
<polygon points="234.8,294.3 252.6,315.3 234.8,315.3" fill="url(#k559)"/>
<polygon points="252.6,294.3 270.5,294.3 252.6,315.3" fill="url(#k560)"/>
<polygon points="270.5,294.3 270.5,315.3 252.6,315.3" fill="url(#k561)"/>
<polygon points="145.6,315.3 163.4,315.3 163.4,336.3" fill="url(#k562)"/>
<polygon points="145.6,315.3 163.4,336.3 145.6,336.3" fill="url(#k563)"/>
<polygon points="163.4,315.3 181.3,315.3 163.4,336.3" fill="url(#k564)"/>
<polygon points="181.3,315.3 181.3,336.3 163.4,336.3" fill="url(#k565)"/>
<polygon points="181.3,315.3 199.1,315.3 199.1,336.3" fill="url(#k566)"/>
<polygon points="181.3,315.3 199.1,336.3 181.3,336.3" fill="url(#k567)"/>
<polygon points="199.1,315.3 216.9,315.3 199.1,336.3" fill="url(#k568)"/>
<polygon points="216.9,315.3 216.9,336.3 199.1,336.3" fill="url(#k569)"/>
<polygon points="216.9,315.3 234.8,315.3 234.8,336.3" fill="url(#k570)"/>
<polygon points="216.9,315.3 234.8,336.3 216.9,336.3" fill="url(#k571)"/>
<polygon points="234.8,315.3 252.6,315.3 234.8,336.3" fill="url(#k572)"/>
<polygon points="252.6,315.3 252.6,336.3 234.8,336.3" fill="url(#k573)"/>
<polygon points="252.6,315.3 270.5,315.3 270.5,336.3" fill="url(#k574)"/>
<polygon points="252.6,315.3 270.5,336.3 252.6,336.3" fill="url(#k575)"/>
<polygon points="145.6,336.3 163.4,336.3 145.6,357.2" fill="url(#k576)"/>
<polygon points="163.4,336.3 163.4,357.2 145.6,357.2" fill="url(#k577)"/>
<polygon points="163.4,336.3 181.3,336.3 181.3,357.2" fill="url(#k578)"/>
<polygon points="163.4,336.3 181.3,357.2 163.4,357.2" fill="url(#k579)"/>
<polygon points="181.3,336.3 199.1,336.3 181.3,357.2" fill="url(#k580)"/>
<polygon points="199.1,336.3 199.1,357.2 181.3,357.2" fill="url(#k581)"/>
<polygon points="199.1,336.3 216.9,336.3 216.9,357.2" fill="url(#k582)"/>
<polygon points="199.1,336.3 216.9,357.2 199.1,357.2" fill="url(#k583)"/>
<polygon points="216.9,336.3 234.8,336.3 216.9,357.2" fill="url(#k584)"/>
<polygon points="234.8,336.3 234.8,357.2 216.9,357.2" fill="url(#k585)"/>
<polygon points="234.8,336.3 252.6,336.3 252.6,357.2" fill="url(#k586)"/>
<polygon points="234.8,336.3 252.6,357.2 234.8,357.2" fill="url(#k587)"/>
<polygon points="252.6,336.3 270.5,336.3 252.6,357.2" fill="url(#k588)"/>
<polygon points="270.5,336.3 270.5,357.2 252.6,357.2" fill="url(#k589)"/>
<polygon points="145.6,357.2 163.4,357.2 163.4,378.2" fill="url(#k590)"/>
<polygon points="145.6,357.2 163.4,378.2 145.6,378.2" fill="url(#k591)"/>
<polygon points="163.4,357.2 181.3,357.2 163.4,378.2" fill="url(#k592)"/>
<polygon points="181.3,357.2 181.3,378.2 163.4,378.2" fill="url(#k593)"/>
<polygon points="181.3,357.2 199.1,357.2 199.1,378.2" fill="url(#k594)"/>
<polygon points="181.3,357.2 199.1,378.2 181.3,378.2" fill="url(#k595)"/>
<polygon points="199.1,357.2 216.9,357.2 199.1,378.2" fill="url(#k596)"/>
<polygon points="216.9,357.2 216.9,378.2 199.1,378.2" fill="url(#k597)"/>
<polygon points="216.9,357.2 234.8,357.2 234.8,378.2" fill="url(#k598)"/>
<polygon points="216.9,357.2 234.8,378.2 216.9,378.2" fill="url(#k599)"/>
<polygon points="234.8,357.2 252.6,357.2 234.8,378.2" fill="url(#k600)"/>
<polygon points="252.6,357.2 252.6,378.2 234.8,378.2" fill="url(#k601)"/>
<polygon points="252.6,357.2 270.5,357.2 270.5,378.2" fill="url(#k602)"/>
<polygon points="252.6,357.2 270.5,378.2 252.6,378.2" fill="url(#k603)"/>
</g>
<g clip-path="url(#kcl)">
<polygon points="0.2,0.7 18.7,0.7 0.2,18.7" fill="url(#k604)"/>
<polygon points="18.7,0.7 18.7,18.7 0.2,18.7" fill="url(#k605)"/>
<polygon points="18.7,0.7 37.2,0.7 37.2,18.7" fill="url(#k606)"/>
<polygon points="18.7,0.7 37.2,18.7 18.7,18.7" fill="url(#k607)"/>
<polygon points="37.2,0.7 55.7,0.7 37.2,18.7" fill="url(#k608)"/>
<polygon points="55.7,0.7 55.7,18.7 37.2,18.7" fill="url(#k609)"/>
<polygon points="55.7,0.7 74.2,0.7 74.2,18.7" fill="url(#k610)"/>
<polygon points="55.7,0.7 74.2,18.7 55.7,18.7" fill="url(#k611)"/>
<polygon points="74.2,0.7 92.7,0.7 74.2,18.7" fill="url(#k612)"/>
<polygon points="92.7,0.7 92.7,18.7 74.2,18.7" fill="url(#k613)"/>
<polygon points="92.7,0.7 111.1,0.7 111.1,18.7" fill="url(#k614)"/>
<polygon points="92.7,0.7 111.1,18.7 92.7,18.7" fill="url(#k615)"/>
<polygon points="111.1,0.7 129.6,0.7 111.1,18.7" fill="url(#k616)"/>
<polygon points="129.6,0.7 129.6,18.7 111.1,18.7" fill="url(#k617)"/>
<polygon points="129.6,0.7 148.1,0.7 148.1,18.7" fill="url(#k618)"/>
<polygon points="129.6,0.7 148.1,18.7 129.6,18.7" fill="url(#k619)"/>
<polygon points="148.1,0.7 166.6,0.7 148.1,18.7" fill="url(#k620)"/>
<polygon points="166.6,0.7 166.6,18.7 148.1,18.7" fill="url(#k621)"/>
<polygon points="166.6,0.7 185.1,0.7 185.1,18.7" fill="url(#k622)"/>
<polygon points="166.6,0.7 185.1,18.7 166.6,18.7" fill="url(#k623)"/>
<polygon points="0.2,18.7 18.7,18.7 18.7,36.7" fill="url(#k624)"/>
<polygon points="0.2,18.7 18.7,36.7 0.2,36.7" fill="url(#k625)"/>
<polygon points="18.7,18.7 37.2,18.7 18.7,36.7" fill="url(#k626)"/>
<polygon points="37.2,18.7 37.2,36.7 18.7,36.7" fill="url(#k627)"/>
<polygon points="37.2,18.7 55.7,18.7 55.7,36.7" fill="url(#k628)"/>
<polygon points="37.2,18.7 55.7,36.7 37.2,36.7" fill="url(#k629)"/>
<polygon points="55.7,18.7 74.2,18.7 55.7,36.7" fill="url(#k630)"/>
<polygon points="74.2,18.7 74.2,36.7 55.7,36.7" fill="url(#k631)"/>
<polygon points="74.2,18.7 92.7,18.7 92.7,36.7" fill="url(#k632)"/>
<polygon points="74.2,18.7 92.7,36.7 74.2,36.7" fill="url(#k633)"/>
<polygon points="92.7,18.7 111.1,18.7 92.7,36.7" fill="url(#k634)"/>
<polygon points="111.1,18.7 111.1,36.7 92.7,36.7" fill="url(#k635)"/>
<polygon points="111.1,18.7 129.6,18.7 129.6,36.7" fill="url(#k636)"/>
<polygon points="111.1,18.7 129.6,36.7 111.1,36.7" fill="url(#k637)"/>
<polygon points="129.6,18.7 148.1,18.7 129.6,36.7" fill="url(#k638)"/>
<polygon points="148.1,18.7 148.1,36.7 129.6,36.7" fill="url(#k639)"/>
<polygon points="148.1,18.7 166.6,18.7 166.6,36.7" fill="url(#k640)"/>
<polygon points="148.1,18.7 166.6,36.7 148.1,36.7" fill="url(#k641)"/>
<polygon points="166.6,18.7 185.1,18.7 166.6,36.7" fill="url(#k642)"/>
<polygon points="185.1,18.7 185.1,36.7 166.6,36.7" fill="url(#k643)"/>
<polygon points="0.2,36.7 18.7,36.7 0.2,54.6" fill="url(#k644)"/>
<polygon points="18.7,36.7 18.7,54.6 0.2,54.6" fill="url(#k645)"/>
<polygon points="18.7,36.7 37.2,36.7 37.2,54.6" fill="url(#k646)"/>
<polygon points="18.7,36.7 37.2,54.6 18.7,54.6" fill="url(#k647)"/>
<polygon points="37.2,36.7 55.7,36.7 37.2,54.6" fill="url(#k648)"/>
<polygon points="55.7,36.7 55.7,54.6 37.2,54.6" fill="url(#k649)"/>
<polygon points="55.7,36.7 74.2,36.7 74.2,54.6" fill="url(#k650)"/>
<polygon points="55.7,36.7 74.2,54.6 55.7,54.6" fill="url(#k651)"/>
<polygon points="74.2,36.7 92.7,36.7 74.2,54.6" fill="url(#k652)"/>
<polygon points="92.7,36.7 92.7,54.6 74.2,54.6" fill="url(#k653)"/>
<polygon points="92.7,36.7 111.1,36.7 111.1,54.6" fill="url(#k654)"/>
<polygon points="92.7,36.7 111.1,54.6 92.7,54.6" fill="url(#k655)"/>
<polygon points="111.1,36.7 129.6,36.7 111.1,54.6" fill="url(#k656)"/>
<polygon points="129.6,36.7 129.6,54.6 111.1,54.6" fill="url(#k657)"/>
<polygon points="129.6,36.7 148.1,36.7 148.1,54.6" fill="url(#k658)"/>
<polygon points="129.6,36.7 148.1,54.6 129.6,54.6" fill="url(#k659)"/>
<polygon points="148.1,36.7 166.6,36.7 148.1,54.6" fill="url(#k660)"/>
<polygon points="166.6,36.7 166.6,54.6 148.1,54.6" fill="url(#k661)"/>
<polygon points="166.6,36.7 185.1,36.7 185.1,54.6" fill="url(#k662)"/>
<polygon points="166.6,36.7 185.1,54.6 166.6,54.6" fill="url(#k663)"/>
<polygon points="0.2,54.6 18.7,54.6 18.7,72.6" fill="url(#k664)"/>
<polygon points="0.2,54.6 18.7,72.6 0.2,72.6" fill="url(#k665)"/>
<polygon points="18.7,54.6 37.2,54.6 18.7,72.6" fill="url(#k666)"/>
<polygon points="37.2,54.6 37.2,72.6 18.7,72.6" fill="url(#k667)"/>
<polygon points="37.2,54.6 55.7,54.6 55.7,72.6" fill="url(#k668)"/>
<polygon points="37.2,54.6 55.7,72.6 37.2,72.6" fill="url(#k669)"/>
<polygon points="55.7,54.6 74.2,54.6 55.7,72.6" fill="url(#k670)"/>
<polygon points="74.2,54.6 74.2,72.6 55.7,72.6" fill="url(#k671)"/>
<polygon points="74.2,54.6 92.7,54.6 92.7,72.6" fill="url(#k672)"/>
<polygon points="74.2,54.6 92.7,72.6 74.2,72.6" fill="url(#k673)"/>
<polygon points="92.7,54.6 111.1,54.6 92.7,72.6" fill="url(#k674)"/>
<polygon points="111.1,54.6 111.1,72.6 92.7,72.6" fill="url(#k675)"/>
<polygon points="111.1,54.6 129.6,54.6 129.6,72.6" fill="url(#k676)"/>
<polygon points="111.1,54.6 129.6,72.6 111.1,72.6" fill="url(#k677)"/>
<polygon points="129.6,54.6 148.1,54.6 129.6,72.6" fill="url(#k678)"/>
<polygon points="148.1,54.6 148.1,72.6 129.6,72.6" fill="url(#k679)"/>
<polygon points="148.1,54.6 166.6,54.6 166.6,72.6" fill="url(#k680)"/>
<polygon points="148.1,54.6 166.6,72.6 148.1,72.6" fill="url(#k681)"/>
<polygon points="166.6,54.6 185.1,54.6 166.6,72.6" fill="url(#k682)"/>
<polygon points="185.1,54.6 185.1,72.6 166.6,72.6" fill="url(#k683)"/>
<polygon points="0.2,72.6 18.7,72.6 0.2,90.6" fill="url(#k684)"/>
<polygon points="18.7,72.6 18.7,90.6 0.2,90.6" fill="url(#k685)"/>
<polygon points="18.7,72.6 37.2,72.6 37.2,90.6" fill="url(#k686)"/>
<polygon points="18.7,72.6 37.2,90.6 18.7,90.6" fill="url(#k687)"/>
<polygon points="37.2,72.6 55.7,72.6 37.2,90.6" fill="url(#k688)"/>
<polygon points="55.7,72.6 55.7,90.6 37.2,90.6" fill="url(#k689)"/>
<polygon points="55.7,72.6 74.2,72.6 74.2,90.6" fill="url(#k690)"/>
<polygon points="55.7,72.6 74.2,90.6 55.7,90.6" fill="url(#k691)"/>
<polygon points="74.2,72.6 92.7,72.6 74.2,90.6" fill="url(#k692)"/>
<polygon points="92.7,72.6 92.7,90.6 74.2,90.6" fill="url(#k693)"/>
<polygon points="92.7,72.6 111.1,72.6 111.1,90.6" fill="url(#k694)"/>
<polygon points="92.7,72.6 111.1,90.6 92.7,90.6" fill="url(#k695)"/>
<polygon points="111.1,72.6 129.6,72.6 111.1,90.6" fill="url(#k696)"/>
<polygon points="129.6,72.6 129.6,90.6 111.1,90.6" fill="url(#k697)"/>
<polygon points="129.6,72.6 148.1,72.6 148.1,90.6" fill="url(#k698)"/>
<polygon points="129.6,72.6 148.1,90.6 129.6,90.6" fill="url(#k699)"/>
<polygon points="148.1,72.6 166.6,72.6 148.1,90.6" fill="url(#k700)"/>
<polygon points="166.6,72.6 166.6,90.6 148.1,90.6" fill="url(#k701)"/>
<polygon points="166.6,72.6 185.1,72.6 185.1,90.6" fill="url(#k702)"/>
<polygon points="166.6,72.6 185.1,90.6 166.6,90.6" fill="url(#k703)"/>
<polygon points="0.2,90.6 18.7,90.6 18.7,108.6" fill="url(#k704)"/>
<polygon points="0.2,90.6 18.7,108.6 0.2,108.6" fill="url(#k705)"/>
<polygon points="18.7,90.6 37.2,90.6 18.7,108.6" fill="url(#k706)"/>
<polygon points="37.2,90.6 37.2,108.6 18.7,108.6" fill="url(#k707)"/>
<polygon points="37.2,90.6 55.7,90.6 55.7,108.6" fill="url(#k708)"/>
<polygon points="37.2,90.6 55.7,108.6 37.2,108.6" fill="url(#k709)"/>
<polygon points="55.7,90.6 74.2,90.6 55.7,108.6" fill="url(#k710)"/>
<polygon points="74.2,90.6 74.2,108.6 55.7,108.6" fill="url(#k711)"/>
<polygon points="74.2,90.6 92.7,90.6 92.7,108.6" fill="url(#k712)"/>
<polygon points="74.2,90.6 92.7,108.6 74.2,108.6" fill="url(#k713)"/>
<polygon points="92.7,90.6 111.1,90.6 92.7,108.6" fill="url(#k714)"/>
<polygon points="111.1,90.6 111.1,108.6 92.7,108.6" fill="url(#k715)"/>
<polygon points="111.1,90.6 129.6,90.6 129.6,108.6" fill="url(#k716)"/>
<polygon points="111.1,90.6 129.6,108.6 111.1,108.6" fill="url(#k717)"/>
<polygon points="129.6,90.6 148.1,90.6 129.6,108.6" fill="url(#k718)"/>
<polygon points="148.1,90.6 148.1,108.6 129.6,108.6" fill="url(#k719)"/>
<polygon points="148.1,90.6 166.6,90.6 166.6,108.6" fill="url(#k720)"/>
<polygon points="148.1,90.6 166.6,108.6 148.1,108.6" fill="url(#k721)"/>
<polygon points="166.6,90.6 185.1,90.6 166.6,108.6" fill="url(#k722)"/>
<polygon points="185.1,90.6 185.1,108.6 166.6,108.6" fill="url(#k723)"/>
<polygon points="0.2,108.6 18.7,108.6 0.2,126.5" fill="url(#k724)"/>
<polygon points="18.7,108.6 18.7,126.5 0.2,126.5" fill="url(#k725)"/>
<polygon points="18.7,108.6 37.2,108.6 37.2,126.5" fill="url(#k726)"/>
<polygon points="18.7,108.6 37.2,126.5 18.7,126.5" fill="url(#k727)"/>
<polygon points="37.2,108.6 55.7,108.6 37.2,126.5" fill="url(#k728)"/>
<polygon points="55.7,108.6 55.7,126.5 37.2,126.5" fill="url(#k729)"/>
<polygon points="55.7,108.6 74.2,108.6 74.2,126.5" fill="url(#k730)"/>
<polygon points="55.7,108.6 74.2,126.5 55.7,126.5" fill="url(#k731)"/>
<polygon points="74.2,108.6 92.7,108.6 74.2,126.5" fill="url(#k732)"/>
<polygon points="92.7,108.6 92.7,126.5 74.2,126.5" fill="url(#k733)"/>
<polygon points="92.7,108.6 111.1,108.6 111.1,126.5" fill="url(#k734)"/>
<polygon points="92.7,108.6 111.1,126.5 92.7,126.5" fill="url(#k735)"/>
<polygon points="111.1,108.6 129.6,108.6 111.1,126.5" fill="url(#k736)"/>
<polygon points="129.6,108.6 129.6,126.5 111.1,126.5" fill="url(#k737)"/>
<polygon points="129.6,108.6 148.1,108.6 148.1,126.5" fill="url(#k738)"/>
<polygon points="129.6,108.6 148.1,126.5 129.6,126.5" fill="url(#k739)"/>
<polygon points="148.1,108.6 166.6,108.6 148.1,126.5" fill="url(#k740)"/>
<polygon points="166.6,108.6 166.6,126.5 148.1,126.5" fill="url(#k741)"/>
<polygon points="166.6,108.6 185.1,108.6 185.1,126.5" fill="url(#k742)"/>
<polygon points="166.6,108.6 185.1,126.5 166.6,126.5" fill="url(#k743)"/>
<polygon points="0.2,126.5 18.7,126.5 18.7,144.5" fill="url(#k744)"/>
<polygon points="0.2,126.5 18.7,144.5 0.2,144.5" fill="url(#k745)"/>
<polygon points="18.7,126.5 37.2,126.5 18.7,144.5" fill="url(#k746)"/>
<polygon points="37.2,126.5 37.2,144.5 18.7,144.5" fill="url(#k747)"/>
<polygon points="37.2,126.5 55.7,126.5 55.7,144.5" fill="url(#k748)"/>
<polygon points="37.2,126.5 55.7,144.5 37.2,144.5" fill="url(#k749)"/>
<polygon points="55.7,126.5 74.2,126.5 55.7,144.5" fill="url(#k750)"/>
<polygon points="74.2,126.5 74.2,144.5 55.7,144.5" fill="url(#k751)"/>
<polygon points="74.2,126.5 92.7,126.5 92.7,144.5" fill="url(#k752)"/>
<polygon points="74.2,126.5 92.7,144.5 74.2,144.5" fill="url(#k753)"/>
<polygon points="92.7,126.5 111.1,126.5 92.7,144.5" fill="url(#k754)"/>
<polygon points="111.1,126.5 111.1,144.5 92.7,144.5" fill="url(#k755)"/>
<polygon points="111.1,126.5 129.6,126.5 129.6,144.5" fill="url(#k756)"/>
<polygon points="111.1,126.5 129.6,144.5 111.1,144.5" fill="url(#k757)"/>
<polygon points="129.6,126.5 148.1,126.5 129.6,144.5" fill="url(#k758)"/>
<polygon points="148.1,126.5 148.1,144.5 129.6,144.5" fill="url(#k759)"/>
<polygon points="148.1,126.5 166.6,126.5 166.6,144.5" fill="url(#k760)"/>
<polygon points="148.1,126.5 166.6,144.5 148.1,144.5" fill="url(#k761)"/>
<polygon points="166.6,126.5 185.1,126.5 166.6,144.5" fill="url(#k762)"/>
<polygon points="185.1,126.5 185.1,144.5 166.6,144.5" fill="url(#k763)"/>
<polygon points="0.2,144.5 18.7,144.5 0.2,162.5" fill="url(#k764)"/>
<polygon points="18.7,144.5 18.7,162.5 0.2,162.5" fill="url(#k765)"/>
<polygon points="18.7,144.5 37.2,144.5 37.2,162.5" fill="url(#k766)"/>
<polygon points="18.7,144.5 37.2,162.5 18.7,162.5" fill="url(#k767)"/>
<polygon points="37.2,144.5 55.7,144.5 37.2,162.5" fill="url(#k768)"/>
<polygon points="55.7,144.5 55.7,162.5 37.2,162.5" fill="url(#k769)"/>
<polygon points="55.7,144.5 74.2,144.5 74.2,162.5" fill="url(#k770)"/>
<polygon points="55.7,144.5 74.2,162.5 55.7,162.5" fill="url(#k771)"/>
<polygon points="74.2,144.5 92.7,144.5 74.2,162.5" fill="url(#k772)"/>
<polygon points="92.7,144.5 92.7,162.5 74.2,162.5" fill="url(#k773)"/>
<polygon points="92.7,144.5 111.1,144.5 111.1,162.5" fill="url(#k774)"/>
<polygon points="92.7,144.5 111.1,162.5 92.7,162.5" fill="url(#k775)"/>
<polygon points="111.1,144.5 129.6,144.5 111.1,162.5" fill="url(#k776)"/>
<polygon points="129.6,144.5 129.6,162.5 111.1,162.5" fill="url(#k777)"/>
<polygon points="129.6,144.5 148.1,144.5 148.1,162.5" fill="url(#k778)"/>
<polygon points="129.6,144.5 148.1,162.5 129.6,162.5" fill="url(#k779)"/>
<polygon points="148.1,144.5 166.6,144.5 148.1,162.5" fill="url(#k780)"/>
<polygon points="166.6,144.5 166.6,162.5 148.1,162.5" fill="url(#k781)"/>
<polygon points="166.6,144.5 185.1,144.5 185.1,162.5" fill="url(#k782)"/>
<polygon points="166.6,144.5 185.1,162.5 166.6,162.5" fill="url(#k783)"/>
<polygon points="0.2,162.5 18.7,162.5 18.7,180.5" fill="url(#k784)"/>
<polygon points="0.2,162.5 18.7,180.5 0.2,180.5" fill="url(#k785)"/>
<polygon points="18.7,162.5 37.2,162.5 18.7,180.5" fill="url(#k786)"/>
<polygon points="37.2,162.5 37.2,180.5 18.7,180.5" fill="url(#k787)"/>
<polygon points="37.2,162.5 55.7,162.5 55.7,180.5" fill="url(#k788)"/>
<polygon points="37.2,162.5 55.7,180.5 37.2,180.5" fill="url(#k789)"/>
<polygon points="55.7,162.5 74.2,162.5 55.7,180.5" fill="url(#k790)"/>
<polygon points="74.2,162.5 74.2,180.5 55.7,180.5" fill="url(#k791)"/>
<polygon points="74.2,162.5 92.7,162.5 92.7,180.5" fill="url(#k792)"/>
<polygon points="74.2,162.5 92.7,180.5 74.2,180.5" fill="url(#k793)"/>
<polygon points="92.7,162.5 111.1,162.5 92.7,180.5" fill="url(#k794)"/>
<polygon points="111.1,162.5 111.1,180.5 92.7,180.5" fill="url(#k795)"/>
<polygon points="111.1,162.5 129.6,162.5 129.6,180.5" fill="url(#k796)"/>
<polygon points="111.1,162.5 129.6,180.5 111.1,180.5" fill="url(#k797)"/>
<polygon points="129.6,162.5 148.1,162.5 129.6,180.5" fill="url(#k798)"/>
<polygon points="148.1,162.5 148.1,180.5 129.6,180.5" fill="url(#k799)"/>
<polygon points="148.1,162.5 166.6,162.5 166.6,180.5" fill="url(#k800)"/>
<polygon points="148.1,162.5 166.6,180.5 148.1,180.5" fill="url(#k801)"/>
<polygon points="166.6,162.5 185.1,162.5 166.6,180.5" fill="url(#k802)"/>
<polygon points="185.1,162.5 185.1,180.5 166.6,180.5" fill="url(#k803)"/>
<polygon points="0.2,180.5 18.7,180.5 0.2,198.4" fill="url(#k804)"/>
<polygon points="18.7,180.5 18.7,198.4 0.2,198.4" fill="url(#k805)"/>
<polygon points="18.7,180.5 37.2,180.5 37.2,198.4" fill="url(#k806)"/>
<polygon points="18.7,180.5 37.2,198.4 18.7,198.4" fill="url(#k807)"/>
<polygon points="37.2,180.5 55.7,180.5 37.2,198.4" fill="url(#k808)"/>
<polygon points="55.7,180.5 55.7,198.4 37.2,198.4" fill="url(#k809)"/>
<polygon points="55.7,180.5 74.2,180.5 74.2,198.4" fill="url(#k810)"/>
<polygon points="55.7,180.5 74.2,198.4 55.7,198.4" fill="url(#k811)"/>
<polygon points="74.2,180.5 92.7,180.5 74.2,198.4" fill="url(#k812)"/>
<polygon points="92.7,180.5 92.7,198.4 74.2,198.4" fill="url(#k813)"/>
<polygon points="92.7,180.5 111.1,180.5 111.1,198.4" fill="url(#k814)"/>
<polygon points="92.7,180.5 111.1,198.4 92.7,198.4" fill="url(#k815)"/>
<polygon points="111.1,180.5 129.6,180.5 111.1,198.4" fill="url(#k816)"/>
<polygon points="129.6,180.5 129.6,198.4 111.1,198.4" fill="url(#k817)"/>
<polygon points="129.6,180.5 148.1,180.5 148.1,198.4" fill="url(#k818)"/>
<polygon points="129.6,180.5 148.1,198.4 129.6,198.4" fill="url(#k819)"/>
<polygon points="148.1,180.5 166.6,180.5 148.1,198.4" fill="url(#k820)"/>
<polygon points="166.6,180.5 166.6,198.4 148.1,198.4" fill="url(#k821)"/>
<polygon points="166.6,180.5 185.1,180.5 185.1,198.4" fill="url(#k822)"/>
<polygon points="166.6,180.5 185.1,198.4 166.6,198.4" fill="url(#k823)"/>
<polygon points="0.2,198.4 18.7,198.4 18.7,216.4" fill="url(#k824)"/>
<polygon points="0.2,198.4 18.7,216.4 0.2,216.4" fill="url(#k825)"/>
<polygon points="18.7,198.4 37.2,198.4 18.7,216.4" fill="url(#k826)"/>
<polygon points="37.2,198.4 37.2,216.4 18.7,216.4" fill="url(#k827)"/>
<polygon points="37.2,198.4 55.7,198.4 55.7,216.4" fill="url(#k828)"/>
<polygon points="37.2,198.4 55.7,216.4 37.2,216.4" fill="url(#k829)"/>
<polygon points="55.7,198.4 74.2,198.4 55.7,216.4" fill="url(#k830)"/>
<polygon points="74.2,198.4 74.2,216.4 55.7,216.4" fill="url(#k831)"/>
<polygon points="74.2,198.4 92.7,198.4 92.7,216.4" fill="url(#k832)"/>
<polygon points="74.2,198.4 92.7,216.4 74.2,216.4" fill="url(#k833)"/>
<polygon points="92.7,198.4 111.1,198.4 92.7,216.4" fill="url(#k834)"/>
<polygon points="111.1,198.4 111.1,216.4 92.7,216.4" fill="url(#k835)"/>
<polygon points="111.1,198.4 129.6,198.4 129.6,216.4" fill="url(#k836)"/>
<polygon points="111.1,198.4 129.6,216.4 111.1,216.4" fill="url(#k837)"/>
<polygon points="129.6,198.4 148.1,198.4 129.6,216.4" fill="url(#k838)"/>
<polygon points="148.1,198.4 148.1,216.4 129.6,216.4" fill="url(#k839)"/>
<polygon points="148.1,198.4 166.6,198.4 166.6,216.4" fill="url(#k840)"/>
<polygon points="148.1,198.4 166.6,216.4 148.1,216.4" fill="url(#k841)"/>
<polygon points="166.6,198.4 185.1,198.4 166.6,216.4" fill="url(#k842)"/>
<polygon points="185.1,198.4 185.1,216.4 166.6,216.4" fill="url(#k843)"/>
<polygon points="0.2,216.4 18.7,216.4 0.2,234.4" fill="url(#k844)"/>
<polygon points="18.7,216.4 18.7,234.4 0.2,234.4" fill="url(#k845)"/>
<polygon points="18.7,216.4 37.2,216.4 37.2,234.4" fill="url(#k846)"/>
<polygon points="18.7,216.4 37.2,234.4 18.7,234.4" fill="url(#k847)"/>
<polygon points="37.2,216.4 55.7,216.4 37.2,234.4" fill="url(#k848)"/>
<polygon points="55.7,216.4 55.7,234.4 37.2,234.4" fill="url(#k849)"/>
<polygon points="55.7,216.4 74.2,216.4 74.2,234.4" fill="url(#k850)"/>
<polygon points="55.7,216.4 74.2,234.4 55.7,234.4" fill="url(#k851)"/>
<polygon points="74.2,216.4 92.7,216.4 74.2,234.4" fill="url(#k852)"/>
<polygon points="92.7,216.4 92.7,234.4 74.2,234.4" fill="url(#k853)"/>
<polygon points="92.7,216.4 111.1,216.4 111.1,234.4" fill="url(#k854)"/>
<polygon points="92.7,216.4 111.1,234.4 92.7,234.4" fill="url(#k855)"/>
<polygon points="111.1,216.4 129.6,216.4 111.1,234.4" fill="url(#k856)"/>
<polygon points="129.6,216.4 129.6,234.4 111.1,234.4" fill="url(#k857)"/>
<polygon points="129.6,216.4 148.1,216.4 148.1,234.4" fill="url(#k858)"/>
<polygon points="129.6,216.4 148.1,234.4 129.6,234.4" fill="url(#k859)"/>
<polygon points="148.1,216.4 166.6,216.4 148.1,234.4" fill="url(#k860)"/>
<polygon points="166.6,216.4 166.6,234.4 148.1,234.4" fill="url(#k861)"/>
<polygon points="166.6,216.4 185.1,216.4 185.1,234.4" fill="url(#k862)"/>
<polygon points="166.6,216.4 185.1,234.4 166.6,234.4" fill="url(#k863)"/>
<polygon points="0.2,234.4 18.7,234.4 18.7,252.4" fill="url(#k864)"/>
<polygon points="0.2,234.4 18.7,252.4 0.2,252.4" fill="url(#k865)"/>
<polygon points="18.7,234.4 37.2,234.4 18.7,252.4" fill="url(#k866)"/>
<polygon points="37.2,234.4 37.2,252.4 18.7,252.4" fill="url(#k867)"/>
<polygon points="37.2,234.4 55.7,234.4 55.7,252.4" fill="url(#k868)"/>
<polygon points="37.2,234.4 55.7,252.4 37.2,252.4" fill="url(#k869)"/>
<polygon points="55.7,234.4 74.2,234.4 55.7,252.4" fill="url(#k870)"/>
<polygon points="74.2,234.4 74.2,252.4 55.7,252.4" fill="url(#k871)"/>
<polygon points="74.2,234.4 92.7,234.4 92.7,252.4" fill="url(#k872)"/>
<polygon points="74.2,234.4 92.7,252.4 74.2,252.4" fill="url(#k873)"/>
<polygon points="92.7,234.4 111.1,234.4 92.7,252.4" fill="url(#k874)"/>
<polygon points="111.1,234.4 111.1,252.4 92.7,252.4" fill="url(#k875)"/>
<polygon points="111.1,234.4 129.6,234.4 129.6,252.4" fill="url(#k876)"/>
<polygon points="111.1,234.4 129.6,252.4 111.1,252.4" fill="url(#k877)"/>
<polygon points="129.6,234.4 148.1,234.4 129.6,252.4" fill="url(#k878)"/>
<polygon points="148.1,234.4 148.1,252.4 129.6,252.4" fill="url(#k879)"/>
<polygon points="148.1,234.4 166.6,234.4 166.6,252.4" fill="url(#k880)"/>
<polygon points="148.1,234.4 166.6,252.4 148.1,252.4" fill="url(#k881)"/>
<polygon points="166.6,234.4 185.1,234.4 166.6,252.4" fill="url(#k882)"/>
<polygon points="185.1,234.4 185.1,252.4 166.6,252.4" fill="url(#k883)"/>
<polygon points="0.2,252.4 18.7,252.4 0.2,270.3" fill="url(#k884)"/>
<polygon points="18.7,252.4 18.7,270.3 0.2,270.3" fill="url(#k885)"/>
<polygon points="18.7,252.4 37.2,252.4 37.2,270.3" fill="url(#k886)"/>
<polygon points="18.7,252.4 37.2,270.3 18.7,270.3" fill="url(#k887)"/>
<polygon points="37.2,252.4 55.7,252.4 37.2,270.3" fill="url(#k888)"/>
<polygon points="55.7,252.4 55.7,270.3 37.2,270.3" fill="url(#k889)"/>
<polygon points="55.7,252.4 74.2,252.4 74.2,270.3" fill="url(#k890)"/>
<polygon points="55.7,252.4 74.2,270.3 55.7,270.3" fill="url(#k891)"/>
<polygon points="74.2,252.4 92.7,252.4 74.2,270.3" fill="url(#k892)"/>
<polygon points="92.7,252.4 92.7,270.3 74.2,270.3" fill="url(#k893)"/>
<polygon points="92.7,252.4 111.1,252.4 111.1,270.3" fill="url(#k894)"/>
<polygon points="92.7,252.4 111.1,270.3 92.7,270.3" fill="url(#k895)"/>
<polygon points="111.1,252.4 129.6,252.4 111.1,270.3" fill="url(#k896)"/>
<polygon points="129.6,252.4 129.6,270.3 111.1,270.3" fill="url(#k897)"/>
<polygon points="129.6,252.4 148.1,252.4 148.1,270.3" fill="url(#k898)"/>
<polygon points="129.6,252.4 148.1,270.3 129.6,270.3" fill="url(#k899)"/>
<polygon points="148.1,252.4 166.6,252.4 148.1,270.3" fill="url(#k900)"/>
<polygon points="166.6,252.4 166.6,270.3 148.1,270.3" fill="url(#k901)"/>
<polygon points="166.6,252.4 185.1,252.4 185.1,270.3" fill="url(#k902)"/>
<polygon points="166.6,252.4 185.1,270.3 166.6,270.3" fill="url(#k903)"/>
<polygon points="0.2,270.3 18.7,270.3 18.7,288.3" fill="url(#k904)"/>
<polygon points="0.2,270.3 18.7,288.3 0.2,288.3" fill="url(#k905)"/>
<polygon points="18.7,270.3 37.2,270.3 18.7,288.3" fill="url(#k906)"/>
<polygon points="37.2,270.3 37.2,288.3 18.7,288.3" fill="url(#k907)"/>
<polygon points="37.2,270.3 55.7,270.3 55.7,288.3" fill="url(#k908)"/>
<polygon points="37.2,270.3 55.7,288.3 37.2,288.3" fill="url(#k909)"/>
<polygon points="55.7,270.3 74.2,270.3 55.7,288.3" fill="url(#k910)"/>
<polygon points="74.2,270.3 74.2,288.3 55.7,288.3" fill="url(#k911)"/>
<polygon points="74.2,270.3 92.7,270.3 92.7,288.3" fill="url(#k912)"/>
<polygon points="74.2,270.3 92.7,288.3 74.2,288.3" fill="url(#k913)"/>
<polygon points="92.7,270.3 111.1,270.3 92.7,288.3" fill="url(#k914)"/>
<polygon points="111.1,270.3 111.1,288.3 92.7,288.3" fill="url(#k915)"/>
<polygon points="111.1,270.3 129.6,270.3 129.6,288.3" fill="url(#k916)"/>
<polygon points="111.1,270.3 129.6,288.3 111.1,288.3" fill="url(#k917)"/>
<polygon points="129.6,270.3 148.1,270.3 129.6,288.3" fill="url(#k918)"/>
<polygon points="148.1,270.3 148.1,288.3 129.6,288.3" fill="url(#k919)"/>
<polygon points="148.1,270.3 166.6,270.3 166.6,288.3" fill="url(#k920)"/>
<polygon points="148.1,270.3 166.6,288.3 148.1,288.3" fill="url(#k921)"/>
<polygon points="166.6,270.3 185.1,270.3 166.6,288.3" fill="url(#k922)"/>
<polygon points="185.1,270.3 185.1,288.3 166.6,288.3" fill="url(#k923)"/>
<polygon points="0.2,288.3 18.7,288.3 0.2,306.3" fill="url(#k924)"/>
<polygon points="18.7,288.3 18.7,306.3 0.2,306.3" fill="url(#k925)"/>
<polygon points="18.7,288.3 37.2,288.3 37.2,306.3" fill="url(#k926)"/>
<polygon points="18.7,288.3 37.2,306.3 18.7,306.3" fill="url(#k927)"/>
<polygon points="37.2,288.3 55.7,288.3 37.2,306.3" fill="url(#k928)"/>
<polygon points="55.7,288.3 55.7,306.3 37.2,306.3" fill="url(#k929)"/>
<polygon points="55.7,288.3 74.2,288.3 74.2,306.3" fill="url(#k930)"/>
<polygon points="55.7,288.3 74.2,306.3 55.7,306.3" fill="url(#k931)"/>
<polygon points="74.2,288.3 92.7,288.3 74.2,306.3" fill="url(#k932)"/>
<polygon points="92.7,288.3 92.7,306.3 74.2,306.3" fill="url(#k933)"/>
<polygon points="92.7,288.3 111.1,288.3 111.1,306.3" fill="url(#k934)"/>
<polygon points="92.7,288.3 111.1,306.3 92.7,306.3" fill="url(#k935)"/>
<polygon points="111.1,288.3 129.6,288.3 111.1,306.3" fill="url(#k936)"/>
<polygon points="129.6,288.3 129.6,306.3 111.1,306.3" fill="url(#k937)"/>
<polygon points="129.6,288.3 148.1,288.3 148.1,306.3" fill="url(#k938)"/>
<polygon points="129.6,288.3 148.1,306.3 129.6,306.3" fill="url(#k939)"/>
<polygon points="148.1,288.3 166.6,288.3 148.1,306.3" fill="url(#k940)"/>
<polygon points="166.6,288.3 166.6,306.3 148.1,306.3" fill="url(#k941)"/>
<polygon points="166.6,288.3 185.1,288.3 185.1,306.3" fill="url(#k942)"/>
<polygon points="166.6,288.3 185.1,306.3 166.6,306.3" fill="url(#k943)"/>
<polygon points="0.2,306.3 18.7,306.3 18.7,324.3" fill="url(#k944)"/>
<polygon points="0.2,306.3 18.7,324.3 0.2,324.3" fill="url(#k945)"/>
<polygon points="18.7,306.3 37.2,306.3 18.7,324.3" fill="url(#k946)"/>
<polygon points="37.2,306.3 37.2,324.3 18.7,324.3" fill="url(#k947)"/>
<polygon points="37.2,306.3 55.7,306.3 55.7,324.3" fill="url(#k948)"/>
<polygon points="37.2,306.3 55.7,324.3 37.2,324.3" fill="url(#k949)"/>
<polygon points="55.7,306.3 74.2,306.3 55.7,324.3" fill="url(#k950)"/>
<polygon points="74.2,306.3 74.2,324.3 55.7,324.3" fill="url(#k951)"/>
<polygon points="74.2,306.3 92.7,306.3 92.7,324.3" fill="url(#k952)"/>
<polygon points="74.2,306.3 92.7,324.3 74.2,324.3" fill="url(#k953)"/>
<polygon points="92.7,306.3 111.1,306.3 92.7,324.3" fill="url(#k954)"/>
<polygon points="111.1,306.3 111.1,324.3 92.7,324.3" fill="url(#k955)"/>
<polygon points="111.1,306.3 129.6,306.3 129.6,324.3" fill="url(#k956)"/>
<polygon points="111.1,306.3 129.6,324.3 111.1,324.3" fill="url(#k957)"/>
<polygon points="129.6,306.3 148.1,306.3 129.6,324.3" fill="url(#k958)"/>
<polygon points="148.1,306.3 148.1,324.3 129.6,324.3" fill="url(#k959)"/>
<polygon points="148.1,306.3 166.6,306.3 166.6,324.3" fill="url(#k960)"/>
<polygon points="148.1,306.3 166.6,324.3 148.1,324.3" fill="url(#k961)"/>
<polygon points="166.6,306.3 185.1,306.3 166.6,324.3" fill="url(#k962)"/>
<polygon points="185.1,306.3 185.1,324.3 166.6,324.3" fill="url(#k963)"/>
<polygon points="0.2,324.3 18.7,324.3 0.2,342.2" fill="url(#k964)"/>
<polygon points="18.7,324.3 18.7,342.2 0.2,342.2" fill="url(#k965)"/>
<polygon points="18.7,324.3 37.2,324.3 37.2,342.2" fill="url(#k966)"/>
<polygon points="18.7,324.3 37.2,342.2 18.7,342.2" fill="url(#k967)"/>
<polygon points="37.2,324.3 55.7,324.3 37.2,342.2" fill="url(#k968)"/>
<polygon points="55.7,324.3 55.7,342.2 37.2,342.2" fill="url(#k969)"/>
<polygon points="55.7,324.3 74.2,324.3 74.2,342.2" fill="url(#k970)"/>
<polygon points="55.7,324.3 74.2,342.2 55.7,342.2" fill="url(#k971)"/>
<polygon points="74.2,324.3 92.7,324.3 74.2,342.2" fill="url(#k972)"/>
<polygon points="92.7,324.3 92.7,342.2 74.2,342.2" fill="url(#k973)"/>
<polygon points="92.7,324.3 111.1,324.3 111.1,342.2" fill="url(#k974)"/>
<polygon points="92.7,324.3 111.1,342.2 92.7,342.2" fill="url(#k975)"/>
<polygon points="111.1,324.3 129.6,324.3 111.1,342.2" fill="url(#k976)"/>
<polygon points="129.6,324.3 129.6,342.2 111.1,342.2" fill="url(#k977)"/>
<polygon points="129.6,324.3 148.1,324.3 148.1,342.2" fill="url(#k978)"/>
<polygon points="129.6,324.3 148.1,342.2 129.6,342.2" fill="url(#k979)"/>
<polygon points="148.1,324.3 166.6,324.3 148.1,342.2" fill="url(#k980)"/>
<polygon points="166.6,324.3 166.6,342.2 148.1,342.2" fill="url(#k981)"/>
<polygon points="166.6,324.3 185.1,324.3 185.1,342.2" fill="url(#k982)"/>
<polygon points="166.6,324.3 185.1,342.2 166.6,342.2" fill="url(#k983)"/>
<polygon points="0.2,342.2 18.7,342.2 18.7,360.2" fill="url(#k984)"/>
<polygon points="0.2,342.2 18.7,360.2 0.2,360.2" fill="url(#k985)"/>
<polygon points="18.7,342.2 37.2,342.2 18.7,360.2" fill="url(#k986)"/>
<polygon points="37.2,342.2 37.2,360.2 18.7,360.2" fill="url(#k987)"/>
<polygon points="37.2,342.2 55.7,342.2 55.7,360.2" fill="url(#k988)"/>
<polygon points="37.2,342.2 55.7,360.2 37.2,360.2" fill="url(#k989)"/>
<polygon points="55.7,342.2 74.2,342.2 55.7,360.2" fill="url(#k990)"/>
<polygon points="74.2,342.2 74.2,360.2 55.7,360.2" fill="url(#k991)"/>
<polygon points="74.2,342.2 92.7,342.2 92.7,360.2" fill="url(#k992)"/>
<polygon points="74.2,342.2 92.7,360.2 74.2,360.2" fill="url(#k993)"/>
<polygon points="92.7,342.2 111.1,342.2 92.7,360.2" fill="url(#k994)"/>
<polygon points="111.1,342.2 111.1,360.2 92.7,360.2" fill="url(#k995)"/>
<polygon points="111.1,342.2 129.6,342.2 129.6,360.2" fill="url(#k996)"/>
<polygon points="111.1,342.2 129.6,360.2 111.1,360.2" fill="url(#k997)"/>
<polygon points="129.6,342.2 148.1,342.2 129.6,360.2" fill="url(#k998)"/>
<polygon points="148.1,342.2 148.1,360.2 129.6,360.2" fill="url(#k999)"/>
<polygon points="148.1,342.2 166.6,342.2 166.6,360.2" fill="url(#k1000)"/>
<polygon points="148.1,342.2 166.6,360.2 148.1,360.2" fill="url(#k1001)"/>
<polygon points="166.6,342.2 185.1,342.2 166.6,360.2" fill="url(#k1002)"/>
<polygon points="185.1,342.2 185.1,360.2 166.6,360.2" fill="url(#k1003)"/>
<polygon points="0.2,360.2 18.7,360.2 0.2,378.2" fill="url(#k1004)"/>
<polygon points="18.7,360.2 18.7,378.2 0.2,378.2" fill="url(#k1005)"/>
<polygon points="18.7,360.2 37.2,360.2 37.2,378.2" fill="url(#k1006)"/>
<polygon points="18.7,360.2 37.2,378.2 18.7,378.2" fill="url(#k1007)"/>
<polygon points="37.2,360.2 55.7,360.2 37.2,378.2" fill="url(#k1008)"/>
<polygon points="55.7,360.2 55.7,378.2 37.2,378.2" fill="url(#k1009)"/>
<polygon points="55.7,360.2 74.2,360.2 74.2,378.2" fill="url(#k1010)"/>
<polygon points="55.7,360.2 74.2,378.2 55.7,378.2" fill="url(#k1011)"/>
<polygon points="74.2,360.2 92.7,360.2 74.2,378.2" fill="url(#k1012)"/>
<polygon points="92.7,360.2 92.7,378.2 74.2,378.2" fill="url(#k1013)"/>
<polygon points="92.7,360.2 111.1,360.2 111.1,378.2" fill="url(#k1014)"/>
<polygon points="92.7,360.2 111.1,378.2 92.7,378.2" fill="url(#k1015)"/>
<polygon points="111.1,360.2 129.6,360.2 111.1,378.2" fill="url(#k1016)"/>
<polygon points="129.6,360.2 129.6,378.2 111.1,378.2" fill="url(#k1017)"/>
<polygon points="129.6,360.2 148.1,360.2 148.1,378.2" fill="url(#k1018)"/>
<polygon points="129.6,360.2 148.1,378.2 129.6,378.2" fill="url(#k1019)"/>
<polygon points="148.1,360.2 166.6,360.2 148.1,378.2" fill="url(#k1020)"/>
<polygon points="166.6,360.2 166.6,378.2 148.1,378.2" fill="url(#k1021)"/>
<polygon points="166.6,360.2 185.1,360.2 185.1,378.2" fill="url(#k1022)"/>
<polygon points="166.6,360.2 185.1,378.2 166.6,378.2" fill="url(#k1023)"/>
</g>
<g clip-path="url(#kcp)">
<polygon points="121.9,15.4 140.1,15.4 121.9,56.0" fill="url(#k1024)"/>
<polygon points="140.1,15.4 140.1,56.0 121.9,56.0" fill="url(#k1025)"/>
<polygon points="140.1,15.4 158.2,15.4 158.2,56.0" fill="url(#k1026)"/>
<polygon points="140.1,15.4 158.2,56.0 140.1,56.0" fill="url(#k1027)"/>
<polygon points="121.9,56.0 140.1,56.0 140.1,96.5" fill="url(#k1028)"/>
<polygon points="121.9,56.0 140.1,96.5 121.9,96.5" fill="url(#k1029)"/>
<polygon points="140.1,56.0 158.2,56.0 140.1,96.5" fill="url(#k1030)"/>
<polygon points="158.2,56.0 158.2,96.5 140.1,96.5" fill="url(#k1031)"/>
</g>
<g clip-path="url(#kcq)">
<polygon points="129.8,316.3 149.8,316.3 129.8,336.9" fill="url(#k1032)"/>
<polygon points="149.8,316.3 149.8,336.9 129.8,336.9" fill="url(#k1033)"/>
<polygon points="149.8,316.3 169.8,316.3 169.8,336.9" fill="url(#k1034)"/>
<polygon points="149.8,316.3 169.8,336.9 149.8,336.9" fill="url(#k1035)"/>
<polygon points="169.8,316.3 189.9,316.3 169.8,336.9" fill="url(#k1036)"/>
<polygon points="189.9,316.3 189.9,336.9 169.8,336.9" fill="url(#k1037)"/>
<polygon points="129.8,336.9 149.8,336.9 149.8,357.6" fill="url(#k1038)"/>
<polygon points="129.8,336.9 149.8,357.6 129.8,357.6" fill="url(#k1039)"/>
<polygon points="149.8,336.9 169.8,336.9 149.8,357.6" fill="url(#k1040)"/>
<polygon points="169.8,336.9 169.8,357.6 149.8,357.6" fill="url(#k1041)"/>
<polygon points="169.8,336.9 189.9,336.9 189.9,357.6" fill="url(#k1042)"/>
<polygon points="169.8,336.9 189.9,357.6 169.8,357.6" fill="url(#k1043)"/>
<polygon points="129.8,357.6 149.8,357.6 129.8,378.2" fill="url(#k1044)"/>
<polygon points="149.8,357.6 149.8,378.2 129.8,378.2" fill="url(#k1045)"/>
<polygon points="149.8,357.6 169.8,357.6 169.8,378.2" fill="url(#k1046)"/>
<polygon points="149.8,357.6 169.8,378.2 149.8,378.2" fill="url(#k1047)"/>
<polygon points="169.8,357.6 189.9,357.6 169.8,378.2" fill="url(#k1048)"/>
<polygon points="189.9,357.6 189.9,378.2 169.8,378.2" fill="url(#k1049)"/>
</g></g>
<clipPath id="cpA1"><rect x="61.5" y="8.7" width="470.5" height="377.3"/></clipPath>
<linearGradient id="gA1" gradientUnits="userSpaceOnUse" x1="62.00" y1="0.00" x2="82.60" y2="0.00" spreadMethod="repeat"><stop offset="0" stop-color="#fff"/><stop offset="1" stop-color="#000"/></linearGradient>
<filter id="fA1" filterUnits="userSpaceOnUse" x="59.5" y="6.7" width="474.5" height="381.3" color-interpolation-filters="sRGB"><feTurbulence type="fractalNoise" baseFrequency="0.004 0.006" numOctaves="2" seed="3" result="t1"/><feDisplacementMap in="SourceGraphic" in2="t1" scale="26" xChannelSelector="R" yChannelSelector="G" result="d1"/><feTurbulence type="fractalNoise" baseFrequency="0.05 0.22" numOctaves="1" seed="14" result="t2"/><feDisplacementMap in="d1" in2="t2" scale="4" xChannelSelector="R" yChannelSelector="G" result="d2"/><feTurbulence type="fractalNoise" baseFrequency="0.26" numOctaves="2" seed="21" result="n0"/><feColorMatrix type="matrix" values="1.65 0 0 0 -0.325  1.65 0 0 0 -0.325  1.65 0 0 0 -0.325  0 0 0 0 1" in="n0" result="n1"/><feComposite in="d2" in2="n1" operator="arithmetic" k1="0" k2="0.5" k3="0.5" k4="0" result="s"/><feComponentTransfer in="s"><feFuncR type="table" tableValues="0 0 0 0 0 0 0 0 0 0 0 0 0 0 0 0 0 0 0 0.0833 0.167 0.25 0.333 0.417 0.5 0.583 0.667 0.75 0.833 0.917 1 1 1 1 1 1 1 1 1 1 1 1 1 0.917 0.833 0.75 0.667 0.583 0 0 0 0 0 0 0 0 0 0 0 0 0 0 0 0 0 0 0 0.0833 0.167 0.25 0.333 0.417 0.5 0.583 0.667 0.75 0.833 0.917 1 1 1 1 1 1 1 1 1 1 1 1 1 0.917 0.833 0.75 0.667 0.583 0.5"/><feFuncG type="table" tableValues="0 0 0 0 0 0 0 0.0833 0.167 0.25 0.333 0.417 0.5 0.583 0.667 0.75 0.833 0.917 1 1 1 1 1 1 1 1 1 1 1 1 1 0.917 0.833 0.75 0.667 0.583 0.5 0.417 0.333 0.25 0.167 0.0833 0 0 0 0 0 0 0 0 0 0 0 0 0 0.0833 0.167 0.25 0.333 0.417 0.5 0.583 0.667 0.75 0.833 0.917 1 1 1 1 1 1 1 1 1 1 1 1 1 0.917 0.833 0.75 0.667 0.583 0.5 0.417 0.333 0.25 0.167 0.0833 0 0 0 0 0 0 0"/><feFuncB type="table" tableValues="0.5 0.583 0.667 0.75 0.833 0.917 1 1 1 1 1 1 1 1 1 1 1 1 1 0.917 0.833 0.75 0.667 0.583 0.5 0.417 0.333 0.25 0.167 0.0833 0 0 0 0 0 0 0 0 0 0 0 0 0 0 0 0 0 0 0.5 0.583 0.667 0.75 0.833 0.917 1 1 1 1 1 1 1 1 1 1 1 1 1 0.917 0.833 0.75 0.667 0.583 0.5 0.417 0.333 0.25 0.167 0.0833 0 0 0 0 0 0 0 0 0 0 0 0 0 0 0 0 0 0 0"/></feComponentTransfer><feGaussianBlur stdDeviation="0.45"/></filter>
<clipPath id="cpB1"><rect x="663.2" y="8.7" width="470.8" height="377.3"/></clipPath>
<linearGradient id="gB1" gradientUnits="userSpaceOnUse" x1="666.20" y1="0.00" x2="686.80" y2="0.00" spreadMethod="repeat"><stop offset="0" stop-color="#fff"/><stop offset="1" stop-color="#000"/></linearGradient>
<filter id="fB1" filterUnits="userSpaceOnUse" x="661.2" y="6.7" width="474.8" height="381.3" color-interpolation-filters="sRGB"><feTurbulence type="fractalNoise" baseFrequency="0.004 0.006" numOctaves="2" seed="9" result="t1"/><feDisplacementMap in="SourceGraphic" in2="t1" scale="26" xChannelSelector="R" yChannelSelector="G" result="d1"/><feTurbulence type="fractalNoise" baseFrequency="0.05 0.22" numOctaves="1" seed="20" result="t2"/><feDisplacementMap in="d1" in2="t2" scale="4" xChannelSelector="R" yChannelSelector="G" result="d2"/><feTurbulence type="fractalNoise" baseFrequency="0.26" numOctaves="2" seed="22" result="n0"/><feColorMatrix type="matrix" values="2.1 0 0 0 -0.55  2.1 0 0 0 -0.55  2.1 0 0 0 -0.55  0 0 0 0 1" in="n0" result="n1"/><feComposite in="d2" in2="n1" operator="arithmetic" k1="0" k2="0.5" k3="0.5" k4="0" result="s"/><feComponentTransfer in="s"><feFuncR type="table" tableValues="0 0 0 0 0 0 0 0 0 0 0 0 0 0 0 0 0 0 0 0.0833 0.167 0.25 0.333 0.417 0.5 0.583 0.667 0.75 0.833 0.917 1 1 1 1 1 1 1 1 1 1 1 1 1 0.917 0.833 0.75 0.667 0.583 0 0 0 0 0 0 0 0 0 0 0 0 0 0 0 0 0 0 0 0.0833 0.167 0.25 0.333 0.417 0.5 0.583 0.667 0.75 0.833 0.917 1 1 1 1 1 1 1 1 1 1 1 1 1 0.917 0.833 0.75 0.667 0.583 0.5"/><feFuncG type="table" tableValues="0 0 0 0 0 0 0 0.0833 0.167 0.25 0.333 0.417 0.5 0.583 0.667 0.75 0.833 0.917 1 1 1 1 1 1 1 1 1 1 1 1 1 0.917 0.833 0.75 0.667 0.583 0.5 0.417 0.333 0.25 0.167 0.0833 0 0 0 0 0 0 0 0 0 0 0 0 0 0.0833 0.167 0.25 0.333 0.417 0.5 0.583 0.667 0.75 0.833 0.917 1 1 1 1 1 1 1 1 1 1 1 1 1 0.917 0.833 0.75 0.667 0.583 0.5 0.417 0.333 0.25 0.167 0.0833 0 0 0 0 0 0 0"/><feFuncB type="table" tableValues="0.5 0.583 0.667 0.75 0.833 0.917 1 1 1 1 1 1 1 1 1 1 1 1 1 0.917 0.833 0.75 0.667 0.583 0.5 0.417 0.333 0.25 0.167 0.0833 0 0 0 0 0 0 0 0 0 0 0 0 0 0 0 0 0 0 0.5 0.583 0.667 0.75 0.833 0.917 1 1 1 1 1 1 1 1 1 1 1 1 1 0.917 0.833 0.75 0.667 0.583 0.5 0.417 0.333 0.25 0.167 0.0833 0 0 0 0 0 0 0 0 0 0 0 0 0 0 0 0 0 0 0"/></feComponentTransfer><feGaussianBlur stdDeviation="0.45"/></filter>
<clipPath id="cpC1"><rect x="1266.2" y="8.7" width="404.6" height="377.3"/></clipPath>
<filter id="fC1" filterUnits="userSpaceOnUse" x="1264.2" y="6.7" width="408.6" height="381.3" color-interpolation-filters="sRGB"><feTurbulence type="fractalNoise" baseFrequency="0.035 0.05" numOctaves="2" seed="31" result="t1"/><feDisplacementMap in="SourceGraphic" in2="t1" scale="7" xChannelSelector="R" yChannelSelector="G" result="d1"/><feTurbulence type="fractalNoise" baseFrequency="0.26" numOctaves="2" seed="41" result="n0"/><feColorMatrix type="matrix" values="1.6 0 0 0 -0.3  1.6 0 0 0 -0.3  1.6 0 0 0 -0.3  0 0 0 0 1" in="n0" result="n1"/><feComposite in="d1" in2="n1" operator="arithmetic" k1="0" k2="0.5" k3="0.5" k4="0" result="s"/><feComponentTransfer in="s"><feFuncR type="table" tableValues="0.5 0.583 0.667 0.75 0.833 0.917 1 1 1 1 1 1 1 1 1 1 1 1 1 0.917 0.833 0.75 0.667 0.583 0 0 0 0 0 0 0 0 0 0 0 0 0 0 0 0 0 0 0 0.0833 0.167 0.25 0.333 0.417 0.5 0.583 0.667 0.75 0.833 0.917 1 1 1 1 1 1 1 1 1 1 1 1 1 0.917 0.833 0.75 0.667 0.583 0 0 0 0 0 0 0 0 0 0 0 0 0 0 0 0 0 0 0 0.0833 0.167 0.25 0.333 0.417 0.5"/><feFuncG type="table" tableValues="1 1 1 1 1 1 1 0.917 0.833 0.75 0.667 0.583 0.5 0.417 0.333 0.25 0.167 0.0833 0 0 0 0 0 0 0 0 0 0 0 0 0 0.0833 0.167 0.25 0.333 0.417 0.5 0.583 0.667 0.75 0.833 0.917 1 1 1 1 1 1 1 1 1 1 1 1 1 0.917 0.833 0.75 0.667 0.583 0.5 0.417 0.333 0.25 0.167 0.0833 0 0 0 0 0 0 0 0 0 0 0 0 0 0.0833 0.167 0.25 0.333 0.417 0.5 0.583 0.667 0.75 0.833 0.917 1 1 1 1 1 1 1"/><feFuncB type="table" tableValues="0.5 0.417 0.333 0.25 0.167 0.0833 0 0 0 0 0 0 0 0 0 0 0 0 0 0 0 0 0 0 0.5 0.583 0.667 0.75 0.833 0.917 1 1 1 1 1 1 1 1 1 1 1 1 1 0.917 0.833 0.75 0.667 0.583 0.5 0.417 0.333 0.25 0.167 0.0833 0 0 0 0 0 0 0 0 0 0 0 0 0 0 0 0 0 0 0.5 0.583 0.667 0.75 0.833 0.917 1 1 1 1 1 1 1 1 1 1 1 1 1 0.917 0.833 0.75 0.667 0.583 0.5"/></feComponentTransfer><feGaussianBlur stdDeviation="0.65"/></filter>
<filter id="fC1b" filterUnits="userSpaceOnUse" x="1264.2" y="6.7" width="408.6" height="381.3" color-interpolation-filters="sRGB"><feTurbulence type="fractalNoise" baseFrequency="0.24" numOctaves="2" seed="47" result="n0"/><feColorMatrix in="n0" type="matrix" values="2.6 0 0 0 -0.8  2.6 0 0 0 -0.8  2.6 0 0 0 -0.8  0 40 0 0 -17.6" result="n1"/><feComponentTransfer in="n1"><feFuncR type="table" tableValues="0 0 0 0 0 0 0 0 0 0 0 0 0 0 0 0 0 0 0 0 0 0 0 0 0 0.0625 0.125 0.188 0.25 0.312 0.375 0.438 0.5 0.562 0.625 0.688 0.75 0.812 0.875 0.938 1 1 1 1 1 1 1 1 1 1 1 1 1 1 1 1 1 0.938 0.875 0.812 0.75 0.688 0.625 0.562 0.5"/><feFuncG type="table" tableValues="0 0 0 0 0 0 0 0 0 0.0625 0.125 0.188 0.25 0.312 0.375 0.438 0.5 0.562 0.625 0.688 0.75 0.812 0.875 0.938 1 1 1 1 1 1 1 1 1 1 1 1 1 1 1 1 1 0.938 0.875 0.812 0.75 0.688 0.625 0.562 0.5 0.438 0.375 0.312 0.25 0.188 0.125 0.0625 0 0 0 0 0 0 0 0 0"/><feFuncB type="table" tableValues="0.5 0.562 0.625 0.688 0.75 0.812 0.875 0.938 1 1 1 1 1 1 1 1 1 1 1 1 1 1 1 1 1 0.938 0.875 0.812 0.75 0.688 0.625 0.562 0.5 0.438 0.375 0.312 0.25 0.188 0.125 0.0625 0 0 0 0 0 0 0 0 0 0 0 0 0 0 0 0 0 0 0 0 0 0 0 0 0"/></feComponentTransfer><feGaussianBlur stdDeviation="0.5"/></filter>
<radialGradient id="mgC1" cx="0.5" cy="0.5" r="0.5"><stop offset="0" stop-color="#fff" stop-opacity="1"/><stop offset="0.65" stop-color="#fff" stop-opacity="1"/><stop offset="1" stop-color="#fff" stop-opacity="0"/></radialGradient>
<mask id="mC1" maskUnits="userSpaceOnUse" x="1266.2" y="8.7" width="404.6" height="377.3"><ellipse cx="1614.2" cy="167.2" rx="97.1" ry="150.9" fill="url(#mgC1)"/><ellipse cx="1589.9" cy="303.0" rx="52.6" ry="75.5" fill="url(#mgC1)"/><ellipse cx="1278.3" cy="348.3" rx="24.3" ry="45.3" fill="url(#mgC1)"/></mask>
<linearGradient id="cb1" x1="0" y1="0" x2="0" y2="1"><stop offset="0.0000" stop-color="#800000"/><stop offset="0.0625" stop-color="#bf0000"/><stop offset="0.1250" stop-color="#ff0000"/><stop offset="0.1875" stop-color="#ff4000"/><stop offset="0.2500" stop-color="#ff8000"/><stop offset="0.3125" stop-color="#ffbf00"/><stop offset="0.3750" stop-color="#ffff00"/><stop offset="0.4375" stop-color="#bfff40"/><stop offset="0.5000" stop-color="#80ff80"/><stop offset="0.5625" stop-color="#40ffbf"/><stop offset="0.6250" stop-color="#00ffff"/><stop offset="0.6875" stop-color="#00bfff"/><stop offset="0.7500" stop-color="#0080ff"/><stop offset="0.8125" stop-color="#0040ff"/><stop offset="0.8750" stop-color="#0000ff"/><stop offset="0.9375" stop-color="#0000bf"/><stop offset="1.0000" stop-color="#000080"/></linearGradient>
<clipPath id="cpA2"><rect x="61.5" y="504.5" width="470.5" height="378.0"/></clipPath>
<filter id="fA2" filterUnits="userSpaceOnUse" x="31.5" y="474.5" width="530.5" height="438.0" color-interpolation-filters="sRGB"><feGaussianBlur in="SourceGraphic" stdDeviation="6" result="base"/><feTurbulence type="fractalNoise" baseFrequency="0.1" numOctaves="2" seed="4" result="n0"/><feColorMatrix type="matrix" values="2 0 0 0 -0.5  2 0 0 0 -0.5  2 0 0 0 -0.5  0 0 0 0 1" in="n0" result="n1"/><feComposite in="base" in2="n1" operator="arithmetic" k1="-1.1" k2="1.55" k3="1.27" k4="-0.635" result="s"/><feComponentTransfer in="s"><feFuncR type="table" tableValues="0 0 0 0 0 0 0 0 0 0 0 0 0 0 0 0 0 0 0 0 0 0 0 0.04 0.1 0.16 0.22 0.28 0.34 0.4 0.46 0.52 0.58 0.64 0.7 0.76 0.82 0.88 0.94 1 1 1 1 1 1 1 1 1 1 1 1 1 1 1 1 1 0.98 0.92 0.86 0.8 0.74 0.68 0.62 0.56 0.5"/><feFuncG type="table" tableValues="0 0 0 0 0 0 0.02 0.08 0.14 0.2 0.26 0.32 0.38 0.44 0.5 0.56 0.62 0.68 0.74 0.8 0.86 0.92 0.98 1 1 1 1 1 1 1 1 1 1 1 1 1 1 1 1 1 0.94 0.88 0.82 0.76 0.7 0.64 0.58 0.52 0.46 0.4 0.34 0.28 0.22 0.16 0.1 0.04 0 0 0 0 0 0 0 0 0"/><feFuncB type="table" tableValues="0.66 0.72 0.78 0.84 0.9 0.96 1 1 1 1 1 1 1 1 1 1 1 1 1 1 1 1 1 0.96 0.9 0.84 0.78 0.72 0.66 0.6 0.54 0.48 0.42 0.36 0.3 0.24 0.18 0.12 0.06 0 0 0 0 0 0 0 0 0 0 0 0 0 0 0 0 0 0 0 0 0 0 0 0 0 0"/></feComponentTransfer><feGaussianBlur stdDeviation="0.5"/></filter>
<clipPath id="cpB2"><rect x="663.2" y="504.5" width="470.8" height="378.0"/></clipPath>
<filter id="fB2" filterUnits="userSpaceOnUse" x="633.2" y="474.5" width="530.8" height="438.0" color-interpolation-filters="sRGB"><feGaussianBlur in="SourceGraphic" stdDeviation="11" result="base"/><feTurbulence type="fractalNoise" baseFrequency="0.125" numOctaves="2" seed="8" result="n0"/><feColorMatrix type="matrix" values="1.9 0 0 0 -0.45  1.9 0 0 0 -0.45  1.9 0 0 0 -0.45  0 0 0 0 1" in="n0" result="n1"/><feComposite in="base" in2="n1" operator="arithmetic" k1="-0" k2="1" k3="0.85" k4="-0.425" result="s"/><feComponentTransfer in="s"><feFuncR type="table" tableValues="0 0 0 0 0 0 0 0 0 0 0 0 0 0 0 0 0 0 0 0 0 0 0.0275 0.0788 0.13 0.181 0.232 0.284 0.335 0.386 0.438 0.489 0.54 0.591 0.643 0.694 0.745 0.796 0.848 0.899 0.95 1 1 1 1 1 1 1 1 1 1 1 1 1 1 1 1 1 1 1 1 0.974 0.922 0.871 0.82"/><feFuncG type="table" tableValues="0 0 0.0025 0.0537 0.105 0.156 0.208 0.259 0.31 0.361 0.413 0.464 0.515 0.566 0.618 0.669 0.72 0.771 0.823 0.874 0.925 0.976 1 1 1 1 1 1 1 1 1 1 1 1 1 1 1 1 1 1 1 0.999 0.947 0.896 0.845 0.794 0.742 0.691 0.64 0.589 0.538 0.486 0.435 0.384 0.333 0.281 0.23 0.179 0.127 0.0762 0.025 0 0 0 0"/><feFuncB type="table" tableValues="0.9 0.951 1 1 1 1 1 1 1 1 1 1 1 1 1 1 1 1 1 1 1 1 0.972 0.921 0.87 0.819 0.768 0.716 0.665 0.614 0.562 0.511 0.46 0.409 0.357 0.306 0.255 0.204 0.152 0.101 0.05 0 0 0 0 0 0 0 0 0 0 0 0 0 0 0 0 0 0 0 0 0 0 0 0"/></feComponentTransfer><feGaussianBlur stdDeviation="0.5"/></filter>
<clipPath id="cpC2"><rect x="1265.2" y="504.6" width="399.1" height="356.1"/></clipPath>
<filter id="fC2" filterUnits="userSpaceOnUse" x="1235.2" y="474.6" width="459.1" height="416.1" color-interpolation-filters="sRGB"><feGaussianBlur in="SourceGraphic" stdDeviation="7" result="base"/><feTurbulence type="fractalNoise" baseFrequency="0.17" numOctaves="2" seed="12" result="n0"/><feColorMatrix type="matrix" values="2.2 0 0 0 -0.6  2.2 0 0 0 -0.6  2.2 0 0 0 -0.6  0 0 0 0 1" in="n0" result="n1"/><feComposite in="base" in2="n1" operator="arithmetic" k1="-0" k2="1" k3="0.72" k4="-0.36" result="s"/><feComponentTransfer in="s"><feFuncR type="table" tableValues="0 0 0 0 0 0 0 0 0 0 0 0 0 0 0 0 0 0 0 0 0 0 0 0.05 0.1 0.15 0.2 0.25 0.3 0.35 0.4 0.45 0.5 0.55 0.6 0.65 0.7 0.75 0.8 0.85 0.9 0.95 1 1 1 1 1 1 1 1 1 1 1 1 1 1 1 1 1 1 1 1 1 0.95 0.9"/><feFuncG type="table" tableValues="0 0 0 0.05 0.1 0.15 0.2 0.25 0.3 0.35 0.4 0.45 0.5 0.55 0.6 0.65 0.7 0.75 0.8 0.85 0.9 0.95 1 1 1 1 1 1 1 1 1 1 1 1 1 1 1 1 1 1 1 1 1 0.95 0.9 0.85 0.8 0.75 0.7 0.65 0.6 0.55 0.5 0.45 0.4 0.35 0.3 0.25 0.2 0.15 0.1 0.05 0 0 0"/><feFuncB type="table" tableValues="0.9 0.95 1 1 1 1 1 1 1 1 1 1 1 1 1 1 1 1 1 1 1 1 1 0.95 0.9 0.85 0.8 0.75 0.7 0.65 0.6 0.55 0.5 0.45 0.4 0.35 0.3 0.25 0.2 0.15 0.1 0.05 0 0 0 0 0 0 0 0 0 0 0 0 0 0 0 0 0 0 0 0 0 0 0"/></feComponentTransfer><feGaussianBlur stdDeviation="0.5"/></filter>
<linearGradient id="cb2" x1="0" y1="0" x2="0" y2="1"><stop offset="0.0000" stop-color="#800000"/><stop offset="0.0625" stop-color="#bf0000"/><stop offset="0.1250" stop-color="#ff0000"/><stop offset="0.1875" stop-color="#ff4000"/><stop offset="0.2500" stop-color="#ff8000"/><stop offset="0.3125" stop-color="#ffbf00"/><stop offset="0.3750" stop-color="#ffff00"/><stop offset="0.4375" stop-color="#bfff40"/><stop offset="0.5000" stop-color="#80ff80"/><stop offset="0.5625" stop-color="#40ffbf"/><stop offset="0.6250" stop-color="#00ffff"/><stop offset="0.6875" stop-color="#00bfff"/><stop offset="0.7500" stop-color="#0080ff"/><stop offset="0.8125" stop-color="#0040ff"/><stop offset="0.8750" stop-color="#0000ff"/><stop offset="0.9375" stop-color="#0000bf"/><stop offset="1.0000" stop-color="#000080"/></linearGradient>
<clipPath id="cpA3"><rect x="61.5" y="1001.7" width="470.5" height="377.5"/></clipPath>
<linearGradient id="gA3" gradientUnits="userSpaceOnUse" x1="62.00" y1="0.00" x2="82.60" y2="0.00" spreadMethod="repeat"><stop offset="0" stop-color="#fff"/><stop offset="1" stop-color="#000"/></linearGradient>
<filter id="fA3" filterUnits="userSpaceOnUse" x="59.5" y="999.7" width="474.5" height="381.5" color-interpolation-filters="sRGB"><feTurbulence type="fractalNoise" baseFrequency="0.004 0.006" numOctaves="2" seed="3" result="t1"/><feDisplacementMap in="SourceGraphic" in2="t1" scale="26" xChannelSelector="R" yChannelSelector="G" result="d1"/><feTurbulence type="fractalNoise" baseFrequency="0.05 0.22" numOctaves="1" seed="14" result="t2"/><feDisplacementMap in="d1" in2="t2" scale="4" xChannelSelector="R" yChannelSelector="G" result="d2"/><feComponentTransfer in="d2"><feFuncR type="table" tableValues="0 0 0 0 0 0 0 0 0 0 0 0 0 0 0 0 0 0 0 0 0 0 0 0 0 0.0625 0.125 0.188 0.25 0.312 0.375 0.438 0.5 0.562 0.625 0.688 0.75 0.812 0.875 0.938 1 1 1 1 1 1 1 1 1 1 1 1 1 1 1 1 1 0.938 0.875 0.812 0.75 0.688 0.625 0.562 0.5"/><feFuncG type="table" tableValues="0 0 0 0 0 0 0 0 0 0.0625 0.125 0.188 0.25 0.312 0.375 0.438 0.5 0.562 0.625 0.688 0.75 0.812 0.875 0.938 1 1 1 1 1 1 1 1 1 1 1 1 1 1 1 1 1 0.938 0.875 0.812 0.75 0.688 0.625 0.562 0.5 0.438 0.375 0.312 0.25 0.188 0.125 0.0625 0 0 0 0 0 0 0 0 0"/><feFuncB type="table" tableValues="0.5 0.562 0.625 0.688 0.75 0.812 0.875 0.938 1 1 1 1 1 1 1 1 1 1 1 1 1 1 1 1 1 0.938 0.875 0.812 0.75 0.688 0.625 0.562 0.5 0.438 0.375 0.312 0.25 0.188 0.125 0.0625 0 0 0 0 0 0 0 0 0 0 0 0 0 0 0 0 0 0 0 0 0 0 0 0 0"/></feComponentTransfer></filter>
<filter id="fpA3" filterUnits="userSpaceOnUse" x="59.5" y="999.7" width="474.5" height="381.5" color-interpolation-filters="sRGB"><feTurbulence type="fractalNoise" baseFrequency="0.03 0.06" numOctaves="2" seed="7" result="t1"/><feDisplacementMap in="SourceGraphic" in2="t1" scale="45" xChannelSelector="R" yChannelSelector="G" result="d1"/><feComponentTransfer in="d1"><feFuncR type="table" tableValues="0 0 0 0 0 0 0 0 0 0 0 0 0 0 0 0 0 0 0 0 0 0 0 0 0 0.0625 0.125 0.188 0.25 0.312 0.375 0.438 0.5 0.562 0.625 0.688 0.75 0.812 0.875 0.938 1 1 1 1 1 1 1 1 1 1 1 1 1 1 1 1 1 0.938 0.875 0.812 0.75 0.688 0.625 0.562 0.5"/><feFuncG type="table" tableValues="0 0 0 0 0 0 0 0 0 0.0625 0.125 0.188 0.25 0.312 0.375 0.438 0.5 0.562 0.625 0.688 0.75 0.812 0.875 0.938 1 1 1 1 1 1 1 1 1 1 1 1 1 1 1 1 1 0.938 0.875 0.812 0.75 0.688 0.625 0.562 0.5 0.438 0.375 0.312 0.25 0.188 0.125 0.0625 0 0 0 0 0 0 0 0 0"/><feFuncB type="table" tableValues="0.5 0.562 0.625 0.688 0.75 0.812 0.875 0.938 1 1 1 1 1 1 1 1 1 1 1 1 1 1 1 1 1 0.938 0.875 0.812 0.75 0.688 0.625 0.562 0.5 0.438 0.375 0.312 0.25 0.188 0.125 0.0625 0 0 0 0 0 0 0 0 0 0 0 0 0 0 0 0 0 0 0 0 0 0 0 0 0"/></feComponentTransfer></filter>
<clipPath id="cppA3"><path d="M61.5 1256.1 L98.3 1267.1 L171.8 1285.6 L217.7 1311.4 L268.3 1379.2 L61.5 1379.2ZM61.5 1020.1 L116.6 1009.1 L162.6 1001.7 L61.5 1001.7ZM61.5 1031.2 L98.3 1023.8 L89.1 1053.3 L61.5 1057.0ZM282.0 1001.7 L337.2 1001.7 L364.8 1045.9 L410.7 1082.8 L465.8 1119.7 L532.0 1149.2 L532.0 1175.0 L465.8 1149.2 L401.5 1104.9 L337.2 1068.1 L300.4 1031.2Z"/></clipPath>
<clipPath id="cpB3"><rect x="663.2" y="1001.7" width="470.8" height="377.5"/></clipPath>
<linearGradient id="gB3" gradientUnits="userSpaceOnUse" x1="666.20" y1="0.00" x2="686.80" y2="0.00" spreadMethod="repeat"><stop offset="0" stop-color="#fff"/><stop offset="1" stop-color="#000"/></linearGradient>
<filter id="fB3" filterUnits="userSpaceOnUse" x="661.2" y="999.7" width="474.8" height="381.5" color-interpolation-filters="sRGB"><feTurbulence type="fractalNoise" baseFrequency="0.004 0.006" numOctaves="2" seed="9" result="t1"/><feDisplacementMap in="SourceGraphic" in2="t1" scale="26" xChannelSelector="R" yChannelSelector="G" result="d1"/><feTurbulence type="fractalNoise" baseFrequency="0.05 0.22" numOctaves="1" seed="20" result="t2"/><feDisplacementMap in="d1" in2="t2" scale="4" xChannelSelector="R" yChannelSelector="G" result="d2"/><feComponentTransfer in="d2"><feFuncR type="table" tableValues="0 0 0 0 0 0 0 0 0 0 0 0 0 0 0 0 0 0 0 0 0 0 0 0 0 0.0625 0.125 0.188 0.25 0.312 0.375 0.438 0.5 0.562 0.625 0.688 0.75 0.812 0.875 0.938 1 1 1 1 1 1 1 1 1 1 1 1 1 1 1 1 1 0.938 0.875 0.812 0.75 0.688 0.625 0.562 0.5"/><feFuncG type="table" tableValues="0 0 0 0 0 0 0 0 0 0.0625 0.125 0.188 0.25 0.312 0.375 0.438 0.5 0.562 0.625 0.688 0.75 0.812 0.875 0.938 1 1 1 1 1 1 1 1 1 1 1 1 1 1 1 1 1 0.938 0.875 0.812 0.75 0.688 0.625 0.562 0.5 0.438 0.375 0.312 0.25 0.188 0.125 0.0625 0 0 0 0 0 0 0 0 0"/><feFuncB type="table" tableValues="0.5 0.562 0.625 0.688 0.75 0.812 0.875 0.938 1 1 1 1 1 1 1 1 1 1 1 1 1 1 1 1 1 0.938 0.875 0.812 0.75 0.688 0.625 0.562 0.5 0.438 0.375 0.312 0.25 0.188 0.125 0.0625 0 0 0 0 0 0 0 0 0 0 0 0 0 0 0 0 0 0 0 0 0 0 0 0 0"/></feComponentTransfer></filter>
<filter id="fpB3" filterUnits="userSpaceOnUse" x="661.2" y="999.7" width="474.8" height="381.5" color-interpolation-filters="sRGB"><feTurbulence type="fractalNoise" baseFrequency="0.03 0.06" numOctaves="2" seed="17" result="t1"/><feDisplacementMap in="SourceGraphic" in2="t1" scale="30" xChannelSelector="R" yChannelSelector="G" result="d1"/><feComponentTransfer in="d1"><feFuncR type="table" tableValues="0 0 0 0 0 0 0 0 0 0 0 0 0 0 0 0 0 0 0 0 0 0 0 0 0 0.0625 0.125 0.188 0.25 0.312 0.375 0.438 0.5 0.562 0.625 0.688 0.75 0.812 0.875 0.938 1 1 1 1 1 1 1 1 1 1 1 1 1 1 1 1 1 0.938 0.875 0.812 0.75 0.688 0.625 0.562 0.5"/><feFuncG type="table" tableValues="0 0 0 0 0 0 0 0 0 0.0625 0.125 0.188 0.25 0.312 0.375 0.438 0.5 0.562 0.625 0.688 0.75 0.812 0.875 0.938 1 1 1 1 1 1 1 1 1 1 1 1 1 1 1 1 1 0.938 0.875 0.812 0.75 0.688 0.625 0.562 0.5 0.438 0.375 0.312 0.25 0.188 0.125 0.0625 0 0 0 0 0 0 0 0 0"/><feFuncB type="table" tableValues="0.5 0.562 0.625 0.688 0.75 0.812 0.875 0.938 1 1 1 1 1 1 1 1 1 1 1 1 1 1 1 1 1 0.938 0.875 0.812 0.75 0.688 0.625 0.562 0.5 0.438 0.375 0.312 0.25 0.188 0.125 0.0625 0 0 0 0 0 0 0 0 0 0 0 0 0 0 0 0 0 0 0 0 0 0 0 0 0"/></feComponentTransfer></filter>
<clipPath id="cppB3"><path d="M663.2 1001.7 L755.2 1001.7 L750.6 1031.2 L736.8 1090.2 L746.0 1222.9 L727.6 1245.0 L663.2 1252.4ZM975.8 1001.7 L1095.4 1001.7 L1134.0 1031.2 L1134.0 1082.8 L1095.4 1068.1 L1049.4 1045.9 L994.2 1031.2ZM663.2 1318.7 L700.0 1326.1 L690.8 1379.2 L663.2 1379.2ZM865.5 1090.2 L929.9 1082.8 L934.5 1104.9 L870.1 1108.6Z"/></clipPath>
<clipPath id="cpC3"><rect x="1266.2" y="1001.7" width="404.6" height="377.5"/></clipPath>
<filter id="fC3" filterUnits="userSpaceOnUse" x="1264.2" y="999.7" width="408.6" height="381.5" color-interpolation-filters="sRGB"><feTurbulence type="fractalNoise" baseFrequency="0.035 0.05" numOctaves="2" seed="31" result="t1"/><feDisplacementMap in="SourceGraphic" in2="t1" scale="7" xChannelSelector="R" yChannelSelector="G" result="d1"/><feComponentTransfer in="d1"><feFuncR type="table" tableValues="0 0 0 0 0 0 0 0 0 0 0 0 0 0 0 0 0 0 0 0 0 0 0 0 0 0.0625 0.125 0.188 0.25 0.312 0.375 0.438 0.5 0.562 0.625 0.688 0.75 0.812 0.875 0.938 1 1 1 1 1 1 1 1 1 1 1 1 1 1 1 1 1 0.938 0.875 0.812 0.75 0.688 0.625 0.562 0.5"/><feFuncG type="table" tableValues="0 0 0 0 0 0 0 0 0 0.0625 0.125 0.188 0.25 0.312 0.375 0.438 0.5 0.562 0.625 0.688 0.75 0.812 0.875 0.938 1 1 1 1 1 1 1 1 1 1 1 1 1 1 1 1 1 0.938 0.875 0.812 0.75 0.688 0.625 0.562 0.5 0.438 0.375 0.312 0.25 0.188 0.125 0.0625 0 0 0 0 0 0 0 0 0"/><feFuncB type="table" tableValues="0.5 0.562 0.625 0.688 0.75 0.812 0.875 0.938 1 1 1 1 1 1 1 1 1 1 1 1 1 1 1 1 1 0.938 0.875 0.812 0.75 0.688 0.625 0.562 0.5 0.438 0.375 0.312 0.25 0.188 0.125 0.0625 0 0 0 0 0 0 0 0 0 0 0 0 0 0 0 0 0 0 0 0 0 0 0 0 0"/></feComponentTransfer><feGaussianBlur stdDeviation="0.4"/></filter>
<linearGradient id="cb3" x1="0" y1="0" x2="0" y2="1"><stop offset="0.0000" stop-color="#800000"/><stop offset="0.0625" stop-color="#bf0000"/><stop offset="0.1250" stop-color="#ff0000"/><stop offset="0.1875" stop-color="#ff4000"/><stop offset="0.2500" stop-color="#ff8000"/><stop offset="0.3125" stop-color="#ffbf00"/><stop offset="0.3750" stop-color="#ffff00"/><stop offset="0.4375" stop-color="#bfff40"/><stop offset="0.5000" stop-color="#80ff80"/><stop offset="0.5625" stop-color="#40ffbf"/><stop offset="0.6250" stop-color="#00ffff"/><stop offset="0.6875" stop-color="#00bfff"/><stop offset="0.7500" stop-color="#0080ff"/><stop offset="0.8125" stop-color="#0040ff"/><stop offset="0.8750" stop-color="#0000ff"/><stop offset="0.9375" stop-color="#0000bf"/><stop offset="1.0000" stop-color="#000080"/></linearGradient>
</defs>
<rect width="1755" height="1486" fill="#fff"/>
<!-- panel A1 -->
<g clip-path="url(#cpA1)">
<g filter="url(#fA1)"><rect x="21.5" y="-31.3" width="550.5" height="457.3" fill="url(#gA1)"/></g>
</g>
<text transform="translate(111.7 406.3) scale(0.9 1)" text-anchor="middle" fill="#262626" style="font-size:16.5px;" >50</text>
<text transform="translate(157.5 406.3) scale(0.9 1)" text-anchor="middle" fill="#262626" style="font-size:16.5px;" >100</text>
<text transform="translate(203.3 406.3) scale(0.9 1)" text-anchor="middle" fill="#262626" style="font-size:16.5px;" >150</text>
<text transform="translate(249.1 406.3) scale(0.9 1)" text-anchor="middle" fill="#262626" style="font-size:16.5px;" >200</text>
<text transform="translate(295.0 406.3) scale(0.9 1)" text-anchor="middle" fill="#262626" style="font-size:16.5px;" >250</text>
<text transform="translate(340.8 406.3) scale(0.9 1)" text-anchor="middle" fill="#262626" style="font-size:16.5px;" >300</text>
<text transform="translate(386.6 406.3) scale(0.9 1)" text-anchor="middle" fill="#262626" style="font-size:16.5px;" >350</text>
<text transform="translate(432.4 406.3) scale(0.9 1)" text-anchor="middle" fill="#262626" style="font-size:16.5px;" >400</text>
<text transform="translate(478.3 406.3) scale(0.9 1)" text-anchor="middle" fill="#262626" style="font-size:16.5px;" >450</text>
<text transform="translate(524.1 406.3) scale(0.9 1)" text-anchor="middle" fill="#262626" style="font-size:16.5px;" >500</text>
<text transform="translate(60.5 52.0) scale(0.9 1)" text-anchor="end" fill="#262626" style="font-size:16px;" >50</text>
<text transform="translate(60.5 88.8) scale(0.9 1)" text-anchor="end" fill="#262626" style="font-size:16px;" >100</text>
<text transform="translate(60.5 125.7) scale(0.9 1)" text-anchor="end" fill="#262626" style="font-size:16px;" >150</text>
<text transform="translate(60.5 162.5) scale(0.9 1)" text-anchor="end" fill="#262626" style="font-size:16px;" >200</text>
<text transform="translate(60.5 199.4) scale(0.9 1)" text-anchor="end" fill="#262626" style="font-size:16px;" >250</text>
<text transform="translate(60.5 236.2) scale(0.9 1)" text-anchor="end" fill="#262626" style="font-size:16px;" >300</text>
<text transform="translate(60.5 273.0) scale(0.9 1)" text-anchor="end" fill="#262626" style="font-size:16px;" >350</text>
<text transform="translate(60.5 309.9) scale(0.9 1)" text-anchor="end" fill="#262626" style="font-size:16px;" >400</text>
<text transform="translate(60.5 346.7) scale(0.9 1)" text-anchor="end" fill="#262626" style="font-size:16px;" >450</text>
<text transform="translate(60.5 383.6) scale(0.9 1)" text-anchor="end" fill="#262626" style="font-size:16px;" >500</text>
<path d="M107.1 386.0v-4.5M107.1 8.7v4.5M152.9 386.0v-4.5M152.9 8.7v4.5M198.7 386.0v-4.5M198.7 8.7v4.5M244.5 386.0v-4.5M244.5 8.7v4.5M290.4 386.0v-4.5M290.4 8.7v4.5M336.2 386.0v-4.5M336.2 8.7v4.5M382.0 386.0v-4.5M382.0 8.7v4.5M427.8 386.0v-4.5M427.8 8.7v4.5M473.7 386.0v-4.5M473.7 8.7v4.5M519.5 386.0v-4.5M519.5 8.7v4.5M61.5 43.9h4.5M532.0 43.9h-4.5M61.5 80.7h4.5M532.0 80.7h-4.5M61.5 117.6h4.5M532.0 117.6h-4.5M61.5 154.4h4.5M532.0 154.4h-4.5M61.5 191.3h4.5M532.0 191.3h-4.5M61.5 228.1h4.5M532.0 228.1h-4.5M61.5 264.9h4.5M532.0 264.9h-4.5M61.5 301.8h4.5M532.0 301.8h-4.5M61.5 338.6h4.5M532.0 338.6h-4.5M61.5 375.5h4.5M532.0 375.5h-4.5" stroke="#000" stroke-width="1" fill="none"/>
<rect x="61.5" y="8.7" width="470.5" height="377.3" fill="none" stroke="#000" stroke-width="1.3"/>
<text transform="translate(311.9 424.6)" text-anchor="middle" fill="#262626" style="font-size:15.5px;letter-spacing:1.05px;" >Range (pixel)</text>
<text transform="translate(18.8 185.8) rotate(-90)" text-anchor="middle" fill="#262626" style="font-size:15.5px;letter-spacing:1.05px;" >Azimuth (pixel)</text>
<text x="279.1" y="479.5" text-anchor="middle" fill="#000" class="pl"><tspan class="pp">(</tspan><tspan class="pb">A1</tspan><tspan class="pp">)</tspan></text>
<!-- panel B1 -->
<g clip-path="url(#cpB1)">
<g filter="url(#fB1)"><rect x="623.2" y="-31.3" width="550.8" height="457.3" fill="url(#gB1)"/></g>
</g>
<text transform="translate(713.4 406.3) scale(0.9 1)" text-anchor="middle" fill="#262626" style="font-size:16.5px;" >50</text>
<text transform="translate(759.2 406.3) scale(0.9 1)" text-anchor="middle" fill="#262626" style="font-size:16.5px;" >100</text>
<text transform="translate(805.0 406.3) scale(0.9 1)" text-anchor="middle" fill="#262626" style="font-size:16.5px;" >150</text>
<text transform="translate(850.8 406.3) scale(0.9 1)" text-anchor="middle" fill="#262626" style="font-size:16.5px;" >200</text>
<text transform="translate(896.7 406.3) scale(0.9 1)" text-anchor="middle" fill="#262626" style="font-size:16.5px;" >250</text>
<text transform="translate(942.5 406.3) scale(0.9 1)" text-anchor="middle" fill="#262626" style="font-size:16.5px;" >300</text>
<text transform="translate(988.3 406.3) scale(0.9 1)" text-anchor="middle" fill="#262626" style="font-size:16.5px;" >350</text>
<text transform="translate(1034.1 406.3) scale(0.9 1)" text-anchor="middle" fill="#262626" style="font-size:16.5px;" >400</text>
<text transform="translate(1080.0 406.3) scale(0.9 1)" text-anchor="middle" fill="#262626" style="font-size:16.5px;" >450</text>
<text transform="translate(1125.8 406.3) scale(0.9 1)" text-anchor="middle" fill="#262626" style="font-size:16.5px;" >500</text>
<text transform="translate(662.2 52.0) scale(0.9 1)" text-anchor="end" fill="#262626" style="font-size:16px;" >50</text>
<text transform="translate(662.2 88.8) scale(0.9 1)" text-anchor="end" fill="#262626" style="font-size:16px;" >100</text>
<text transform="translate(662.2 125.7) scale(0.9 1)" text-anchor="end" fill="#262626" style="font-size:16px;" >150</text>
<text transform="translate(662.2 162.5) scale(0.9 1)" text-anchor="end" fill="#262626" style="font-size:16px;" >200</text>
<text transform="translate(662.2 199.4) scale(0.9 1)" text-anchor="end" fill="#262626" style="font-size:16px;" >250</text>
<text transform="translate(662.2 236.2) scale(0.9 1)" text-anchor="end" fill="#262626" style="font-size:16px;" >300</text>
<text transform="translate(662.2 273.0) scale(0.9 1)" text-anchor="end" fill="#262626" style="font-size:16px;" >350</text>
<text transform="translate(662.2 309.9) scale(0.9 1)" text-anchor="end" fill="#262626" style="font-size:16px;" >400</text>
<text transform="translate(662.2 346.7) scale(0.9 1)" text-anchor="end" fill="#262626" style="font-size:16px;" >450</text>
<text transform="translate(662.2 383.6) scale(0.9 1)" text-anchor="end" fill="#262626" style="font-size:16px;" >500</text>
<path d="M708.8 386.0v-4.5M708.8 8.7v4.5M754.6 386.0v-4.5M754.6 8.7v4.5M800.4 386.0v-4.5M800.4 8.7v4.5M846.2 386.0v-4.5M846.2 8.7v4.5M892.1 386.0v-4.5M892.1 8.7v4.5M937.9 386.0v-4.5M937.9 8.7v4.5M983.7 386.0v-4.5M983.7 8.7v4.5M1029.5 386.0v-4.5M1029.5 8.7v4.5M1075.4 386.0v-4.5M1075.4 8.7v4.5M1121.2 386.0v-4.5M1121.2 8.7v4.5M663.2 43.9h4.5M1134.0 43.9h-4.5M663.2 80.7h4.5M1134.0 80.7h-4.5M663.2 117.6h4.5M1134.0 117.6h-4.5M663.2 154.4h4.5M1134.0 154.4h-4.5M663.2 191.3h4.5M1134.0 191.3h-4.5M663.2 228.1h4.5M1134.0 228.1h-4.5M663.2 264.9h4.5M1134.0 264.9h-4.5M663.2 301.8h4.5M1134.0 301.8h-4.5M663.2 338.6h4.5M1134.0 338.6h-4.5M663.2 375.5h4.5M1134.0 375.5h-4.5" stroke="#000" stroke-width="1" fill="none"/>
<rect x="663.2" y="8.7" width="470.8" height="377.3" fill="none" stroke="#000" stroke-width="1.3"/>
<text transform="translate(913.7 424.6)" text-anchor="middle" fill="#262626" style="font-size:15.5px;letter-spacing:1.05px;" >Range (pixel)</text>
<text transform="translate(620.5 185.8) rotate(-90)" text-anchor="middle" fill="#262626" style="font-size:15.5px;letter-spacing:1.05px;" >Azimuth (pixel)</text>
<text x="880.5" y="479.5" text-anchor="middle" fill="#000" class="pl"><tspan class="pp">(</tspan><tspan class="pb">B1</tspan><tspan class="pp">)</tspan></text>
<!-- panel C1 -->
<g clip-path="url(#cpC1)"><g filter="url(#fC1)"><rect x="1261.2" y="3.7" width="414.6" height="387.3" fill="#444"/><use href="#c3m" transform="translate(1266 8.0)"/></g><g mask="url(#mC1)"><rect x="1266.2" y="8.7" width="404.6" height="377.3" fill="#888" filter="url(#fC1b)"/></g></g>
<text transform="translate(1350.0 406.3) scale(0.9 1)" text-anchor="middle" fill="#262626" style="font-size:16.5px;" >100</text>
<text transform="translate(1429.6 406.3) scale(0.9 1)" text-anchor="middle" fill="#262626" style="font-size:16.5px;" >200</text>
<text transform="translate(1508.3 406.3) scale(0.9 1)" text-anchor="middle" fill="#262626" style="font-size:16.5px;" >300</text>
<text transform="translate(1586.9 406.3) scale(0.9 1)" text-anchor="middle" fill="#262626" style="font-size:16.5px;" >400</text>
<text transform="translate(1666.2 406.3) scale(0.9 1)" text-anchor="middle" fill="#262626" style="font-size:16.5px;" >500</text>
<text transform="translate(1265.2 52.0) scale(0.9 1)" text-anchor="end" fill="#262626" style="font-size:16px;" >50</text>
<text transform="translate(1265.2 88.8) scale(0.9 1)" text-anchor="end" fill="#262626" style="font-size:16px;" >100</text>
<text transform="translate(1265.2 125.7) scale(0.9 1)" text-anchor="end" fill="#262626" style="font-size:16px;" >150</text>
<text transform="translate(1265.2 162.5) scale(0.9 1)" text-anchor="end" fill="#262626" style="font-size:16px;" >200</text>
<text transform="translate(1265.2 199.4) scale(0.9 1)" text-anchor="end" fill="#262626" style="font-size:16px;" >250</text>
<text transform="translate(1265.2 236.2) scale(0.9 1)" text-anchor="end" fill="#262626" style="font-size:16px;" >300</text>
<text transform="translate(1265.2 273.0) scale(0.9 1)" text-anchor="end" fill="#262626" style="font-size:16px;" >350</text>
<text transform="translate(1265.2 309.9) scale(0.9 1)" text-anchor="end" fill="#262626" style="font-size:16px;" >400</text>
<text transform="translate(1265.2 346.7) scale(0.9 1)" text-anchor="end" fill="#262626" style="font-size:16px;" >450</text>
<text transform="translate(1265.2 383.6) scale(0.9 1)" text-anchor="end" fill="#262626" style="font-size:16px;" >500</text>
<path d="M1345.4 386.0v-4.5M1345.4 8.7v4.5M1425.0 386.0v-4.5M1425.0 8.7v4.5M1503.7 386.0v-4.5M1503.7 8.7v4.5M1582.3 386.0v-4.5M1582.3 8.7v4.5M1661.6 386.0v-4.5M1661.6 8.7v4.5M1266.2 43.9h4.5M1670.8 43.9h-4.5M1266.2 80.7h4.5M1670.8 80.7h-4.5M1266.2 117.6h4.5M1670.8 117.6h-4.5M1266.2 154.4h4.5M1670.8 154.4h-4.5M1266.2 191.3h4.5M1670.8 191.3h-4.5M1266.2 228.1h4.5M1670.8 228.1h-4.5M1266.2 264.9h4.5M1670.8 264.9h-4.5M1266.2 301.8h4.5M1670.8 301.8h-4.5M1266.2 338.6h4.5M1670.8 338.6h-4.5M1266.2 375.5h4.5M1670.8 375.5h-4.5" stroke="#000" stroke-width="1" fill="none"/>
<rect x="1266.2" y="8.7" width="404.6" height="377.3" fill="none" stroke="#000" stroke-width="1.3"/>
<text transform="translate(1485.8 424.6)" text-anchor="middle" fill="#262626" style="font-size:15.5px;letter-spacing:1.05px;" >Range (pixel)</text>
<text transform="translate(1221.8 185.8) rotate(-90)" text-anchor="middle" fill="#262626" style="font-size:15.5px;letter-spacing:1.05px;" >Azimuth (pixel)</text>
<text x="1482.5" y="479.5" text-anchor="middle" fill="#000" class="pl"><tspan class="pp">(</tspan><tspan class="pb">C1</tspan><tspan class="pp">)</tspan></text>
<rect x="1694.4" y="8.0" width="31.5" height="379.3" fill="url(#cb1)" stroke="#111" stroke-width="1.2"/>
<text transform="translate(1752.5 385.0) scale(0.95 1)" text-anchor="end" fill="#262626" style="font-size:16.5px;letter-spacing:1.5px;" >−3</text>
<text transform="translate(1752.5 324.6) scale(0.95 1)" text-anchor="end" fill="#262626" style="font-size:16.5px;letter-spacing:1.5px;" >−2</text>
<text transform="translate(1752.5 264.2) scale(0.95 1)" text-anchor="end" fill="#262626" style="font-size:16.5px;letter-spacing:1.5px;" >−1</text>
<text transform="translate(1742.2 203.8) scale(0.88 1)" text-anchor="end" fill="#262626" style="font-size:16.5px;" >0</text>
<text transform="translate(1742.2 143.5) scale(0.88 1)" text-anchor="end" fill="#262626" style="font-size:16.5px;" >1</text>
<text transform="translate(1742.2 83.1) scale(0.88 1)" text-anchor="end" fill="#262626" style="font-size:16.5px;" >2</text>
<text transform="translate(1742.2 22.7) scale(0.88 1)" text-anchor="end" fill="#262626" style="font-size:16.5px;" >3</text>
<path d="M1694.4 378.8h3.5M1725.9 378.8h-3.5M1694.4 318.4h3.5M1725.9 318.4h-3.5M1694.4 258.0h3.5M1725.9 258.0h-3.5M1694.4 197.7h3.5M1725.9 197.7h-3.5M1694.4 137.3h3.5M1725.9 137.3h-3.5M1694.4 76.9h3.5M1725.9 76.9h-3.5M1694.4 16.5h3.5M1725.9 16.5h-3.5" stroke="#111" stroke-width="1" fill="none"/>
<!-- panel A2 -->
<g clip-path="url(#cpA2)">
<g filter="url(#fA2)">
<rect x="21.5" y="464.5" width="550.5" height="458.0" fill="#dbdbdb"/>
<path d="M143.6 592.6 L239.3 568.6 L324.8 592.6 L393.2 626.8 L451.3 667.8 L471.8 729.3 L444.4 784.0 L532.0 763.5 L532.0 882.5 L280.3 882.5 L259.8 797.7 L212.0 770.3 L143.6 770.3 L88.9 729.3 L85.5 643.8Z" fill="#ededed"/>
<ellipse cx="266.7" cy="667.8" rx="120.0" ry="75.0" fill="#fcfcfc" transform="rotate(15 266.7 667.8)"/>
<ellipse cx="495.7" cy="558.4" rx="40.0" ry="50.0" fill="#ededed"/>
<ellipse cx="410.3" cy="527.6" rx="40.0" ry="25.0" fill="#ebebeb"/>
<path d="M61.5 504.4 L280.3 504.4 L335.0 572.1 L239.3 558.4 L153.8 551.5 L61.5 578.9Z" fill="#d4d4d4"/>
<path d="M341.9 504.4 L532.0 504.4 L532.0 633.6 L444.4 592.6 L376.1 558.4Z" fill="#d4d4d4"/>
<path d="M61.5 749.8 L143.6 784.0 L222.2 784.0 L259.8 882.5 L61.5 882.5Z" fill="#bdbdbd"/>
<ellipse cx="235.9" cy="741.3" rx="18.0" ry="30.0" fill="#999999"/>
<path d="M393.2 763.5 L444.4 773.8 L485.5 749.8" fill="none" stroke="#b8b8b8" stroke-width="12.0" stroke-linecap="round" stroke-linejoin="round"/>
<path d="M290.6 831.9 L341.9 797.7 L410.3 790.9" fill="none" stroke="#cccccc" stroke-width="14.0" stroke-linecap="round" stroke-linejoin="round"/>
<path d="M54.7 537.9 L102.6 524.2 L157.3 500.3" fill="none" stroke="#999999" stroke-width="34.0" stroke-linecap="round" stroke-linejoin="round"/>
<path d="M54.7 536.2 L102.6 522.5 L150.4 502.0" fill="none" stroke="#4c4c4c" stroke-width="15.0" stroke-linecap="round" stroke-linejoin="round"/>
<path d="M287.2 500.3 L328.2 541.3 L369.2 575.5 L427.4 602.8 L485.5 630.2 L536.8 667.8" fill="none" stroke="#9e9e9e" stroke-width="36.0" stroke-linecap="round" stroke-linejoin="round"/>
<path d="M294.0 503.7 L335.0 541.3 L376.1 575.5 L430.8 602.8 L488.9 630.2 L536.8 662.6" fill="none" stroke="#545454" stroke-width="14.0" stroke-linecap="round" stroke-linejoin="round"/>
<path d="M458.1 667.8 L492.3 672.9" fill="none" stroke="#666666" stroke-width="16.0" stroke-linecap="round" stroke-linejoin="round"/>
<path d="M54.7 770.3 L112.8 797.7 L164.1 828.5 L218.8 855.8 L273.5 883.2" fill="none" stroke="#949494" stroke-width="40.0" stroke-linecap="round" stroke-linejoin="round"/>
<path d="M58.1 773.8 L116.2 801.1 L167.5 831.9 L222.2 859.2 L270.1 883.2" fill="none" stroke="#474747" stroke-width="18.0" stroke-linecap="round" stroke-linejoin="round"/>
<path d="M68.4 866.1 L109.4 876.3" fill="none" stroke="#595959" stroke-width="12.0" stroke-linecap="round" stroke-linejoin="round"/>
</g>

</g>
<text transform="translate(111.7 902.8) scale(0.9 1)" text-anchor="middle" fill="#262626" style="font-size:16.5px;" >50</text>
<text transform="translate(157.5 902.8) scale(0.9 1)" text-anchor="middle" fill="#262626" style="font-size:16.5px;" >100</text>
<text transform="translate(203.3 902.8) scale(0.9 1)" text-anchor="middle" fill="#262626" style="font-size:16.5px;" >150</text>
<text transform="translate(249.1 902.8) scale(0.9 1)" text-anchor="middle" fill="#262626" style="font-size:16.5px;" >200</text>
<text transform="translate(295.0 902.8) scale(0.9 1)" text-anchor="middle" fill="#262626" style="font-size:16.5px;" >250</text>
<text transform="translate(340.8 902.8) scale(0.9 1)" text-anchor="middle" fill="#262626" style="font-size:16.5px;" >300</text>
<text transform="translate(386.6 902.8) scale(0.9 1)" text-anchor="middle" fill="#262626" style="font-size:16.5px;" >350</text>
<text transform="translate(432.4 902.8) scale(0.9 1)" text-anchor="middle" fill="#262626" style="font-size:16.5px;" >400</text>
<text transform="translate(478.3 902.8) scale(0.9 1)" text-anchor="middle" fill="#262626" style="font-size:16.5px;" >450</text>
<text transform="translate(524.1 902.8) scale(0.9 1)" text-anchor="middle" fill="#262626" style="font-size:16.5px;" >500</text>
<text transform="translate(60.5 547.8) scale(0.9 1)" text-anchor="end" fill="#262626" style="font-size:16px;" >50</text>
<text transform="translate(60.5 584.6) scale(0.9 1)" text-anchor="end" fill="#262626" style="font-size:16px;" >100</text>
<text transform="translate(60.5 621.5) scale(0.9 1)" text-anchor="end" fill="#262626" style="font-size:16px;" >150</text>
<text transform="translate(60.5 658.3) scale(0.9 1)" text-anchor="end" fill="#262626" style="font-size:16px;" >200</text>
<text transform="translate(60.5 695.2) scale(0.9 1)" text-anchor="end" fill="#262626" style="font-size:16px;" >250</text>
<text transform="translate(60.5 732.0) scale(0.9 1)" text-anchor="end" fill="#262626" style="font-size:16px;" >300</text>
<text transform="translate(60.5 768.8) scale(0.9 1)" text-anchor="end" fill="#262626" style="font-size:16px;" >350</text>
<text transform="translate(60.5 805.7) scale(0.9 1)" text-anchor="end" fill="#262626" style="font-size:16px;" >400</text>
<text transform="translate(60.5 842.5) scale(0.9 1)" text-anchor="end" fill="#262626" style="font-size:16px;" >450</text>
<text transform="translate(60.5 879.4) scale(0.9 1)" text-anchor="end" fill="#262626" style="font-size:16px;" >500</text>
<path d="M107.1 882.5v-4.5M107.1 504.5v4.5M152.9 882.5v-4.5M152.9 504.5v4.5M198.7 882.5v-4.5M198.7 504.5v4.5M244.5 882.5v-4.5M244.5 504.5v4.5M290.4 882.5v-4.5M290.4 504.5v4.5M336.2 882.5v-4.5M336.2 504.5v4.5M382.0 882.5v-4.5M382.0 504.5v4.5M427.8 882.5v-4.5M427.8 504.5v4.5M473.7 882.5v-4.5M473.7 504.5v4.5M519.5 882.5v-4.5M519.5 504.5v4.5M61.5 539.7h4.5M532.0 539.7h-4.5M61.5 576.5h4.5M532.0 576.5h-4.5M61.5 613.4h4.5M532.0 613.4h-4.5M61.5 650.2h4.5M532.0 650.2h-4.5M61.5 687.1h4.5M532.0 687.1h-4.5M61.5 723.9h4.5M532.0 723.9h-4.5M61.5 760.7h4.5M532.0 760.7h-4.5M61.5 797.6h4.5M532.0 797.6h-4.5M61.5 834.4h4.5M532.0 834.4h-4.5M61.5 871.3h4.5M532.0 871.3h-4.5" stroke="#000" stroke-width="1" fill="none"/>
<rect x="61.5" y="504.5" width="470.5" height="378.0" fill="none" stroke="#000" stroke-width="1.3"/>
<text transform="translate(311.9 921.1)" text-anchor="middle" fill="#262626" style="font-size:15.5px;letter-spacing:1.05px;" >Range (pixel)</text>
<text transform="translate(18.8 682.0) rotate(-90)" text-anchor="middle" fill="#262626" style="font-size:15.5px;letter-spacing:1.05px;" >Azimuth (pixel)</text>
<text x="279.1" y="977.6" text-anchor="middle" fill="#000" class="pl"><tspan class="pp">(</tspan><tspan class="pb">A2</tspan><tspan class="pp">)</tspan></text>
<!-- panel B2 -->
<g clip-path="url(#cpB2)">
<g filter="url(#fB2)">
<rect x="623.2" y="464.5" width="550.8" height="458.0" fill="#808080"/>
<path d="M663.2 504.4 L839.3 504.4 L812.0 660.9 L839.3 882.5 L663.2 882.5Z" fill="#787878"/>
<path d="M924.8 504.4 L1134.0 504.4 L1134.0 882.5 L941.9 882.5 L907.7 695.1Z" fill="#8c8c8c"/>
<ellipse cx="1078.6" cy="650.7" rx="120.0" ry="40.0" fill="#d6d6d6" transform="rotate(-12 1078.6 650.7)"/>
<ellipse cx="1109.4" cy="520.8" rx="60.0" ry="50.0" fill="#cccccc"/>
<ellipse cx="969.2" cy="537.9" rx="70.0" ry="50.0" fill="#b2b2b2"/>
<ellipse cx="948.7" cy="770.3" rx="60.0" ry="50.0" fill="#b2b2b2"/>
<ellipse cx="1044.4" cy="777.2" rx="80.0" ry="40.0" fill="#b8b8b8"/>
<ellipse cx="935.0" cy="681.5" rx="60.0" ry="50.0" fill="#a8a8a8"/>
<ellipse cx="1112.8" cy="749.8" rx="40.0" ry="70.0" fill="#a8a8a8"/>
<ellipse cx="1095.7" cy="849.0" rx="70.0" ry="50.0" fill="#a3a3a3"/>
<ellipse cx="880.3" cy="650.7" rx="50.0" ry="40.0" fill="#9e9e9e"/>
<ellipse cx="764.1" cy="825.0" rx="150.0" ry="100.0" fill="#6e6e6e"/>
<ellipse cx="712.8" cy="712.2" rx="100.0" ry="120.0" fill="#737373"/>
<ellipse cx="685.5" cy="558.4" rx="60.0" ry="80.0" fill="#8f8f8f"/>
</g>

</g>
<text transform="translate(713.4 902.8) scale(0.9 1)" text-anchor="middle" fill="#262626" style="font-size:16.5px;" >50</text>
<text transform="translate(759.2 902.8) scale(0.9 1)" text-anchor="middle" fill="#262626" style="font-size:16.5px;" >100</text>
<text transform="translate(805.0 902.8) scale(0.9 1)" text-anchor="middle" fill="#262626" style="font-size:16.5px;" >150</text>
<text transform="translate(850.8 902.8) scale(0.9 1)" text-anchor="middle" fill="#262626" style="font-size:16.5px;" >200</text>
<text transform="translate(896.7 902.8) scale(0.9 1)" text-anchor="middle" fill="#262626" style="font-size:16.5px;" >250</text>
<text transform="translate(942.5 902.8) scale(0.9 1)" text-anchor="middle" fill="#262626" style="font-size:16.5px;" >300</text>
<text transform="translate(988.3 902.8) scale(0.9 1)" text-anchor="middle" fill="#262626" style="font-size:16.5px;" >350</text>
<text transform="translate(1034.1 902.8) scale(0.9 1)" text-anchor="middle" fill="#262626" style="font-size:16.5px;" >400</text>
<text transform="translate(1080.0 902.8) scale(0.9 1)" text-anchor="middle" fill="#262626" style="font-size:16.5px;" >450</text>
<text transform="translate(1125.8 902.8) scale(0.9 1)" text-anchor="middle" fill="#262626" style="font-size:16.5px;" >500</text>
<text transform="translate(662.2 547.8) scale(0.9 1)" text-anchor="end" fill="#262626" style="font-size:16px;" >50</text>
<text transform="translate(662.2 584.6) scale(0.9 1)" text-anchor="end" fill="#262626" style="font-size:16px;" >100</text>
<text transform="translate(662.2 621.5) scale(0.9 1)" text-anchor="end" fill="#262626" style="font-size:16px;" >150</text>
<text transform="translate(662.2 658.3) scale(0.9 1)" text-anchor="end" fill="#262626" style="font-size:16px;" >200</text>
<text transform="translate(662.2 695.2) scale(0.9 1)" text-anchor="end" fill="#262626" style="font-size:16px;" >250</text>
<text transform="translate(662.2 732.0) scale(0.9 1)" text-anchor="end" fill="#262626" style="font-size:16px;" >300</text>
<text transform="translate(662.2 768.8) scale(0.9 1)" text-anchor="end" fill="#262626" style="font-size:16px;" >350</text>
<text transform="translate(662.2 805.7) scale(0.9 1)" text-anchor="end" fill="#262626" style="font-size:16px;" >400</text>
<text transform="translate(662.2 842.5) scale(0.9 1)" text-anchor="end" fill="#262626" style="font-size:16px;" >450</text>
<text transform="translate(662.2 879.4) scale(0.9 1)" text-anchor="end" fill="#262626" style="font-size:16px;" >500</text>
<path d="M708.8 882.5v-4.5M708.8 504.5v4.5M754.6 882.5v-4.5M754.6 504.5v4.5M800.4 882.5v-4.5M800.4 504.5v4.5M846.2 882.5v-4.5M846.2 504.5v4.5M892.1 882.5v-4.5M892.1 504.5v4.5M937.9 882.5v-4.5M937.9 504.5v4.5M983.7 882.5v-4.5M983.7 504.5v4.5M1029.5 882.5v-4.5M1029.5 504.5v4.5M1075.4 882.5v-4.5M1075.4 504.5v4.5M1121.2 882.5v-4.5M1121.2 504.5v4.5M663.2 539.7h4.5M1134.0 539.7h-4.5M663.2 576.5h4.5M1134.0 576.5h-4.5M663.2 613.4h4.5M1134.0 613.4h-4.5M663.2 650.2h4.5M1134.0 650.2h-4.5M663.2 687.1h4.5M1134.0 687.1h-4.5M663.2 723.9h4.5M1134.0 723.9h-4.5M663.2 760.7h4.5M1134.0 760.7h-4.5M663.2 797.6h4.5M1134.0 797.6h-4.5M663.2 834.4h4.5M1134.0 834.4h-4.5M663.2 871.3h4.5M1134.0 871.3h-4.5" stroke="#000" stroke-width="1" fill="none"/>
<rect x="663.2" y="504.5" width="470.8" height="378.0" fill="none" stroke="#000" stroke-width="1.3"/>
<text transform="translate(913.7 921.1)" text-anchor="middle" fill="#262626" style="font-size:15.5px;letter-spacing:1.05px;" >Range (pixel)</text>
<text transform="translate(620.5 682.0) rotate(-90)" text-anchor="middle" fill="#262626" style="font-size:15.5px;letter-spacing:1.05px;" >Azimuth (pixel)</text>
<text x="880.5" y="977.6" text-anchor="middle" fill="#000" class="pl"><tspan class="pp">(</tspan><tspan class="pb">B2</tspan><tspan class="pp">)</tspan></text>
<!-- panel C2 -->
<g clip-path="url(#cpC2)">
<g filter="url(#fC2)">
<rect x="1225.2" y="464.6" width="479.1" height="436.1" fill="#808080"/>
<path d="M1265.2 561.9 L1409.4 504.6 L1422.5 611.1 L1415.9 860.7 L1265.2 860.7Z" fill="#949494"/>
<path d="M1265.2 504.6 L1363.5 504.6 L1337.3 565.2 L1265.2 588.1Z" fill="#666666"/>
<ellipse cx="1307.8" cy="529.1" rx="40.0" ry="30.0" fill="#383838"/>
<path d="M1278.3 637.3 L1284.8 722.5" fill="none" stroke="#bdbdbd" stroke-width="40.0" stroke-linecap="round" stroke-linejoin="round"/>
<path d="M1320.9 588.1 L1317.6 709.4" fill="none" stroke="#b2b2b2" stroke-width="36.0" stroke-linecap="round" stroke-linejoin="round"/>
<path d="M1389.7 663.5 L1376.6 774.9" fill="none" stroke="#c2c2c2" stroke-width="60.0" stroke-linecap="round" stroke-linejoin="round"/>
<path d="M1350.4 709.4 L1337.3 807.7" fill="none" stroke="#a8a8a8" stroke-width="50.0" stroke-linecap="round" stroke-linejoin="round"/>
<path d="M1288.1 774.9 L1284.8 840.4" fill="none" stroke="#616161" stroke-width="40.0" stroke-linecap="round" stroke-linejoin="round"/>
<path d="M1343.8 558.6 L1350.4 617.6" fill="none" stroke="#6b6b6b" stroke-width="30.0" stroke-linecap="round" stroke-linejoin="round"/>
<ellipse cx="1406.1" cy="542.3" rx="30.0" ry="42.0" fill="#cccccc"/>
<ellipse cx="1419.2" cy="820.8" rx="70.0" ry="90.0" fill="#cccccc"/>
<ellipse cx="1474.9" cy="791.3" rx="90.0" ry="160.0" fill="#999999"/>
<path d="M1420.8 506.2 L1474.9 506.2 L1514.2 578.3 L1514.2 715.9 L1461.8 729.0 L1422.5 709.4 L1415.9 611.1Z" fill="#5c5c5c"/>
<path d="M1425.7 509.5 L1438.8 565.2 L1442.1 643.8 L1461.8 706.1" fill="none" stroke="#383838" stroke-width="50.0" stroke-linecap="round" stroke-linejoin="round"/>
<path d="M1474.9 578.3 L1494.5 663.5" fill="none" stroke="#4c4c4c" stroke-width="40.0" stroke-linecap="round" stroke-linejoin="round"/>
<path d="M1458.5 732.3 L1442.1 774.9 L1448.7 807.7" fill="none" stroke="#4c4c4c" stroke-width="30.0" stroke-linecap="round" stroke-linejoin="round"/>
<path d="M1494.5 504.6 L1573.2 504.6 L1583.0 594.7 L1556.8 683.1 L1517.5 676.6 L1514.2 571.7Z" fill="#adadad"/>
<ellipse cx="1540.4" cy="624.2" rx="50.0" ry="70.0" fill="#d1d1d1"/>
<ellipse cx="1556.8" cy="555.4" rx="40.0" ry="50.0" fill="#bdbdbd"/>
<ellipse cx="1502.7" cy="516.0" rx="25.0" ry="40.0" fill="#bdbdbd"/>
<path d="M1583.0 504.6 L1664.3 504.6 L1664.3 630.7 L1606.0 620.9 L1586.3 578.3Z" fill="#616161"/>
<ellipse cx="1615.8" cy="561.9" rx="50.0" ry="40.0" fill="#9e9e9e"/>
<ellipse cx="1651.8" cy="509.5" rx="30.0" ry="20.0" fill="#bfbfbf"/>
<ellipse cx="1645.3" cy="611.1" rx="70.0" ry="60.0" fill="#2e2e2e"/>
<path d="M1560.1 676.6 L1589.6 634.0 L1664.3 620.9 L1664.3 774.9 L1573.2 774.9 L1560.1 742.1Z" fill="#333333"/>
<path d="M1561.7 630.7 L1592.8 630.7 L1583.0 676.6 L1561.7 689.7Z" fill="#808080"/>
<path d="M1507.7 683.1 L1556.8 693.0 L1566.6 774.9 L1579.7 847.0 L1540.4 850.2 L1517.5 791.3 L1510.9 729.0Z" fill="#3d3d3d"/>
<path d="M1507.7 742.1 L1510.9 807.7" fill="none" stroke="#737373" stroke-width="40.0" stroke-linecap="round" stroke-linejoin="round"/>
<path d="M1573.2 783.1 L1648.5 779.8 L1664.3 788.0 L1664.3 860.7 L1586.3 860.7 L1578.1 820.8Z" fill="#d1d1d1"/>
<path d="M1556.8 781.4 L1586.3 856.8" fill="none" stroke="#808080" stroke-width="20.0" stroke-linecap="round" stroke-linejoin="round"/>
</g>
<rect x="1420.6" y="574.2" width="93.6" height="138.4" fill="none" stroke="#fff" stroke-width="2"/>
<rect x="1560.6" y="629.8" width="93.6" height="138.4" fill="none" stroke="#fff" stroke-width="2"/>
<text text-anchor="middle" fill="#fff" style="font-size:61px" transform="translate(1462.6 660.0) scale(0.72 1)">A</text>
<text text-anchor="middle" fill="#fff" style="font-size:61px" transform="translate(1604.6 721.8) scale(0.78 1)">B</text>
</g>
<text transform="translate(1347.6 881.0) scale(0.9 1)" text-anchor="middle" fill="#262626" style="font-size:16.5px;" >100</text>
<text transform="translate(1425.6 881.0) scale(0.9 1)" text-anchor="middle" fill="#262626" style="font-size:16.5px;" >200</text>
<text transform="translate(1503.3 881.0) scale(0.9 1)" text-anchor="middle" fill="#262626" style="font-size:16.5px;" >300</text>
<text transform="translate(1581.0 881.0) scale(0.9 1)" text-anchor="middle" fill="#262626" style="font-size:16.5px;" >400</text>
<text transform="translate(1659.0 881.0) scale(0.9 1)" text-anchor="middle" fill="#262626" style="font-size:16.5px;" >500</text>
<text transform="translate(1264.2 546.3) scale(0.9 1)" text-anchor="end" fill="#262626" style="font-size:16px;" >50</text>
<text transform="translate(1264.2 581.0) scale(0.9 1)" text-anchor="end" fill="#262626" style="font-size:16px;" >100</text>
<text transform="translate(1264.2 615.7) scale(0.9 1)" text-anchor="end" fill="#262626" style="font-size:16px;" >150</text>
<text transform="translate(1264.2 650.5) scale(0.9 1)" text-anchor="end" fill="#262626" style="font-size:16px;" >200</text>
<text transform="translate(1264.2 685.2) scale(0.9 1)" text-anchor="end" fill="#262626" style="font-size:16px;" >250</text>
<text transform="translate(1264.2 719.9) scale(0.9 1)" text-anchor="end" fill="#262626" style="font-size:16px;" >300</text>
<text transform="translate(1264.2 754.6) scale(0.9 1)" text-anchor="end" fill="#262626" style="font-size:16px;" >350</text>
<text transform="translate(1264.2 789.4) scale(0.9 1)" text-anchor="end" fill="#262626" style="font-size:16px;" >400</text>
<text transform="translate(1264.2 824.1) scale(0.9 1)" text-anchor="end" fill="#262626" style="font-size:16px;" >450</text>
<text transform="translate(1264.2 858.8) scale(0.9 1)" text-anchor="end" fill="#262626" style="font-size:16px;" >500</text>
<path d="M1343.0 860.7v-4.5M1343.0 504.6v4.5M1421.0 860.7v-4.5M1421.0 504.6v4.5M1498.7 860.7v-4.5M1498.7 504.6v4.5M1576.4 860.7v-4.5M1576.4 504.6v4.5M1654.4 860.7v-4.5M1654.4 504.6v4.5M1265.2 538.2h4.5M1664.3 538.2h-4.5M1265.2 572.9h4.5M1664.3 572.9h-4.5M1265.2 607.6h4.5M1664.3 607.6h-4.5M1265.2 642.4h4.5M1664.3 642.4h-4.5M1265.2 677.1h4.5M1664.3 677.1h-4.5M1265.2 711.8h4.5M1664.3 711.8h-4.5M1265.2 746.5h4.5M1664.3 746.5h-4.5M1265.2 781.3h4.5M1664.3 781.3h-4.5M1265.2 816.0h4.5M1664.3 816.0h-4.5M1265.2 850.7h4.5M1664.3 850.7h-4.5" stroke="#000" stroke-width="1" fill="none"/>
<rect x="1265.2" y="504.6" width="399.1" height="356.1" fill="none" stroke="#000" stroke-width="1.3"/>
<text transform="translate(1527.5 921.4)" text-anchor="middle" fill="#262626" style="font-size:15.5px;letter-spacing:1.05px;" >Range (pixel)</text>
<text transform="translate(1221.8 671.7) rotate(-90)" text-anchor="middle" fill="#262626" style="font-size:15.5px;letter-spacing:1.05px;" >Azimuth (pixel)</text>
<text x="1482.5" y="977.6" text-anchor="middle" fill="#000" class="pl"><tspan class="pp">(</tspan><tspan class="pb">C2</tspan><tspan class="pp">)</tspan></text>
<rect x="1687.2" y="504.6" width="30.8" height="356.9" fill="url(#cb2)" stroke="#111" stroke-width="1.2"/>
<text transform="translate(1727.5 828.0) scale(0.88 1)" text-anchor="start" fill="#262626" style="font-size:16px;letter-spacing:2.4px;" >0.1</text>
<text transform="translate(1727.5 788.8) scale(0.88 1)" text-anchor="start" fill="#262626" style="font-size:16px;letter-spacing:2.4px;" >0.2</text>
<text transform="translate(1727.5 749.6) scale(0.88 1)" text-anchor="start" fill="#262626" style="font-size:16px;letter-spacing:2.4px;" >0.3</text>
<text transform="translate(1727.5 710.4) scale(0.88 1)" text-anchor="start" fill="#262626" style="font-size:16px;letter-spacing:2.4px;" >0.4</text>
<text transform="translate(1727.5 671.2) scale(0.88 1)" text-anchor="start" fill="#262626" style="font-size:16px;letter-spacing:2.4px;" >0.5</text>
<text transform="translate(1727.5 632.1) scale(0.88 1)" text-anchor="start" fill="#262626" style="font-size:16px;letter-spacing:2.4px;" >0.6</text>
<text transform="translate(1727.5 592.9) scale(0.88 1)" text-anchor="start" fill="#262626" style="font-size:16px;letter-spacing:2.4px;" >0.7</text>
<text transform="translate(1727.5 553.7) scale(0.88 1)" text-anchor="start" fill="#262626" style="font-size:16px;letter-spacing:2.4px;" >0.8</text>
<text transform="translate(1727.5 514.5) scale(0.88 1)" text-anchor="start" fill="#262626" style="font-size:16px;letter-spacing:2.4px;" >0.9</text>
<path d="M1687.2 823.0h3.5M1718.0 823.0h-3.5M1687.2 783.8h3.5M1718.0 783.8h-3.5M1687.2 744.6h3.5M1718.0 744.6h-3.5M1687.2 705.4h3.5M1718.0 705.4h-3.5M1687.2 666.2h3.5M1718.0 666.2h-3.5M1687.2 627.1h3.5M1718.0 627.1h-3.5M1687.2 587.9h3.5M1718.0 587.9h-3.5M1687.2 548.7h3.5M1718.0 548.7h-3.5M1687.2 509.5h3.5M1718.0 509.5h-3.5" stroke="#111" stroke-width="1" fill="none"/>
<!-- panel A3 -->
<g clip-path="url(#cpA3)">
<g filter="url(#fA3)"><rect x="21.5" y="961.7" width="550.5" height="457.5" fill="url(#gA3)"/></g>
<g clip-path="url(#cppA3)"><g filter="url(#fpA3)"><rect x="21.5" y="961.7" width="550.5" height="457.5" fill="url(#gA3)"/></g></g>
</g>
<text transform="translate(111.7 1399.5) scale(0.9 1)" text-anchor="middle" fill="#262626" style="font-size:16.5px;" >50</text>
<text transform="translate(157.5 1399.5) scale(0.9 1)" text-anchor="middle" fill="#262626" style="font-size:16.5px;" >100</text>
<text transform="translate(203.3 1399.5) scale(0.9 1)" text-anchor="middle" fill="#262626" style="font-size:16.5px;" >150</text>
<text transform="translate(249.1 1399.5) scale(0.9 1)" text-anchor="middle" fill="#262626" style="font-size:16.5px;" >200</text>
<text transform="translate(295.0 1399.5) scale(0.9 1)" text-anchor="middle" fill="#262626" style="font-size:16.5px;" >250</text>
<text transform="translate(340.8 1399.5) scale(0.9 1)" text-anchor="middle" fill="#262626" style="font-size:16.5px;" >300</text>
<text transform="translate(386.6 1399.5) scale(0.9 1)" text-anchor="middle" fill="#262626" style="font-size:16.5px;" >350</text>
<text transform="translate(432.4 1399.5) scale(0.9 1)" text-anchor="middle" fill="#262626" style="font-size:16.5px;" >400</text>
<text transform="translate(478.3 1399.5) scale(0.9 1)" text-anchor="middle" fill="#262626" style="font-size:16.5px;" >450</text>
<text transform="translate(524.1 1399.5) scale(0.9 1)" text-anchor="middle" fill="#262626" style="font-size:16.5px;" >500</text>
<text transform="translate(60.5 1045.0) scale(0.9 1)" text-anchor="end" fill="#262626" style="font-size:16px;" >50</text>
<text transform="translate(60.5 1081.8) scale(0.9 1)" text-anchor="end" fill="#262626" style="font-size:16px;" >100</text>
<text transform="translate(60.5 1118.7) scale(0.9 1)" text-anchor="end" fill="#262626" style="font-size:16px;" >150</text>
<text transform="translate(60.5 1155.5) scale(0.9 1)" text-anchor="end" fill="#262626" style="font-size:16px;" >200</text>
<text transform="translate(60.5 1192.4) scale(0.9 1)" text-anchor="end" fill="#262626" style="font-size:16px;" >250</text>
<text transform="translate(60.5 1229.2) scale(0.9 1)" text-anchor="end" fill="#262626" style="font-size:16px;" >300</text>
<text transform="translate(60.5 1266.0) scale(0.9 1)" text-anchor="end" fill="#262626" style="font-size:16px;" >350</text>
<text transform="translate(60.5 1302.9) scale(0.9 1)" text-anchor="end" fill="#262626" style="font-size:16px;" >400</text>
<text transform="translate(60.5 1339.7) scale(0.9 1)" text-anchor="end" fill="#262626" style="font-size:16px;" >450</text>
<text transform="translate(60.5 1376.6) scale(0.9 1)" text-anchor="end" fill="#262626" style="font-size:16px;" >500</text>
<path d="M107.1 1379.2v-4.5M107.1 1001.7v4.5M152.9 1379.2v-4.5M152.9 1001.7v4.5M198.7 1379.2v-4.5M198.7 1001.7v4.5M244.5 1379.2v-4.5M244.5 1001.7v4.5M290.4 1379.2v-4.5M290.4 1001.7v4.5M336.2 1379.2v-4.5M336.2 1001.7v4.5M382.0 1379.2v-4.5M382.0 1001.7v4.5M427.8 1379.2v-4.5M427.8 1001.7v4.5M473.7 1379.2v-4.5M473.7 1001.7v4.5M519.5 1379.2v-4.5M519.5 1001.7v4.5M61.5 1036.9h4.5M532.0 1036.9h-4.5M61.5 1073.7h4.5M532.0 1073.7h-4.5M61.5 1110.6h4.5M532.0 1110.6h-4.5M61.5 1147.4h4.5M532.0 1147.4h-4.5M61.5 1184.3h4.5M532.0 1184.3h-4.5M61.5 1221.1h4.5M532.0 1221.1h-4.5M61.5 1257.9h4.5M532.0 1257.9h-4.5M61.5 1294.8h4.5M532.0 1294.8h-4.5M61.5 1331.6h4.5M532.0 1331.6h-4.5M61.5 1368.5h4.5M532.0 1368.5h-4.5" stroke="#000" stroke-width="1" fill="none"/>
<rect x="61.5" y="1001.7" width="470.5" height="377.5" fill="none" stroke="#000" stroke-width="1.3"/>
<text transform="translate(311.9 1417.8)" text-anchor="middle" fill="#262626" style="font-size:15.5px;letter-spacing:1.05px;" >Range (pixel)</text>
<text transform="translate(18.8 1179.0) rotate(-90)" text-anchor="middle" fill="#262626" style="font-size:15.5px;letter-spacing:1.05px;" >Azimuth (pixel)</text>
<text x="279.1" y="1473.4" text-anchor="middle" fill="#000" class="pl"><tspan class="pp">(</tspan><tspan class="pb">A3</tspan><tspan class="pp">)</tspan></text>
<!-- panel B3 -->
<g clip-path="url(#cpB3)">
<g filter="url(#fB3)"><rect x="623.2" y="961.7" width="550.8" height="457.5" fill="url(#gB3)"/></g>
<g clip-path="url(#cppB3)"><g filter="url(#fpB3)"><rect x="623.2" y="961.7" width="550.8" height="457.5" fill="url(#gB3)"/></g></g>
</g>
<text transform="translate(713.4 1399.5) scale(0.9 1)" text-anchor="middle" fill="#262626" style="font-size:16.5px;" >50</text>
<text transform="translate(759.2 1399.5) scale(0.9 1)" text-anchor="middle" fill="#262626" style="font-size:16.5px;" >100</text>
<text transform="translate(805.0 1399.5) scale(0.9 1)" text-anchor="middle" fill="#262626" style="font-size:16.5px;" >150</text>
<text transform="translate(850.8 1399.5) scale(0.9 1)" text-anchor="middle" fill="#262626" style="font-size:16.5px;" >200</text>
<text transform="translate(896.7 1399.5) scale(0.9 1)" text-anchor="middle" fill="#262626" style="font-size:16.5px;" >250</text>
<text transform="translate(942.5 1399.5) scale(0.9 1)" text-anchor="middle" fill="#262626" style="font-size:16.5px;" >300</text>
<text transform="translate(988.3 1399.5) scale(0.9 1)" text-anchor="middle" fill="#262626" style="font-size:16.5px;" >350</text>
<text transform="translate(1034.1 1399.5) scale(0.9 1)" text-anchor="middle" fill="#262626" style="font-size:16.5px;" >400</text>
<text transform="translate(1080.0 1399.5) scale(0.9 1)" text-anchor="middle" fill="#262626" style="font-size:16.5px;" >450</text>
<text transform="translate(1125.8 1399.5) scale(0.9 1)" text-anchor="middle" fill="#262626" style="font-size:16.5px;" >500</text>
<text transform="translate(662.2 1045.0) scale(0.9 1)" text-anchor="end" fill="#262626" style="font-size:16px;" >50</text>
<text transform="translate(662.2 1081.8) scale(0.9 1)" text-anchor="end" fill="#262626" style="font-size:16px;" >100</text>
<text transform="translate(662.2 1118.7) scale(0.9 1)" text-anchor="end" fill="#262626" style="font-size:16px;" >150</text>
<text transform="translate(662.2 1155.5) scale(0.9 1)" text-anchor="end" fill="#262626" style="font-size:16px;" >200</text>
<text transform="translate(662.2 1192.4) scale(0.9 1)" text-anchor="end" fill="#262626" style="font-size:16px;" >250</text>
<text transform="translate(662.2 1229.2) scale(0.9 1)" text-anchor="end" fill="#262626" style="font-size:16px;" >300</text>
<text transform="translate(662.2 1266.0) scale(0.9 1)" text-anchor="end" fill="#262626" style="font-size:16px;" >350</text>
<text transform="translate(662.2 1302.9) scale(0.9 1)" text-anchor="end" fill="#262626" style="font-size:16px;" >400</text>
<text transform="translate(662.2 1339.7) scale(0.9 1)" text-anchor="end" fill="#262626" style="font-size:16px;" >450</text>
<text transform="translate(662.2 1376.6) scale(0.9 1)" text-anchor="end" fill="#262626" style="font-size:16px;" >500</text>
<path d="M708.8 1379.2v-4.5M708.8 1001.7v4.5M754.6 1379.2v-4.5M754.6 1001.7v4.5M800.4 1379.2v-4.5M800.4 1001.7v4.5M846.2 1379.2v-4.5M846.2 1001.7v4.5M892.1 1379.2v-4.5M892.1 1001.7v4.5M937.9 1379.2v-4.5M937.9 1001.7v4.5M983.7 1379.2v-4.5M983.7 1001.7v4.5M1029.5 1379.2v-4.5M1029.5 1001.7v4.5M1075.4 1379.2v-4.5M1075.4 1001.7v4.5M1121.2 1379.2v-4.5M1121.2 1001.7v4.5M663.2 1036.9h4.5M1134.0 1036.9h-4.5M663.2 1073.7h4.5M1134.0 1073.7h-4.5M663.2 1110.6h4.5M1134.0 1110.6h-4.5M663.2 1147.4h4.5M1134.0 1147.4h-4.5M663.2 1184.3h4.5M1134.0 1184.3h-4.5M663.2 1221.1h4.5M1134.0 1221.1h-4.5M663.2 1257.9h4.5M1134.0 1257.9h-4.5M663.2 1294.8h4.5M1134.0 1294.8h-4.5M663.2 1331.6h4.5M1134.0 1331.6h-4.5M663.2 1368.5h4.5M1134.0 1368.5h-4.5" stroke="#000" stroke-width="1" fill="none"/>
<rect x="663.2" y="1001.7" width="470.8" height="377.5" fill="none" stroke="#000" stroke-width="1.3"/>
<text transform="translate(913.7 1417.8)" text-anchor="middle" fill="#262626" style="font-size:15.5px;letter-spacing:1.05px;" >Range (pixel)</text>
<text transform="translate(620.5 1179.0) rotate(-90)" text-anchor="middle" fill="#262626" style="font-size:15.5px;letter-spacing:1.05px;" >Azimuth (pixel)</text>
<text x="880.5" y="1473.4" text-anchor="middle" fill="#000" class="pl"><tspan class="pp">(</tspan><tspan class="pb">B3</tspan><tspan class="pp">)</tspan></text>
<!-- panel C3 -->
<g clip-path="url(#cpC3)"><g filter="url(#fC3)"><rect x="1261.2" y="996.7" width="414.6" height="387.5" fill="#444"/><use href="#c3m" transform="translate(1266 1001)"/></g></g>
<text transform="translate(1350.0 1399.5) scale(0.9 1)" text-anchor="middle" fill="#262626" style="font-size:16.5px;" >100</text>
<text transform="translate(1429.6 1399.5) scale(0.9 1)" text-anchor="middle" fill="#262626" style="font-size:16.5px;" >200</text>
<text transform="translate(1508.3 1399.5) scale(0.9 1)" text-anchor="middle" fill="#262626" style="font-size:16.5px;" >300</text>
<text transform="translate(1586.9 1399.5) scale(0.9 1)" text-anchor="middle" fill="#262626" style="font-size:16.5px;" >400</text>
<text transform="translate(1666.2 1399.5) scale(0.9 1)" text-anchor="middle" fill="#262626" style="font-size:16.5px;" >500</text>
<text transform="translate(1265.2 1045.0) scale(0.9 1)" text-anchor="end" fill="#262626" style="font-size:16px;" >50</text>
<text transform="translate(1265.2 1081.8) scale(0.9 1)" text-anchor="end" fill="#262626" style="font-size:16px;" >100</text>
<text transform="translate(1265.2 1118.7) scale(0.9 1)" text-anchor="end" fill="#262626" style="font-size:16px;" >150</text>
<text transform="translate(1265.2 1155.5) scale(0.9 1)" text-anchor="end" fill="#262626" style="font-size:16px;" >200</text>
<text transform="translate(1265.2 1192.4) scale(0.9 1)" text-anchor="end" fill="#262626" style="font-size:16px;" >250</text>
<text transform="translate(1265.2 1229.2) scale(0.9 1)" text-anchor="end" fill="#262626" style="font-size:16px;" >300</text>
<text transform="translate(1265.2 1266.0) scale(0.9 1)" text-anchor="end" fill="#262626" style="font-size:16px;" >350</text>
<text transform="translate(1265.2 1302.9) scale(0.9 1)" text-anchor="end" fill="#262626" style="font-size:16px;" >400</text>
<text transform="translate(1265.2 1339.7) scale(0.9 1)" text-anchor="end" fill="#262626" style="font-size:16px;" >450</text>
<text transform="translate(1265.2 1376.6) scale(0.9 1)" text-anchor="end" fill="#262626" style="font-size:16px;" >500</text>
<path d="M1345.4 1379.2v-4.5M1345.4 1001.7v4.5M1425.0 1379.2v-4.5M1425.0 1001.7v4.5M1503.7 1379.2v-4.5M1503.7 1001.7v4.5M1582.3 1379.2v-4.5M1582.3 1001.7v4.5M1661.6 1379.2v-4.5M1661.6 1001.7v4.5M1266.2 1036.9h4.5M1670.8 1036.9h-4.5M1266.2 1073.7h4.5M1670.8 1073.7h-4.5M1266.2 1110.6h4.5M1670.8 1110.6h-4.5M1266.2 1147.4h4.5M1670.8 1147.4h-4.5M1266.2 1184.3h4.5M1670.8 1184.3h-4.5M1266.2 1221.1h4.5M1670.8 1221.1h-4.5M1266.2 1257.9h4.5M1670.8 1257.9h-4.5M1266.2 1294.8h4.5M1670.8 1294.8h-4.5M1266.2 1331.6h4.5M1670.8 1331.6h-4.5M1266.2 1368.5h4.5M1670.8 1368.5h-4.5" stroke="#000" stroke-width="1" fill="none"/>
<rect x="1266.2" y="1001.7" width="404.6" height="377.5" fill="none" stroke="#000" stroke-width="1.3"/>
<text transform="translate(1485.8 1417.8)" text-anchor="middle" fill="#262626" style="font-size:15.5px;letter-spacing:1.05px;" >Range (pixel)</text>
<text transform="translate(1221.8 1179.0) rotate(-90)" text-anchor="middle" fill="#262626" style="font-size:15.5px;letter-spacing:1.05px;" >Azimuth (pixel)</text>
<text x="1482.5" y="1473.4" text-anchor="middle" fill="#000" class="pl"><tspan class="pp">(</tspan><tspan class="pb">C3</tspan><tspan class="pp">)</tspan></text>
<rect x="1694.4" y="1001.0" width="31.5" height="379.5" fill="url(#cb3)" stroke="#111" stroke-width="1.2"/>
<text transform="translate(1752.5 1378.1) scale(0.95 1)" text-anchor="end" fill="#262626" style="font-size:16.5px;letter-spacing:1.5px;" >−3</text>
<text transform="translate(1752.5 1317.7) scale(0.95 1)" text-anchor="end" fill="#262626" style="font-size:16.5px;letter-spacing:1.5px;" >−2</text>
<text transform="translate(1752.5 1257.3) scale(0.95 1)" text-anchor="end" fill="#262626" style="font-size:16.5px;letter-spacing:1.5px;" >−1</text>
<text transform="translate(1742.2 1197.0) scale(0.88 1)" text-anchor="end" fill="#262626" style="font-size:16.5px;" >0</text>
<text transform="translate(1742.2 1136.6) scale(0.88 1)" text-anchor="end" fill="#262626" style="font-size:16.5px;" >1</text>
<text transform="translate(1742.2 1076.2) scale(0.88 1)" text-anchor="end" fill="#262626" style="font-size:16.5px;" >2</text>
<text transform="translate(1742.2 1015.8) scale(0.88 1)" text-anchor="end" fill="#262626" style="font-size:16.5px;" >3</text>
<path d="M1694.4 1371.9h3.5M1725.9 1371.9h-3.5M1694.4 1311.5h3.5M1725.9 1311.5h-3.5M1694.4 1251.1h3.5M1725.9 1251.1h-3.5M1694.4 1190.8h3.5M1725.9 1190.8h-3.5M1694.4 1130.4h3.5M1725.9 1130.4h-3.5M1694.4 1070.0h3.5M1725.9 1070.0h-3.5M1694.4 1009.6h3.5M1725.9 1009.6h-3.5" stroke="#111" stroke-width="1" fill="none"/>
</svg>
</body></html>
